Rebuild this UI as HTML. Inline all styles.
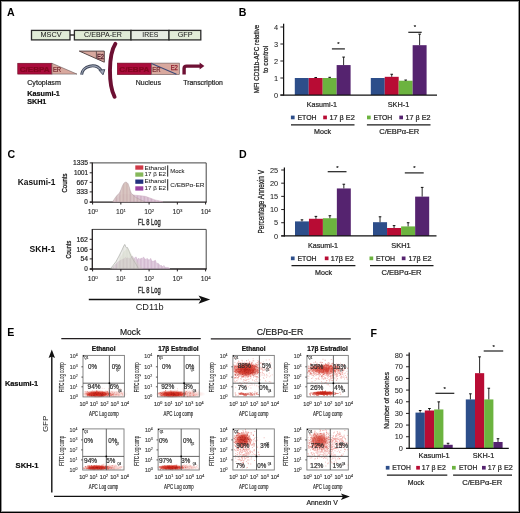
<!DOCTYPE html>
<html><head><meta charset="utf-8"><style>
html,body{margin:0;padding:0;background:#fff;width:520px;height:513px;overflow:hidden}
svg{display:block;font-family:"Liberation Sans",sans-serif;will-change:transform}
</style></head><body>
<svg width="520" height="513" viewBox="0 0 520 513">
<rect width="520" height="513" fill="#fff"/>
<text x="6.90" y="16.30" font-size="10.6" fill="#000" font-weight="bold">A</text>
<line x1="70.00" y1="35.00" x2="74.40" y2="35.00" stroke="#231f20" stroke-width="1.4"/>
<rect x="31.50" y="30.40" width="38.50" height="9.50" fill="#e1ecd7" stroke="#2b2b2b" stroke-width="1.3"/>
<text x="51.05" y="37.20" font-size="7" fill="#222" text-anchor="middle" textLength="21" lengthAdjust="spacingAndGlyphs" stroke="#333" stroke-width="0.05">MSCV</text>
<rect x="74.40" y="30.40" width="56.60" height="9.50" fill="#e1ecd7" stroke="#2b2b2b" stroke-width="1.3"/>
<text x="103.00" y="37.20" font-size="7" fill="#222" text-anchor="middle" textLength="37.8" lengthAdjust="spacingAndGlyphs" stroke="#333" stroke-width="0.05">C/EBPA-ER</text>
<rect x="131.00" y="30.40" width="38.00" height="9.50" fill="#e6ebe2" stroke="#2b2b2b" stroke-width="1.3"/>
<text x="150.30" y="37.20" font-size="7" fill="#222" text-anchor="middle" textLength="16" lengthAdjust="spacingAndGlyphs" stroke="#333" stroke-width="0.05">IRES</text>
<rect x="169.00" y="30.40" width="31.80" height="9.50" fill="#e1ecd7" stroke="#2b2b2b" stroke-width="1.3"/>
<text x="185.20" y="37.20" font-size="7" fill="#222" text-anchor="middle" textLength="15" lengthAdjust="spacingAndGlyphs" stroke="#333" stroke-width="0.05">GFP</text>
<rect x="17.75" y="63.25" width="34.15" height="10.85" fill="#aa0c3c" stroke="#6a0a22" stroke-width="0.6"/>
<text x="19.70" y="71.60" font-size="8" fill="#82061f" stroke="#82061f" stroke-width="0.22" font-weight="bold" textLength="30" lengthAdjust="spacingAndGlyphs">C/EBPA</text>
<polygon points="51.9,63.25 77,74.1 51.9,74.1" fill="#d8a89e" stroke="#6a5a5a" stroke-width="0.6"/>
<text x="52.90" y="72.40" font-size="7.4" fill="#6e2028" stroke="#6e2028" stroke-width="0.2" textLength="8.3" lengthAdjust="spacingAndGlyphs">ER</text>
<polygon points="79.3,51.1 104.3,51.1 104.3,62.2" fill="#d8a89e" stroke="#4a3a3a" stroke-width="0.9"/>
<line x1="96.40" y1="51.30" x2="96.40" y2="58.60" stroke="#4a3a3a" stroke-width="0.8"/>
<text x="96.90" y="58.60" font-size="7.6" fill="#e8b8b8" textLength="7.2" lengthAdjust="spacingAndGlyphs" stroke="#5a2430" stroke-width="0.55">E2</text>
<path d="M81.6,74.6 A10.6,9.4 0 0 1 101.2,70.4" fill="none" stroke="#3c4456" stroke-width="3"/>
<path d="M81.6,74.6 A10.6,9.4 0 0 1 101.2,70.4" fill="none" stroke="#a0a8ba" stroke-width="1.1"/>
<polygon points="99,70.2 104.8,69.6 103,74.8" fill="#a0a8ba" stroke="#3c4456" stroke-width="0.9" stroke-linejoin="round"/>
<path d="M115.4,43.8 C108.3,55 108.3,85 114.6,96.8" fill="none" stroke="#6c0f32" stroke-width="3.9" stroke-linecap="round"/>
<rect x="117.30" y="63.10" width="34.20" height="11.50" fill="#aa0c3c" stroke="#6a0a22" stroke-width="0.6"/>
<text x="119.30" y="71.80" font-size="8" fill="#82061f" stroke="#82061f" stroke-width="0.22" font-weight="bold" textLength="30" lengthAdjust="spacingAndGlyphs">C/EBPA</text>
<rect x="151.50" y="63.10" width="27.90" height="11.50" fill="#d8a89e" stroke="#6a5a5a" stroke-width="0.6"/>
<line x1="151.50" y1="63.50" x2="176.50" y2="74.20" stroke="#3c4a78" stroke-width="1.1"/>
<text x="152.20" y="72.20" font-size="7.4" fill="#6e2028" stroke="#6e2028" stroke-width="0.2" textLength="8.3" lengthAdjust="spacingAndGlyphs">ER</text>
<text x="170.70" y="70.20" font-size="7.5" fill="#8a1426" textLength="7.2" lengthAdjust="spacingAndGlyphs" stroke="#8a1426" stroke-width="0.25">E2</text>
<path d="M184.1,74.6 V68.6 Q184.1,66.1 186.6,66.1 H201" fill="none" stroke="#6e1034" stroke-width="3.4"/>
<polygon points="199.6,62.5 204.4,66.1 199.6,69.6" fill="#6e1034"/>
<text x="27.20" y="84.60" font-size="7" fill="#222" stroke="#222" stroke-width="0.2" textLength="33.7" lengthAdjust="spacingAndGlyphs">Cytoplasm</text>
<text x="27.20" y="95.90" font-size="7.2" fill="#111" stroke="#111" stroke-width="0.22" font-weight="bold" textLength="32.7" lengthAdjust="spacingAndGlyphs">Kasumi-1</text>
<text x="27.20" y="104.00" font-size="7.2" fill="#111" stroke="#111" stroke-width="0.22" font-weight="bold" textLength="19.2" lengthAdjust="spacingAndGlyphs">SKH1</text>
<text x="135.80" y="85.00" font-size="7" fill="#222" stroke="#222" stroke-width="0.2" textLength="25.2" lengthAdjust="spacingAndGlyphs">Nucleus</text>
<text x="183.30" y="84.90" font-size="7" fill="#222" stroke="#222" stroke-width="0.2" textLength="39.5" lengthAdjust="spacingAndGlyphs">Transcription</text>
<text x="238.80" y="16.40" font-size="10.6" fill="#000" font-weight="bold">B</text>
<rect x="294.80" y="78.00" width="13.95" height="17.00" fill="#2d4e8a"/>
<rect x="308.75" y="78.00" width="13.95" height="17.00" fill="#b80c34"/>
<line x1="315.73" y1="78.00" x2="315.73" y2="77.49" stroke="#111" stroke-width="0.9"/>
<line x1="314.43" y1="77.49" x2="317.03" y2="77.49" stroke="#111" stroke-width="1.0"/>
<rect x="322.70" y="78.00" width="13.95" height="17.00" fill="#6cb33f"/>
<line x1="329.68" y1="78.00" x2="329.68" y2="77.32" stroke="#111" stroke-width="0.9"/>
<line x1="328.38" y1="77.32" x2="330.98" y2="77.32" stroke="#111" stroke-width="1.0"/>
<rect x="336.65" y="65.08" width="13.95" height="29.92" fill="#55236f"/>
<line x1="343.62" y1="65.08" x2="343.62" y2="57.09" stroke="#111" stroke-width="0.9"/>
<line x1="342.32" y1="57.09" x2="344.93" y2="57.09" stroke="#111" stroke-width="1.0"/>
<rect x="370.80" y="78.00" width="13.95" height="17.00" fill="#2d4e8a"/>
<rect x="384.75" y="76.81" width="13.95" height="18.19" fill="#b80c34"/>
<line x1="391.73" y1="76.81" x2="391.73" y2="74.26" stroke="#111" stroke-width="0.9"/>
<line x1="390.43" y1="74.26" x2="393.03" y2="74.26" stroke="#111" stroke-width="1.0"/>
<rect x="398.70" y="80.72" width="13.95" height="14.28" fill="#6cb33f"/>
<line x1="405.68" y1="80.72" x2="405.68" y2="80.04" stroke="#111" stroke-width="0.9"/>
<line x1="404.38" y1="80.04" x2="406.98" y2="80.04" stroke="#111" stroke-width="1.0"/>
<rect x="412.65" y="45.19" width="13.95" height="49.81" fill="#55236f"/>
<line x1="419.62" y1="45.19" x2="419.62" y2="34.14" stroke="#111" stroke-width="0.9"/>
<line x1="418.32" y1="34.14" x2="420.93" y2="34.14" stroke="#111" stroke-width="1.0"/>
<line x1="283.60" y1="23.70" x2="283.60" y2="95.60" stroke="#111" stroke-width="1.25"/>
<line x1="280.40" y1="95.00" x2="437.00" y2="95.00" stroke="#111" stroke-width="1.25"/>
<line x1="280.40" y1="95.00" x2="283.60" y2="95.00" stroke="#231f20" stroke-width="1.0"/>
<text x="278.00" y="97.66" font-size="7.4" fill="#222" text-anchor="end" stroke="#333" stroke-width="0.05">0</text>
<line x1="280.40" y1="78.00" x2="283.60" y2="78.00" stroke="#231f20" stroke-width="1.0"/>
<text x="278.00" y="80.66" font-size="7.4" fill="#222" text-anchor="end" stroke="#333" stroke-width="0.05">1</text>
<line x1="280.40" y1="61.00" x2="283.60" y2="61.00" stroke="#231f20" stroke-width="1.0"/>
<text x="278.00" y="63.66" font-size="7.4" fill="#222" text-anchor="end" stroke="#333" stroke-width="0.05">2</text>
<line x1="280.40" y1="44.00" x2="283.60" y2="44.00" stroke="#231f20" stroke-width="1.0"/>
<text x="278.00" y="46.66" font-size="7.4" fill="#222" text-anchor="end" stroke="#333" stroke-width="0.05">3</text>
<line x1="280.40" y1="27.00" x2="283.60" y2="27.00" stroke="#231f20" stroke-width="1.0"/>
<text x="278.00" y="29.66" font-size="7.4" fill="#222" text-anchor="end" stroke="#333" stroke-width="0.05">4</text>
<line x1="331.90" y1="48.90" x2="344.90" y2="48.90" stroke="#1e1e1e" stroke-width="1.2"/>
<text x="338.50" y="46.40" font-size="6" fill="#222" stroke="#222" stroke-width="0.2" text-anchor="middle">*</text>
<line x1="408.30" y1="32.30" x2="421.70" y2="32.30" stroke="#1e1e1e" stroke-width="1.2"/>
<text x="415.00" y="29.40" font-size="6" fill="#222" stroke="#222" stroke-width="0.2" text-anchor="middle">*</text>
<text x="258.60" y="59.00" font-size="7.4" fill="#222" text-anchor="middle" textLength="68.6" lengthAdjust="spacingAndGlyphs" transform="rotate(-90 258.60 59.00)" stroke="#222" stroke-width="0.25">MFI CD11b-APC relative</text>
<text x="268.00" y="59.40" font-size="7.4" fill="#222" text-anchor="middle" textLength="27.3" lengthAdjust="spacingAndGlyphs" transform="rotate(-90 268.00 59.40)" stroke="#222" stroke-width="0.25">to control</text>
<text x="321.90" y="106.80" font-size="7.3" fill="#222" stroke="#222" stroke-width="0.2" text-anchor="middle" textLength="30.2" lengthAdjust="spacingAndGlyphs">Kasumi-1</text>
<text x="398.50" y="106.80" font-size="7.3" fill="#222" stroke="#222" stroke-width="0.2" text-anchor="middle">SKH-1</text>
<rect x="290.90" y="115.60" width="3.70" height="3.70" fill="#2d4e8a"/>
<text x="297.50" y="119.90" font-size="7" fill="#222" stroke="#222" stroke-width="0.2" textLength="19.1" lengthAdjust="spacingAndGlyphs">ETOH</text>
<rect x="323.20" y="115.60" width="3.70" height="3.70" fill="#b80c34"/>
<text x="329.40" y="119.90" font-size="7" fill="#222" stroke="#222" stroke-width="0.2" textLength="25.4" lengthAdjust="spacingAndGlyphs">17 β E2</text>
<rect x="367.00" y="115.60" width="3.70" height="3.70" fill="#6cb33f"/>
<text x="373.50" y="119.90" font-size="7" fill="#222" stroke="#222" stroke-width="0.2" textLength="18.8" lengthAdjust="spacingAndGlyphs">ETOH</text>
<rect x="399.30" y="115.60" width="3.70" height="3.70" fill="#55236f"/>
<text x="405.40" y="119.90" font-size="7" fill="#222" stroke="#222" stroke-width="0.2" textLength="25.1" lengthAdjust="spacingAndGlyphs">17 β E2</text>
<line x1="291.00" y1="124.80" x2="354.50" y2="124.80" stroke="#1a1a1a" stroke-width="1.3"/>
<line x1="366.90" y1="124.80" x2="430.50" y2="124.80" stroke="#1a1a1a" stroke-width="1.3"/>
<text x="322.50" y="133.70" font-size="7" fill="#222" stroke="#222" stroke-width="0.2" text-anchor="middle" textLength="17" lengthAdjust="spacingAndGlyphs">Mock</text>
<text x="399.20" y="133.70" font-size="7" fill="#222" stroke="#222" stroke-width="0.2" text-anchor="middle" textLength="40" lengthAdjust="spacingAndGlyphs">C/EBPα-ER</text>
<text x="7.40" y="157.70" font-size="10.6" fill="#000" font-weight="bold">C</text>
<text x="17.80" y="185.00" font-size="9" fill="#111" font-weight="bold" textLength="37.6" lengthAdjust="spacingAndGlyphs">Kasumi-1</text>
<text x="29.60" y="251.90" font-size="9" fill="#111" font-weight="bold" textLength="25.8" lengthAdjust="spacingAndGlyphs">SKH-1</text>
<line x1="92.30" y1="162.90" x2="206.20" y2="162.90" stroke="#444" stroke-width="1.0"/>
<line x1="206.20" y1="162.90" x2="206.20" y2="202.10" stroke="#444" stroke-width="1.0"/>
<line x1="92.30" y1="162.40" x2="92.30" y2="202.60" stroke="#231f20" stroke-width="1.3"/>
<line x1="89.80" y1="202.10" x2="206.70" y2="202.10" stroke="#231f20" stroke-width="1.3"/>
<line x1="89.70" y1="162.90" x2="92.30" y2="162.90" stroke="#231f20" stroke-width="1.0"/>
<text x="87.90" y="165.10" font-size="6.4" fill="#2a2a2a" stroke="#2a2a2a" stroke-width="0.2" text-anchor="end" textLength="15" lengthAdjust="spacingAndGlyphs">1335</text>
<line x1="89.70" y1="172.80" x2="92.30" y2="172.80" stroke="#231f20" stroke-width="1.0"/>
<text x="87.90" y="175.00" font-size="6.4" fill="#2a2a2a" stroke="#2a2a2a" stroke-width="0.2" text-anchor="end" textLength="14" lengthAdjust="spacingAndGlyphs">1001</text>
<line x1="89.70" y1="182.30" x2="92.30" y2="182.30" stroke="#231f20" stroke-width="1.0"/>
<text x="87.90" y="184.50" font-size="6.4" fill="#2a2a2a" stroke="#2a2a2a" stroke-width="0.2" text-anchor="end" textLength="11.5" lengthAdjust="spacingAndGlyphs">667</text>
<line x1="89.70" y1="191.90" x2="92.30" y2="191.90" stroke="#231f20" stroke-width="1.0"/>
<text x="87.90" y="194.10" font-size="6.4" fill="#2a2a2a" stroke="#2a2a2a" stroke-width="0.2" text-anchor="end" textLength="11.5" lengthAdjust="spacingAndGlyphs">333</text>
<line x1="89.70" y1="202.10" x2="92.30" y2="202.10" stroke="#231f20" stroke-width="1.0"/>
<text x="87.90" y="204.30" font-size="6.4" fill="#2a2a2a" stroke="#2a2a2a" stroke-width="0.2" text-anchor="end">0</text>
<line x1="92.60" y1="202.10" x2="92.60" y2="204.50" stroke="#231f20" stroke-width="1.0"/>
<text x="87.70" y="214.40" font-size="6.8" fill="#2a2a2a" stroke="#2a2a2a" stroke-width="0.1">10<tspan font-size="4.4" dy="-2.8">0</tspan></text>
<line x1="120.85" y1="202.10" x2="120.85" y2="204.50" stroke="#231f20" stroke-width="1.0"/>
<text x="115.95" y="214.40" font-size="6.8" fill="#2a2a2a" stroke="#2a2a2a" stroke-width="0.1">10<tspan font-size="4.4" dy="-2.8">1</tspan></text>
<line x1="149.10" y1="202.10" x2="149.10" y2="204.50" stroke="#231f20" stroke-width="1.0"/>
<text x="144.20" y="214.40" font-size="6.8" fill="#2a2a2a" stroke="#2a2a2a" stroke-width="0.1">10<tspan font-size="4.4" dy="-2.8">2</tspan></text>
<line x1="177.35" y1="202.10" x2="177.35" y2="204.50" stroke="#231f20" stroke-width="1.0"/>
<text x="172.45" y="214.40" font-size="6.8" fill="#2a2a2a" stroke="#2a2a2a" stroke-width="0.1">10<tspan font-size="4.4" dy="-2.8">3</tspan></text>
<line x1="205.60" y1="202.10" x2="205.60" y2="204.50" stroke="#231f20" stroke-width="1.0"/>
<text x="200.70" y="214.40" font-size="6.8" fill="#2a2a2a" stroke="#2a2a2a" stroke-width="0.1">10<tspan font-size="4.4" dy="-2.8">4</tspan></text>
<text x="66.60" y="183.00" font-size="7.4" fill="#222" text-anchor="middle" textLength="19" lengthAdjust="spacingAndGlyphs" transform="rotate(-90 66.60 183.00)" stroke="#222" stroke-width="0.3">Counts</text>
<text x="149.40" y="225.10" font-size="8.6" fill="#1e1e1e" text-anchor="middle" textLength="22.7" lengthAdjust="spacingAndGlyphs" stroke="#1e1e1e" stroke-width="0.3">FL 8 Log</text>
<line x1="92.30" y1="229.40" x2="206.20" y2="229.40" stroke="#444" stroke-width="1.0"/>
<line x1="206.20" y1="229.40" x2="206.20" y2="269.00" stroke="#444" stroke-width="1.0"/>
<line x1="92.30" y1="228.90" x2="92.30" y2="269.50" stroke="#231f20" stroke-width="1.3"/>
<line x1="89.80" y1="269.00" x2="206.70" y2="269.00" stroke="#231f20" stroke-width="1.3"/>
<line x1="89.70" y1="239.30" x2="92.30" y2="239.30" stroke="#231f20" stroke-width="1.0"/>
<text x="87.90" y="241.50" font-size="6.4" fill="#2a2a2a" stroke="#2a2a2a" stroke-width="0.2" text-anchor="end" textLength="11.5" lengthAdjust="spacingAndGlyphs">162</text>
<line x1="89.70" y1="249.30" x2="92.30" y2="249.30" stroke="#231f20" stroke-width="1.0"/>
<text x="87.90" y="251.50" font-size="6.4" fill="#2a2a2a" stroke="#2a2a2a" stroke-width="0.2" text-anchor="end" textLength="11.5" lengthAdjust="spacingAndGlyphs">106</text>
<line x1="89.70" y1="258.90" x2="92.30" y2="258.90" stroke="#231f20" stroke-width="1.0"/>
<text x="87.90" y="261.10" font-size="6.4" fill="#2a2a2a" stroke="#2a2a2a" stroke-width="0.2" text-anchor="end" textLength="7.5" lengthAdjust="spacingAndGlyphs">54</text>
<line x1="89.70" y1="269.00" x2="92.30" y2="269.00" stroke="#231f20" stroke-width="1.0"/>
<text x="87.90" y="271.20" font-size="6.4" fill="#2a2a2a" stroke="#2a2a2a" stroke-width="0.2" text-anchor="end">0</text>
<line x1="92.60" y1="269.00" x2="92.60" y2="271.40" stroke="#231f20" stroke-width="1.0"/>
<text x="87.70" y="281.30" font-size="6.8" fill="#2a2a2a" stroke="#2a2a2a" stroke-width="0.1">10<tspan font-size="4.4" dy="-2.8">0</tspan></text>
<line x1="120.85" y1="269.00" x2="120.85" y2="271.40" stroke="#231f20" stroke-width="1.0"/>
<text x="115.95" y="281.30" font-size="6.8" fill="#2a2a2a" stroke="#2a2a2a" stroke-width="0.1">10<tspan font-size="4.4" dy="-2.8">1</tspan></text>
<line x1="149.10" y1="269.00" x2="149.10" y2="271.40" stroke="#231f20" stroke-width="1.0"/>
<text x="144.20" y="281.30" font-size="6.8" fill="#2a2a2a" stroke="#2a2a2a" stroke-width="0.1">10<tspan font-size="4.4" dy="-2.8">2</tspan></text>
<line x1="177.35" y1="269.00" x2="177.35" y2="271.40" stroke="#231f20" stroke-width="1.0"/>
<text x="172.45" y="281.30" font-size="6.8" fill="#2a2a2a" stroke="#2a2a2a" stroke-width="0.1">10<tspan font-size="4.4" dy="-2.8">3</tspan></text>
<line x1="205.60" y1="269.00" x2="205.60" y2="271.40" stroke="#231f20" stroke-width="1.0"/>
<text x="200.70" y="281.30" font-size="6.8" fill="#2a2a2a" stroke="#2a2a2a" stroke-width="0.1">10<tspan font-size="4.4" dy="-2.8">4</tspan></text>
<text x="70.60" y="249.70" font-size="7.4" fill="#222" text-anchor="middle" textLength="17.8" lengthAdjust="spacingAndGlyphs" transform="rotate(-90 70.60 249.70)" stroke="#222" stroke-width="0.3">Counts</text>
<text x="149.40" y="293.30" font-size="8.6" fill="#1e1e1e" text-anchor="middle" textLength="22.7" lengthAdjust="spacingAndGlyphs" stroke="#1e1e1e" stroke-width="0.3">FL 8 Log</text>
<defs><pattern id="hat" width="1.4" height="2" patternUnits="userSpaceOnUse"><rect width="1.4" height="2" fill="#ddcbcb"/><rect width="0.6" height="2" fill="#c6abb0"/></pattern><pattern id="hat2" width="1.4" height="2" patternUnits="userSpaceOnUse"><rect width="1.4" height="2" fill="#dfc9d8"/><rect width="0.6" height="2" fill="#c8a6c0"/></pattern><pattern id="hat3" width="1.4" height="2" patternUnits="userSpaceOnUse"><rect width="1.4" height="2" fill="#dcdcd6"/><rect width="0.6" height="2" fill="#c4c6bc"/></pattern><pattern id="hat4" width="1.4" height="2" patternUnits="userSpaceOnUse"><rect width="1.4" height="2" fill="#e2cfe0"/><rect width="0.6" height="2" fill="#cdb0ca"/></pattern></defs>
<polygon points="113.5,201.7 117.0,198.5 120.0,195.5 123.0,194.2 127.0,194.2 131.0,194.6 135.0,195.2 139.0,195.6 143.0,196.0 146.0,196.5 150.0,198.0 155.0,199.9 160.0,201.0 163.0,201.7" fill="url(#hat2)" fill-opacity="0.95" stroke="#c8a2b8" stroke-width="0.5" stroke-opacity="0.8"/>
<polygon points="112.6,201.7 114.0,199.6 115.5,197.3 117.5,194.8 119.5,193.0 121.0,189.5 122.3,186.2 123.6,183.6 125.0,182.3 125.8,182.1 126.8,182.4 128.0,183.6 129.2,186.8 130.2,190.2 131.2,193.0 133.0,195.0 136.0,197.5 140.0,199.6 145.0,201.7" fill="url(#hat)" fill-opacity="0.92" stroke="#a89498" stroke-width="0.5" stroke-opacity="0.8"/>
<polygon points="119.0,201.7 121.5,190.0 123.5,184.5 125.5,182.5 127.0,183.0 128.5,185.5 129.5,190.0 130.0,201.7" fill="#d0b8a8" fill-opacity="0.3"/>
<polygon points="112.0,268.6 115.0,265.0 118.0,262.0 121.0,260.0 124.0,258.8 125.5,257.3 126.7,258.4 127.9,257.7 129.1,258.6 130.3,258.7 131.5,256.6 132.7,256.4 133.9,259.4 135.1,257.3 136.3,257.2 137.5,260.0 138.7,258.1 139.9,259.4 141.1,258.1 142.3,258.7 143.5,256.9 144.7,258.7 145.9,259.5 147.1,258.3 148.3,259.7 149.5,259.9 150.7,258.3 151.9,261.3 153.1,261.3 154.3,260.8 155.5,260.3 156.7,263.9 157.9,263.0 159.1,264.4 160.3,265.5 161.5,265.5 162.7,266.8 163.9,265.4 165.1,267.4 168.0,267.5 170.0,268.6" fill="url(#hat4)" fill-opacity="0.95" stroke="#c8a8c6" stroke-width="0.5" stroke-opacity="0.8"/>
<polygon points="110.5,268.6 113.0,265.5 116.0,261.5 119.0,256.0 121.5,251.0 123.3,247.0 124.4,244.8 125.0,244.5 125.8,247.0 126.6,247.8 127.5,247.6 128.4,249.5 130.0,253.5 132.0,258.0 135.0,262.5 138.5,268.6" fill="url(#hat3)" fill-opacity="0.5" stroke="#8e9088" stroke-width="0.6" stroke-opacity="0.8"/>
<polygon points="117.0,268.6 120.0,258.0 123.5,252.0 126.0,249.5 127.8,248.4 129.5,250.5 132.0,255.0 135.0,259.5 139.0,264.0 143.0,268.6" fill="#cdd3bf" fill-opacity="0.35"/>
<line x1="88.80" y1="299.50" x2="200.00" y2="299.50" stroke="#111" stroke-width="1.3"/>
<polygon points="198.5,295.4 210.2,299.5 198.5,303.7 201,299.5" fill="#111"/>
<text x="149.70" y="310.00" font-size="9" fill="#1a1a1a" text-anchor="middle" textLength="28" lengthAdjust="spacingAndGlyphs">CD11b</text>
<rect x="135.30" y="165.40" width="8.00" height="4.30" fill="#cf3a48"/>
<text x="144.60" y="169.50" font-size="5.8" fill="#222" textLength="21.4" lengthAdjust="spacingAndGlyphs" stroke="#222" stroke-width="0.05">Ethanol</text>
<rect x="135.30" y="172.40" width="8.00" height="4.30" fill="#86b85a"/>
<text x="144.60" y="176.30" font-size="5.8" fill="#222" textLength="21.4" lengthAdjust="spacingAndGlyphs" stroke="#222" stroke-width="0.05">17 β E2</text>
<rect x="135.30" y="179.50" width="8.00" height="4.30" fill="#22307e"/>
<text x="144.60" y="183.20" font-size="5.8" fill="#222" textLength="21.4" lengthAdjust="spacingAndGlyphs" stroke="#222" stroke-width="0.05">Ethanol</text>
<rect x="135.30" y="186.30" width="8.00" height="4.30" fill="#9b44a4"/>
<text x="144.60" y="190.00" font-size="5.8" fill="#222" textLength="21.4" lengthAdjust="spacingAndGlyphs" stroke="#222" stroke-width="0.05">17 β E2</text>
<line x1="167.70" y1="165.40" x2="167.70" y2="176.60" stroke="#222" stroke-width="1.0"/>
<line x1="167.70" y1="179.20" x2="167.70" y2="190.50" stroke="#222" stroke-width="1.0"/>
<text x="170.30" y="172.60" font-size="6" fill="#222" textLength="14.3" lengthAdjust="spacingAndGlyphs" stroke="#222" stroke-width="0.05">Mock</text>
<text x="170.30" y="186.50" font-size="6" fill="#222" textLength="34" lengthAdjust="spacingAndGlyphs" stroke="#222" stroke-width="0.05">C/EBPα-ER</text>
<text x="238.90" y="157.60" font-size="10.6" fill="#000" font-weight="bold">D</text>
<rect x="295.00" y="221.40" width="13.95" height="14.50" fill="#2d4e8a"/>
<line x1="301.98" y1="221.40" x2="301.98" y2="219.82" stroke="#111" stroke-width="0.9"/>
<line x1="300.68" y1="219.82" x2="303.28" y2="219.82" stroke="#111" stroke-width="1.0"/>
<rect x="308.95" y="218.77" width="13.95" height="17.13" fill="#b80c34"/>
<line x1="315.93" y1="218.77" x2="315.93" y2="216.39" stroke="#111" stroke-width="0.9"/>
<line x1="314.62" y1="216.39" x2="317.23" y2="216.39" stroke="#111" stroke-width="1.0"/>
<rect x="322.90" y="218.24" width="13.95" height="17.66" fill="#6cb33f"/>
<line x1="329.88" y1="218.24" x2="329.88" y2="215.73" stroke="#111" stroke-width="0.9"/>
<line x1="328.57" y1="215.73" x2="331.18" y2="215.73" stroke="#111" stroke-width="1.0"/>
<rect x="336.85" y="188.45" width="13.95" height="47.45" fill="#55236f"/>
<line x1="343.83" y1="188.45" x2="343.83" y2="184.23" stroke="#111" stroke-width="0.9"/>
<line x1="342.53" y1="184.23" x2="345.13" y2="184.23" stroke="#111" stroke-width="1.0"/>
<rect x="373.00" y="222.19" width="14.05" height="13.71" fill="#2d4e8a"/>
<line x1="380.02" y1="222.19" x2="380.02" y2="216.79" stroke="#111" stroke-width="0.9"/>
<line x1="378.72" y1="216.79" x2="381.32" y2="216.79" stroke="#111" stroke-width="1.0"/>
<rect x="387.05" y="227.99" width="14.05" height="7.91" fill="#b80c34"/>
<line x1="394.07" y1="227.99" x2="394.07" y2="225.62" stroke="#111" stroke-width="0.9"/>
<line x1="392.77" y1="225.62" x2="395.38" y2="225.62" stroke="#111" stroke-width="1.0"/>
<rect x="401.10" y="226.41" width="14.05" height="9.49" fill="#6cb33f"/>
<line x1="408.12" y1="226.41" x2="408.12" y2="222.72" stroke="#111" stroke-width="0.9"/>
<line x1="406.82" y1="222.72" x2="409.43" y2="222.72" stroke="#111" stroke-width="1.0"/>
<rect x="415.15" y="196.62" width="14.05" height="39.28" fill="#55236f"/>
<line x1="422.17" y1="196.62" x2="422.17" y2="187.40" stroke="#111" stroke-width="0.9"/>
<line x1="420.87" y1="187.40" x2="423.47" y2="187.40" stroke="#111" stroke-width="1.0"/>
<line x1="284.40" y1="167.50" x2="284.40" y2="236.50" stroke="#111" stroke-width="1.25"/>
<line x1="281.20" y1="235.90" x2="436.50" y2="235.90" stroke="#111" stroke-width="1.25"/>
<line x1="281.20" y1="235.90" x2="284.40" y2="235.90" stroke="#231f20" stroke-width="1.0"/>
<text x="278.20" y="238.56" font-size="7.4" fill="#222" text-anchor="end" stroke="#333" stroke-width="0.05">0</text>
<line x1="281.20" y1="222.72" x2="284.40" y2="222.72" stroke="#231f20" stroke-width="1.0"/>
<text x="278.20" y="225.38" font-size="7.4" fill="#222" text-anchor="end" stroke="#333" stroke-width="0.05">5</text>
<line x1="281.20" y1="209.54" x2="284.40" y2="209.54" stroke="#231f20" stroke-width="1.0"/>
<text x="278.20" y="212.20" font-size="7.4" fill="#222" text-anchor="end" stroke="#333" stroke-width="0.05">10</text>
<line x1="281.20" y1="196.36" x2="284.40" y2="196.36" stroke="#231f20" stroke-width="1.0"/>
<text x="278.20" y="199.02" font-size="7.4" fill="#222" text-anchor="end" stroke="#333" stroke-width="0.05">15</text>
<line x1="281.20" y1="183.18" x2="284.40" y2="183.18" stroke="#231f20" stroke-width="1.0"/>
<text x="278.20" y="185.84" font-size="7.4" fill="#222" text-anchor="end" stroke="#333" stroke-width="0.05">20</text>
<line x1="281.20" y1="170.00" x2="284.40" y2="170.00" stroke="#231f20" stroke-width="1.0"/>
<text x="278.20" y="172.66" font-size="7.4" fill="#222" text-anchor="end" stroke="#333" stroke-width="0.05">25</text>
<line x1="327.70" y1="171.70" x2="346.50" y2="171.70" stroke="#1e1e1e" stroke-width="1.2"/>
<text x="337.30" y="169.70" font-size="6" fill="#222" stroke="#222" stroke-width="0.2" text-anchor="middle">*</text>
<line x1="404.80" y1="172.90" x2="423.70" y2="172.90" stroke="#1e1e1e" stroke-width="1.2"/>
<text x="414.40" y="170.10" font-size="6" fill="#222" stroke="#222" stroke-width="0.2" text-anchor="middle">*</text>
<text x="263.60" y="201.70" font-size="8.4" fill="#222" text-anchor="middle" textLength="63.4" lengthAdjust="spacingAndGlyphs" transform="rotate(-90 263.60 201.70)" stroke="#222" stroke-width="0.25">Percentage Annexin V</text>
<text x="323.00" y="247.50" font-size="7.3" fill="#222" stroke="#222" stroke-width="0.2" text-anchor="middle" textLength="30.2" lengthAdjust="spacingAndGlyphs">Kasumi-1</text>
<text x="401.00" y="247.50" font-size="7.3" fill="#222" stroke="#222" stroke-width="0.2" text-anchor="middle" textLength="19.3" lengthAdjust="spacingAndGlyphs">SKH1</text>
<rect x="290.90" y="256.50" width="3.70" height="3.70" fill="#2d4e8a"/>
<text x="297.50" y="260.80" font-size="7" fill="#222" stroke="#222" stroke-width="0.2" textLength="19.1" lengthAdjust="spacingAndGlyphs">ETOH</text>
<rect x="324.80" y="256.50" width="3.70" height="3.70" fill="#b80c34"/>
<text x="330.80" y="260.80" font-size="7" fill="#222" stroke="#222" stroke-width="0.2" textLength="23" lengthAdjust="spacingAndGlyphs">17β E2</text>
<rect x="369.50" y="256.50" width="3.70" height="3.70" fill="#6cb33f"/>
<text x="376.00" y="260.80" font-size="7" fill="#222" stroke="#222" stroke-width="0.2" textLength="19.1" lengthAdjust="spacingAndGlyphs">ETOH</text>
<rect x="401.80" y="256.50" width="3.70" height="3.70" fill="#55236f"/>
<text x="408.50" y="260.80" font-size="7" fill="#222" stroke="#222" stroke-width="0.2" textLength="23" lengthAdjust="spacingAndGlyphs">17β E2</text>
<line x1="291.50" y1="265.60" x2="355.40" y2="265.60" stroke="#1a1a1a" stroke-width="1.3"/>
<line x1="370.00" y1="265.60" x2="433.50" y2="265.60" stroke="#1a1a1a" stroke-width="1.3"/>
<text x="323.50" y="274.90" font-size="7" fill="#222" stroke="#222" stroke-width="0.2" text-anchor="middle" textLength="17" lengthAdjust="spacingAndGlyphs">Mock</text>
<text x="401.50" y="274.80" font-size="7" fill="#222" stroke="#222" stroke-width="0.2" text-anchor="middle" textLength="40" lengthAdjust="spacingAndGlyphs">C/EBPα-ER</text>
<text x="7.20" y="336.00" font-size="10.6" fill="#000" font-weight="bold">E</text>
<text x="130.20" y="334.60" font-size="8.5" fill="#1a1a1a" text-anchor="middle" textLength="20.4" lengthAdjust="spacingAndGlyphs" stroke="#1a1a1a" stroke-width="0.18">Mock</text>
<text x="280.00" y="334.80" font-size="8.5" fill="#1a1a1a" text-anchor="middle" textLength="46.5" lengthAdjust="spacingAndGlyphs" stroke="#1a1a1a" stroke-width="0.18">C/EBPα-ER</text>
<line x1="61.30" y1="338.70" x2="200.80" y2="338.70" stroke="#231f20" stroke-width="1.3"/>
<line x1="210.80" y1="338.90" x2="350.80" y2="338.90" stroke="#231f20" stroke-width="1.3"/>
<text x="4.90" y="386.10" font-size="7.5" fill="#111" stroke="#111" stroke-width="0.22" font-weight="bold" textLength="33.3" lengthAdjust="spacingAndGlyphs">Kasumi-1</text>
<text x="15.60" y="467.60" font-size="8" fill="#111" stroke="#111" stroke-width="0.22" font-weight="bold" textLength="22.8" lengthAdjust="spacingAndGlyphs">SKH-1</text>
<line x1="51.80" y1="492.50" x2="51.80" y2="356.00" stroke="#111" stroke-width="1.4"/>
<polygon points="48.6,358 51.8,349.5 55,358 51.8,356.5" fill="#111"/>
<text x="47.60" y="423.90" font-size="8" fill="#222" text-anchor="middle" textLength="16.4" lengthAdjust="spacingAndGlyphs" transform="rotate(-90 47.60 423.90)">GFP</text>
<line x1="54.00" y1="496.40" x2="343.00" y2="496.40" stroke="#111" stroke-width="1.4"/>
<polygon points="340.9,493.4 349.9,496.4 340.9,499.9 343,496.4" fill="#111"/>
<text x="322.10" y="505.30" font-size="7" fill="#222" stroke="#222" stroke-width="0.2" text-anchor="middle" textLength="31.4" lengthAdjust="spacingAndGlyphs">Annexin V</text>
<defs><radialGradient id="rg"><stop offset="0" stop-color="#c41c0e" stop-opacity="0.95"/><stop offset="0.55" stop-color="#d22a18" stop-opacity="0.75"/><stop offset="1" stop-color="#e26050" stop-opacity="0"/></radialGradient></defs>
<path d="M97.0 394.4h0.9v0.9h-0.9zM120.9 392.3h0.9v0.9h-0.9zM95.8 393.3h0.9v0.9h-0.9zM115.4 396.1h0.9v0.9h-0.9zM97.1 390.5h0.9v0.9h-0.9zM117.8 394.6h0.9v0.9h-0.9zM109.1 392.9h0.9v0.9h-0.9zM101.7 390.8h0.9v0.9h-0.9zM111.2 393.8h0.9v0.9h-0.9zM106.5 393.4h0.9v0.9h-0.9zM113.1 395.1h0.9v0.9h-0.9zM122.0 394.0h0.9v0.9h-0.9zM90.9 395.1h0.9v0.9h-0.9zM94.9 393.1h0.9v0.9h-0.9zM94.3 393.5h0.9v0.9h-0.9zM101.8 394.0h0.9v0.9h-0.9zM119.3 390.4h0.9v0.9h-0.9zM107.1 395.1h0.9v0.9h-0.9zM109.2 394.4h0.9v0.9h-0.9zM111.3 391.1h0.9v0.9h-0.9zM116.3 391.6h0.9v0.9h-0.9zM117.6 393.5h0.9v0.9h-0.9zM120.5 392.1h0.9v0.9h-0.9zM121.0 393.2h0.9v0.9h-0.9zM111.7 391.7h0.9v0.9h-0.9zM118.5 394.6h0.9v0.9h-0.9zM116.2 394.7h0.9v0.9h-0.9zM113.3 394.0h0.9v0.9h-0.9zM112.2 392.1h0.9v0.9h-0.9zM99.2 392.6h0.9v0.9h-0.9zM120.8 396.0h0.9v0.9h-0.9zM118.6 395.1h0.9v0.9h-0.9zM112.2 395.3h0.9v0.9h-0.9zM112.8 395.8h0.9v0.9h-0.9zM119.6 390.8h0.9v0.9h-0.9zM112.1 395.3h0.9v0.9h-0.9zM111.6 391.4h0.9v0.9h-0.9zM109.0 394.4h0.9v0.9h-0.9zM122.3 395.2h0.9v0.9h-0.9zM102.0 395.4h0.9v0.9h-0.9zM122.2 392.8h0.9v0.9h-0.9zM90.9 391.4h0.9v0.9h-0.9zM112.8 394.7h0.9v0.9h-0.9zM110.2 395.0h0.9v0.9h-0.9zM108.5 388.0h0.9v0.9h-0.9zM121.0 391.4h0.9v0.9h-0.9zM105.7 394.0h0.9v0.9h-0.9zM102.8 392.4h0.9v0.9h-0.9zM117.3 394.2h0.9v0.9h-0.9zM90.5 391.8h0.9v0.9h-0.9zM103.6 392.3h0.9v0.9h-0.9zM116.5 392.7h0.9v0.9h-0.9zM118.7 393.7h0.9v0.9h-0.9zM106.6 393.8h0.9v0.9h-0.9zM114.8 395.5h0.9v0.9h-0.9zM105.0 393.0h0.9v0.9h-0.9zM105.0 390.6h0.9v0.9h-0.9zM112.0 394.0h0.9v0.9h-0.9zM101.8 387.8h0.9v0.9h-0.9zM92.8 393.9h0.9v0.9h-0.9zM122.3 394.8h0.9v0.9h-0.9zM108.3 388.5h0.9v0.9h-0.9zM108.8 389.9h0.9v0.9h-0.9zM116.6 388.5h0.9v0.9h-0.9zM93.6 395.6h0.9v0.9h-0.9zM119.4 391.2h0.9v0.9h-0.9zM102.7 391.9h0.9v0.9h-0.9zM97.4 391.9h0.9v0.9h-0.9zM123.7 395.1h0.9v0.9h-0.9zM108.7 391.2h0.9v0.9h-0.9zM108.9 390.4h0.9v0.9h-0.9zM91.0 395.1h0.9v0.9h-0.9zM102.4 393.7h0.9v0.9h-0.9zM106.2 390.9h0.9v0.9h-0.9zM91.9 390.0h0.9v0.9h-0.9zM110.1 393.9h0.9v0.9h-0.9zM112.1 394.9h0.9v0.9h-0.9zM123.4 391.6h0.9v0.9h-0.9zM88.9 395.3h0.9v0.9h-0.9zM113.8 395.9h0.9v0.9h-0.9zM118.4 388.6h0.9v0.9h-0.9zM118.0 391.9h0.9v0.9h-0.9zM102.0 392.5h0.9v0.9h-0.9zM118.5 395.6h0.9v0.9h-0.9zM121.1 389.6h0.9v0.9h-0.9zM103.8 387.9h0.9v0.9h-0.9zM109.1 394.9h0.9v0.9h-0.9zM101.9 394.1h0.9v0.9h-0.9zM112.7 395.9h0.9v0.9h-0.9zM101.3 391.6h0.9v0.9h-0.9zM122.0 393.2h0.9v0.9h-0.9zM112.6 393.8h0.9v0.9h-0.9zM112.4 393.0h0.9v0.9h-0.9zM106.6 390.6h0.9v0.9h-0.9zM116.0 393.7h0.9v0.9h-0.9zM107.9 393.6h0.9v0.9h-0.9zM114.0 392.0h0.9v0.9h-0.9zM112.3 394.1h0.9v0.9h-0.9zM102.1 391.7h0.9v0.9h-0.9zM99.4 391.0h0.9v0.9h-0.9zM119.8 388.0h0.9v0.9h-0.9zM107.3 392.1h0.9v0.9h-0.9zM103.5 393.7h0.9v0.9h-0.9zM122.4 393.7h0.9v0.9h-0.9zM108.7 392.1h0.9v0.9h-0.9z" fill="#e6706a" fill-opacity="0.3"/>
<ellipse cx="111.4" cy="394.0" rx="16.799999999999997" ry="3.9000000000000004" fill="url(#rg)" fill-opacity="0.25"/>
<ellipse cx="97" cy="394.0" rx="15.0" ry="3.9000000000000004" fill="url(#rg)" fill-opacity="1"/>
<path d="M96.2 395.1h0.9v0.9h-0.9zM94.6 392.7h0.9v0.9h-0.9zM89.4 392.7h0.9v0.9h-0.9zM88.7 395.3h0.9v0.9h-0.9zM99.1 393.7h0.9v0.9h-0.9zM105.8 393.2h0.9v0.9h-0.9zM101.5 394.9h0.9v0.9h-0.9zM87.7 392.2h0.9v0.9h-0.9zM91.4 395.1h0.9v0.9h-0.9zM104.8 392.6h0.9v0.9h-0.9zM103.3 393.6h0.9v0.9h-0.9zM94.6 393.4h0.9v0.9h-0.9zM95.1 391.9h0.9v0.9h-0.9zM91.0 392.6h0.9v0.9h-0.9zM113.4 393.6h0.9v0.9h-0.9zM86.7 393.5h0.9v0.9h-0.9zM100.4 393.1h0.9v0.9h-0.9zM102.6 394.6h0.9v0.9h-0.9zM87.2 393.4h0.9v0.9h-0.9zM95.6 394.0h0.9v0.9h-0.9zM97.8 393.6h0.9v0.9h-0.9zM98.1 393.3h0.9v0.9h-0.9zM91.6 395.8h0.9v0.9h-0.9zM99.2 394.5h0.9v0.9h-0.9zM87.4 393.8h0.9v0.9h-0.9zM101.9 392.5h0.9v0.9h-0.9zM103.6 393.5h0.9v0.9h-0.9zM99.4 393.8h0.9v0.9h-0.9zM98.3 395.4h0.9v0.9h-0.9zM94.6 395.8h0.9v0.9h-0.9zM92.3 392.9h0.9v0.9h-0.9zM101.3 392.8h0.9v0.9h-0.9zM94.8 395.1h0.9v0.9h-0.9zM104.3 391.9h0.9v0.9h-0.9zM100.0 396.2h0.9v0.9h-0.9zM104.2 393.7h0.9v0.9h-0.9zM93.4 393.7h0.9v0.9h-0.9zM90.1 393.7h0.9v0.9h-0.9zM95.9 393.8h0.9v0.9h-0.9zM104.1 393.7h0.9v0.9h-0.9zM88.3 395.2h0.9v0.9h-0.9zM90.6 393.5h0.9v0.9h-0.9zM96.2 393.6h0.9v0.9h-0.9zM91.0 393.7h0.9v0.9h-0.9zM110.1 393.3h0.9v0.9h-0.9zM96.2 395.3h0.9v0.9h-0.9zM101.5 394.9h0.9v0.9h-0.9zM102.2 391.7h0.9v0.9h-0.9zM91.8 394.2h0.9v0.9h-0.9zM100.0 395.5h0.9v0.9h-0.9zM99.8 393.7h0.9v0.9h-0.9zM97.2 393.8h0.9v0.9h-0.9zM98.5 394.8h0.9v0.9h-0.9zM95.0 393.0h0.9v0.9h-0.9zM91.9 395.3h0.9v0.9h-0.9zM104.7 395.2h0.9v0.9h-0.9zM102.1 395.0h0.9v0.9h-0.9zM97.0 394.8h0.9v0.9h-0.9zM90.7 393.8h0.9v0.9h-0.9zM92.6 394.9h0.9v0.9h-0.9zM93.5 393.9h0.9v0.9h-0.9zM99.4 395.6h0.9v0.9h-0.9zM92.2 392.9h0.9v0.9h-0.9zM101.9 392.7h0.9v0.9h-0.9zM99.7 393.3h0.9v0.9h-0.9zM96.4 391.9h0.9v0.9h-0.9zM101.3 393.4h0.9v0.9h-0.9zM99.4 393.6h0.9v0.9h-0.9zM97.6 395.9h0.9v0.9h-0.9zM96.8 394.5h0.9v0.9h-0.9zM100.1 392.9h0.9v0.9h-0.9zM97.8 393.4h0.9v0.9h-0.9zM89.5 395.0h0.9v0.9h-0.9zM101.0 394.1h0.9v0.9h-0.9zM91.6 391.7h0.9v0.9h-0.9zM99.9 393.9h0.9v0.9h-0.9zM86.9 393.9h0.9v0.9h-0.9zM87.9 394.0h0.9v0.9h-0.9zM97.9 394.4h0.9v0.9h-0.9zM98.3 394.2h0.9v0.9h-0.9zM90.2 393.6h0.9v0.9h-0.9zM93.9 393.7h0.9v0.9h-0.9zM98.6 394.7h0.9v0.9h-0.9zM106.8 391.0h0.9v0.9h-0.9zM99.4 393.8h0.9v0.9h-0.9zM110.7 395.1h0.9v0.9h-0.9zM87.1 394.5h0.9v0.9h-0.9zM93.9 395.2h0.9v0.9h-0.9zM90.7 393.9h0.9v0.9h-0.9zM96.2 393.9h0.9v0.9h-0.9zM93.5 391.8h0.9v0.9h-0.9zM99.8 395.2h0.9v0.9h-0.9zM96.6 392.8h0.9v0.9h-0.9zM98.2 394.7h0.9v0.9h-0.9zM95.9 394.0h0.9v0.9h-0.9zM105.5 392.7h0.9v0.9h-0.9zM93.7 391.8h0.9v0.9h-0.9zM92.8 393.1h0.9v0.9h-0.9zM91.2 393.2h0.9v0.9h-0.9zM107.8 393.8h0.9v0.9h-0.9zM96.6 392.0h0.9v0.9h-0.9zM99.4 392.9h0.9v0.9h-0.9zM106.8 392.5h0.9v0.9h-0.9zM93.5 392.1h0.9v0.9h-0.9zM97.6 392.8h0.9v0.9h-0.9zM96.6 393.6h0.9v0.9h-0.9zM93.3 395.1h0.9v0.9h-0.9zM102.6 394.1h0.9v0.9h-0.9zM91.6 392.7h0.9v0.9h-0.9zM94.3 393.1h0.9v0.9h-0.9zM92.8 392.7h0.9v0.9h-0.9zM91.2 393.8h0.9v0.9h-0.9zM105.6 394.0h0.9v0.9h-0.9zM93.9 392.1h0.9v0.9h-0.9zM98.3 394.0h0.9v0.9h-0.9zM89.6 392.7h0.9v0.9h-0.9zM96.7 395.2h0.9v0.9h-0.9zM100.8 394.2h0.9v0.9h-0.9zM95.1 394.4h0.9v0.9h-0.9zM90.2 393.6h0.9v0.9h-0.9zM104.6 393.7h0.9v0.9h-0.9zM105.5 393.9h0.9v0.9h-0.9zM97.9 393.6h0.9v0.9h-0.9zM88.7 392.9h0.9v0.9h-0.9zM110.3 394.8h0.9v0.9h-0.9zM100.6 395.1h0.9v0.9h-0.9zM100.4 395.2h0.9v0.9h-0.9zM95.4 393.7h0.9v0.9h-0.9zM102.9 393.6h0.9v0.9h-0.9zM89.0 393.7h0.9v0.9h-0.9zM93.7 394.7h0.9v0.9h-0.9zM92.7 392.8h0.9v0.9h-0.9zM95.0 395.8h0.9v0.9h-0.9zM96.7 394.2h0.9v0.9h-0.9zM97.1 394.3h0.9v0.9h-0.9zM102.6 395.6h0.9v0.9h-0.9zM87.1 395.6h0.9v0.9h-0.9zM97.0 393.6h0.9v0.9h-0.9zM111.4 393.8h0.9v0.9h-0.9zM108.7 395.1h0.9v0.9h-0.9zM90.8 394.6h0.9v0.9h-0.9zM101.4 393.9h0.9v0.9h-0.9zM95.9 392.7h0.9v0.9h-0.9zM108.0 393.7h0.9v0.9h-0.9zM94.6 393.6h0.9v0.9h-0.9zM92.3 393.1h0.9v0.9h-0.9zM97.6 394.4h0.9v0.9h-0.9zM94.0 393.9h0.9v0.9h-0.9zM88.7 394.6h0.9v0.9h-0.9zM92.5 394.3h0.9v0.9h-0.9zM91.6 393.4h0.9v0.9h-0.9zM98.3 392.6h0.9v0.9h-0.9zM111.8 394.0h0.9v0.9h-0.9zM96.6 393.1h0.9v0.9h-0.9zM106.6 395.6h0.9v0.9h-0.9zM98.8 392.4h0.9v0.9h-0.9zM94.0 394.7h0.9v0.9h-0.9zM93.9 392.6h0.9v0.9h-0.9zM89.9 393.1h0.9v0.9h-0.9zM97.1 393.2h0.9v0.9h-0.9zM107.6 392.8h0.9v0.9h-0.9zM99.1 394.1h0.9v0.9h-0.9zM96.2 395.2h0.9v0.9h-0.9zM95.0 393.6h0.9v0.9h-0.9zM94.8 393.9h0.9v0.9h-0.9zM104.7 394.9h0.9v0.9h-0.9zM89.0 393.5h0.9v0.9h-0.9zM92.2 395.0h0.9v0.9h-0.9zM98.3 395.0h0.9v0.9h-0.9zM96.6 391.8h0.9v0.9h-0.9zM99.7 394.3h0.9v0.9h-0.9zM100.0 392.5h0.9v0.9h-0.9zM97.5 393.2h0.9v0.9h-0.9zM92.9 394.4h0.9v0.9h-0.9zM99.1 393.0h0.9v0.9h-0.9zM86.7 391.1h0.9v0.9h-0.9zM93.5 395.3h0.9v0.9h-0.9zM96.7 391.4h0.9v0.9h-0.9zM91.8 394.5h0.9v0.9h-0.9zM107.0 395.4h0.9v0.9h-0.9zM99.2 394.2h0.9v0.9h-0.9zM90.6 393.5h0.9v0.9h-0.9zM95.0 393.1h0.9v0.9h-0.9zM97.4 393.5h0.9v0.9h-0.9zM99.0 395.7h0.9v0.9h-0.9zM101.4 394.5h0.9v0.9h-0.9zM95.6 392.2h0.9v0.9h-0.9zM96.3 394.6h0.9v0.9h-0.9zM90.9 395.5h0.9v0.9h-0.9zM95.0 394.4h0.9v0.9h-0.9zM95.0 392.5h0.9v0.9h-0.9zM109.4 392.6h0.9v0.9h-0.9zM102.5 393.3h0.9v0.9h-0.9zM98.7 393.1h0.9v0.9h-0.9zM94.5 395.1h0.9v0.9h-0.9zM108.7 393.0h0.9v0.9h-0.9zM97.1 395.1h0.9v0.9h-0.9zM93.2 394.8h0.9v0.9h-0.9zM92.3 394.7h0.9v0.9h-0.9zM99.6 395.4h0.9v0.9h-0.9zM99.2 392.6h0.9v0.9h-0.9zM101.0 392.7h0.9v0.9h-0.9zM101.5 395.8h0.9v0.9h-0.9zM100.6 393.4h0.9v0.9h-0.9zM104.2 394.2h0.9v0.9h-0.9zM89.5 393.6h0.9v0.9h-0.9zM105.5 393.6h0.9v0.9h-0.9zM97.7 393.6h0.9v0.9h-0.9zM86.9 393.4h0.9v0.9h-0.9zM99.1 394.2h0.9v0.9h-0.9zM96.0 391.5h0.9v0.9h-0.9zM104.3 394.8h0.9v0.9h-0.9zM103.1 395.5h0.9v0.9h-0.9zM94.3 393.3h0.9v0.9h-0.9zM98.9 396.0h0.9v0.9h-0.9zM86.9 393.7h0.9v0.9h-0.9zM92.7 394.7h0.9v0.9h-0.9zM105.8 393.7h0.9v0.9h-0.9zM89.6 394.1h0.9v0.9h-0.9zM95.3 392.2h0.9v0.9h-0.9zM102.3 393.4h0.9v0.9h-0.9zM101.1 392.5h0.9v0.9h-0.9zM103.6 392.3h0.9v0.9h-0.9zM103.3 391.9h0.9v0.9h-0.9zM105.3 393.6h0.9v0.9h-0.9zM87.7 393.7h0.9v0.9h-0.9zM99.0 392.8h0.9v0.9h-0.9zM94.0 394.3h0.9v0.9h-0.9zM96.0 390.4h0.9v0.9h-0.9zM94.4 394.5h0.9v0.9h-0.9zM98.8 395.2h0.9v0.9h-0.9zM101.8 394.4h0.9v0.9h-0.9zM103.5 395.1h0.9v0.9h-0.9zM97.6 393.3h0.9v0.9h-0.9zM103.1 394.5h0.9v0.9h-0.9zM85.6 392.7h0.9v0.9h-0.9zM99.8 394.1h0.9v0.9h-0.9zM98.7 394.8h0.9v0.9h-0.9zM97.9 395.9h0.9v0.9h-0.9zM93.5 393.5h0.9v0.9h-0.9zM98.9 394.9h0.9v0.9h-0.9zM101.7 395.7h0.9v0.9h-0.9zM94.1 395.4h0.9v0.9h-0.9zM99.8 392.8h0.9v0.9h-0.9zM101.7 393.5h0.9v0.9h-0.9zM92.8 394.1h0.9v0.9h-0.9zM110.9 394.9h0.9v0.9h-0.9zM98.9 392.9h0.9v0.9h-0.9zM89.9 393.8h0.9v0.9h-0.9zM94.6 393.3h0.9v0.9h-0.9zM103.8 394.1h0.9v0.9h-0.9zM89.6 395.5h0.9v0.9h-0.9zM95.1 392.4h0.9v0.9h-0.9zM98.9 394.6h0.9v0.9h-0.9zM95.0 394.8h0.9v0.9h-0.9zM101.9 393.0h0.9v0.9h-0.9zM84.7 391.2h0.9v0.9h-0.9zM96.2 395.4h0.9v0.9h-0.9zM103.0 395.6h0.9v0.9h-0.9zM108.1 394.0h0.9v0.9h-0.9zM103.3 392.2h0.9v0.9h-0.9zM101.1 394.5h0.9v0.9h-0.9zM96.4 393.5h0.9v0.9h-0.9zM90.3 394.2h0.9v0.9h-0.9zM104.7 393.6h0.9v0.9h-0.9zM100.2 393.2h0.9v0.9h-0.9zM98.5 392.8h0.9v0.9h-0.9zM99.3 393.7h0.9v0.9h-0.9zM98.9 393.3h0.9v0.9h-0.9zM89.9 393.6h0.9v0.9h-0.9zM103.2 395.8h0.9v0.9h-0.9zM95.1 394.9h0.9v0.9h-0.9zM101.6 394.5h0.9v0.9h-0.9zM87.7 394.4h0.9v0.9h-0.9zM91.2 395.4h0.9v0.9h-0.9zM101.7 394.7h0.9v0.9h-0.9zM101.2 392.5h0.9v0.9h-0.9zM102.8 394.1h0.9v0.9h-0.9zM95.9 393.2h0.9v0.9h-0.9zM90.9 393.5h0.9v0.9h-0.9zM115.5 394.2h0.9v0.9h-0.9zM98.2 393.2h0.9v0.9h-0.9zM93.3 393.4h0.9v0.9h-0.9zM91.7 395.0h0.9v0.9h-0.9zM95.4 395.0h0.9v0.9h-0.9zM90.1 395.1h0.9v0.9h-0.9zM96.8 394.8h0.9v0.9h-0.9zM96.4 393.0h0.9v0.9h-0.9zM104.3 393.5h0.9v0.9h-0.9zM96.1 393.0h0.9v0.9h-0.9zM98.2 393.5h0.9v0.9h-0.9zM98.7 394.4h0.9v0.9h-0.9zM92.9 392.3h0.9v0.9h-0.9zM99.6 395.1h0.9v0.9h-0.9zM101.2 392.7h0.9v0.9h-0.9zM100.6 394.4h0.9v0.9h-0.9zM98.7 394.5h0.9v0.9h-0.9zM95.1 394.3h0.9v0.9h-0.9zM102.6 393.4h0.9v0.9h-0.9zM88.4 393.9h0.9v0.9h-0.9z" fill="#cc1c10" fill-opacity="0.55"/>
<path d="M97.9 392.3h0.9v0.9h-0.9zM93.8 394.5h0.9v0.9h-0.9zM96.3 394.1h0.9v0.9h-0.9zM91.0 394.8h0.9v0.9h-0.9zM105.4 393.8h0.9v0.9h-0.9zM93.5 392.9h0.9v0.9h-0.9zM101.3 394.1h0.9v0.9h-0.9zM93.2 395.1h0.9v0.9h-0.9zM100.7 394.5h0.9v0.9h-0.9zM88.6 393.9h0.9v0.9h-0.9zM100.0 392.9h0.9v0.9h-0.9zM101.5 395.3h0.9v0.9h-0.9zM102.0 393.3h0.9v0.9h-0.9zM93.6 394.9h0.9v0.9h-0.9zM101.8 395.1h0.9v0.9h-0.9zM102.8 393.9h0.9v0.9h-0.9zM95.0 392.3h0.9v0.9h-0.9zM100.8 396.1h0.9v0.9h-0.9z" fill="#8c1010" fill-opacity="0.5"/>
<rect x="83.00" y="355.40" width="41.40" height="41.50" fill="none" stroke="#7a7a7a" stroke-width="0.9"/>
<line x1="109.40" y1="355.40" x2="109.40" y2="396.90" stroke="#4a4a4a" stroke-width="0.85"/>
<line x1="83.00" y1="383.20" x2="124.40" y2="383.20" stroke="#4a4a4a" stroke-width="0.85"/>
<circle cx="109.4" cy="383.2" r="0.9" fill="#000"/>
<circle cx="83.6" cy="356.0" r="0.7" fill="#000"/>
<text x="84.60" y="359.00" font-size="2.8" fill="#444" stroke="#444" stroke-width="0.2">Q1</text>
<text x="115.90" y="370.70" font-size="2.6" fill="#555" stroke="#555" stroke-width="0.2">Q2</text>
<text x="117.90" y="391.90" font-size="2.6" fill="#555" stroke="#555" stroke-width="0.2">Q4</text>
<text x="69.80" y="358.30" font-size="5.3" fill="#444" stroke="#444" stroke-width="0.14">10<tspan font-size="3.50" dy="-2.12">4</tspan></text>
<text x="69.80" y="369.00" font-size="5.3" fill="#444" stroke="#444" stroke-width="0.14">10<tspan font-size="3.50" dy="-2.12">3</tspan></text>
<line x1="81.40" y1="366.80" x2="83.00" y2="366.80" stroke="#444" stroke-width="0.9"/>
<text x="69.80" y="379.30" font-size="5.3" fill="#444" stroke="#444" stroke-width="0.14">10<tspan font-size="3.50" dy="-2.12">2</tspan></text>
<line x1="81.40" y1="377.10" x2="83.00" y2="377.10" stroke="#444" stroke-width="0.9"/>
<text x="69.80" y="389.00" font-size="5.3" fill="#444" stroke="#444" stroke-width="0.14">10<tspan font-size="3.50" dy="-2.12">1</tspan></text>
<line x1="81.40" y1="386.80" x2="83.00" y2="386.80" stroke="#444" stroke-width="0.9"/>
<text x="69.80" y="398.80" font-size="5.3" fill="#444" stroke="#444" stroke-width="0.14">10<tspan font-size="3.50" dy="-2.12">0</tspan></text>
<text x="83.60" y="405.80" font-size="5.6" fill="#333" stroke="#333" stroke-width="0.14" text-anchor="middle">10<tspan font-size="3.70" dy="-2.24">0</tspan></text>
<text x="93.95" y="405.80" font-size="5.6" fill="#333" stroke="#333" stroke-width="0.14" text-anchor="middle">10<tspan font-size="3.70" dy="-2.24">1</tspan></text>
<text x="104.30" y="405.80" font-size="5.6" fill="#333" stroke="#333" stroke-width="0.14" text-anchor="middle">10<tspan font-size="3.70" dy="-2.24">2</tspan></text>
<text x="114.65" y="405.80" font-size="5.6" fill="#333" stroke="#333" stroke-width="0.14" text-anchor="middle">10<tspan font-size="3.70" dy="-2.24">3</tspan></text>
<text x="125.00" y="405.80" font-size="5.6" fill="#333" stroke="#333" stroke-width="0.14" text-anchor="middle">10<tspan font-size="3.70" dy="-2.24">4</tspan></text>
<text x="103.80" y="415.80" font-size="7" fill="#2a2a2a" text-anchor="middle" textLength="29.6" lengthAdjust="spacingAndGlyphs" stroke="#2a2a2a" stroke-width="0.18">APC Log comp</text>
<text x="64.10" y="377.30" font-size="7" fill="#2a2a2a" text-anchor="middle" textLength="29.8" lengthAdjust="spacingAndGlyphs" transform="rotate(-90 64.10 377.30)" stroke="#2a2a2a" stroke-width="0.15">FITC Log comp</text>
<text x="103.70" y="351.20" font-size="6.5" fill="#111" stroke="#111" stroke-width="0.22" font-weight="bold" text-anchor="middle" textLength="23.7" lengthAdjust="spacingAndGlyphs">Ethanol</text>
<text x="88.00" y="368.50" font-size="7" fill="#2a2a2a" stroke="#2a2a2a" stroke-width="0.2" textLength="9.0" lengthAdjust="spacingAndGlyphs">0%</text>
<text x="111.80" y="368.50" font-size="7" fill="#2a2a2a" stroke="#2a2a2a" stroke-width="0.2" textLength="9.0" lengthAdjust="spacingAndGlyphs">0%</text>
<text x="87.60" y="388.80" font-size="7" fill="#2a2a2a" stroke="#2a2a2a" stroke-width="0.2" textLength="13.1" lengthAdjust="spacingAndGlyphs">94%</text>
<text x="109.80" y="388.80" font-size="7" fill="#2a2a2a" stroke="#2a2a2a" stroke-width="0.2" textLength="9.0" lengthAdjust="spacingAndGlyphs">6%</text>
<path d="M180.9 392.4h0.9v0.9h-0.9zM193.9 394.4h0.9v0.9h-0.9zM170.3 391.8h0.9v0.9h-0.9zM177.9 395.5h0.9v0.9h-0.9zM171.8 392.7h0.9v0.9h-0.9zM177.8 392.8h0.9v0.9h-0.9zM192.8 390.6h0.9v0.9h-0.9zM189.9 392.2h0.9v0.9h-0.9zM181.8 393.2h0.9v0.9h-0.9zM193.5 393.8h0.9v0.9h-0.9zM180.8 391.8h0.9v0.9h-0.9zM177.2 390.1h0.9v0.9h-0.9zM174.8 395.6h0.9v0.9h-0.9zM187.0 393.1h0.9v0.9h-0.9zM190.4 396.0h0.9v0.9h-0.9zM193.5 395.3h0.9v0.9h-0.9zM179.8 392.9h0.9v0.9h-0.9zM177.2 393.3h0.9v0.9h-0.9zM176.7 392.6h0.9v0.9h-0.9zM184.3 393.0h0.9v0.9h-0.9zM183.2 392.3h0.9v0.9h-0.9zM174.5 394.0h0.9v0.9h-0.9zM173.6 391.0h0.9v0.9h-0.9zM187.3 389.6h0.9v0.9h-0.9zM198.4 389.6h0.9v0.9h-0.9zM175.8 394.9h0.9v0.9h-0.9zM163.1 391.5h0.9v0.9h-0.9zM172.2 393.0h0.9v0.9h-0.9zM163.2 395.6h0.9v0.9h-0.9zM184.6 394.2h0.9v0.9h-0.9zM182.5 388.5h0.9v0.9h-0.9zM184.5 390.4h0.9v0.9h-0.9zM186.4 391.5h0.9v0.9h-0.9zM182.6 393.0h0.9v0.9h-0.9zM195.3 395.3h0.9v0.9h-0.9zM174.5 393.5h0.9v0.9h-0.9zM177.8 393.2h0.9v0.9h-0.9zM182.2 395.7h0.9v0.9h-0.9zM186.7 394.4h0.9v0.9h-0.9zM174.4 389.4h0.9v0.9h-0.9zM167.7 395.5h0.9v0.9h-0.9zM163.2 391.4h0.9v0.9h-0.9zM196.7 395.5h0.9v0.9h-0.9zM186.7 393.5h0.9v0.9h-0.9zM186.7 395.5h0.9v0.9h-0.9zM184.4 394.3h0.9v0.9h-0.9zM177.5 394.8h0.9v0.9h-0.9zM183.2 393.1h0.9v0.9h-0.9zM181.4 396.1h0.9v0.9h-0.9zM178.5 393.8h0.9v0.9h-0.9zM192.5 392.6h0.9v0.9h-0.9zM192.0 391.6h0.9v0.9h-0.9zM179.2 393.7h0.9v0.9h-0.9zM191.6 393.8h0.9v0.9h-0.9zM184.8 391.5h0.9v0.9h-0.9zM184.9 392.3h0.9v0.9h-0.9zM177.1 388.3h0.9v0.9h-0.9zM181.8 393.8h0.9v0.9h-0.9zM188.0 395.5h0.9v0.9h-0.9zM184.4 392.0h0.9v0.9h-0.9zM189.9 395.1h0.9v0.9h-0.9zM175.7 389.9h0.9v0.9h-0.9zM174.3 396.0h0.9v0.9h-0.9zM198.0 391.4h0.9v0.9h-0.9zM187.6 395.5h0.9v0.9h-0.9zM173.0 394.6h0.9v0.9h-0.9zM182.8 393.4h0.9v0.9h-0.9zM178.5 392.4h0.9v0.9h-0.9zM194.5 394.5h0.9v0.9h-0.9zM186.6 391.7h0.9v0.9h-0.9zM189.4 393.5h0.9v0.9h-0.9zM167.4 394.4h0.9v0.9h-0.9zM178.9 393.5h0.9v0.9h-0.9zM170.5 392.3h0.9v0.9h-0.9zM175.4 396.1h0.9v0.9h-0.9zM189.2 390.7h0.9v0.9h-0.9zM163.7 393.3h0.9v0.9h-0.9zM180.6 390.9h0.9v0.9h-0.9zM193.2 393.1h0.9v0.9h-0.9zM187.6 392.1h0.9v0.9h-0.9zM179.6 392.4h0.9v0.9h-0.9zM167.5 395.0h0.9v0.9h-0.9zM191.0 389.5h0.9v0.9h-0.9zM187.5 396.2h0.9v0.9h-0.9zM183.2 393.5h0.9v0.9h-0.9zM171.1 391.4h0.9v0.9h-0.9zM165.0 391.4h0.9v0.9h-0.9zM189.2 394.7h0.9v0.9h-0.9zM174.7 394.5h0.9v0.9h-0.9zM173.0 392.3h0.9v0.9h-0.9zM188.5 391.8h0.9v0.9h-0.9zM192.4 395.1h0.9v0.9h-0.9zM196.1 394.0h0.9v0.9h-0.9zM176.0 391.5h0.9v0.9h-0.9zM190.5 395.1h0.9v0.9h-0.9zM196.3 389.9h0.9v0.9h-0.9zM197.5 394.4h0.9v0.9h-0.9zM180.9 394.7h0.9v0.9h-0.9zM189.7 393.4h0.9v0.9h-0.9zM166.5 393.8h0.9v0.9h-0.9zM192.8 393.4h0.9v0.9h-0.9zM167.7 394.6h0.9v0.9h-0.9zM194.7 393.9h0.9v0.9h-0.9zM191.3 392.7h0.9v0.9h-0.9zM178.6 394.7h0.9v0.9h-0.9z" fill="#e6706a" fill-opacity="0.3"/>
<ellipse cx="187.6" cy="394.0" rx="18.2" ry="3.9000000000000004" fill="url(#rg)" fill-opacity="0.25"/>
<ellipse cx="172" cy="394.0" rx="16.25" ry="3.9000000000000004" fill="url(#rg)" fill-opacity="1"/>
<path d="M169.7 394.2h0.9v0.9h-0.9zM193.2 394.8h0.9v0.9h-0.9zM172.9 392.1h0.9v0.9h-0.9zM172.6 394.9h0.9v0.9h-0.9zM167.4 393.7h0.9v0.9h-0.9zM168.1 394.8h0.9v0.9h-0.9zM180.9 393.8h0.9v0.9h-0.9zM178.4 394.3h0.9v0.9h-0.9zM170.7 393.7h0.9v0.9h-0.9zM166.5 395.5h0.9v0.9h-0.9zM177.7 392.8h0.9v0.9h-0.9zM177.5 393.1h0.9v0.9h-0.9zM162.2 395.4h0.9v0.9h-0.9zM163.7 395.4h0.9v0.9h-0.9zM173.3 395.1h0.9v0.9h-0.9zM175.3 395.4h0.9v0.9h-0.9zM174.3 394.7h0.9v0.9h-0.9zM173.6 395.3h0.9v0.9h-0.9zM169.5 395.2h0.9v0.9h-0.9zM181.8 393.9h0.9v0.9h-0.9zM174.9 393.4h0.9v0.9h-0.9zM170.1 394.3h0.9v0.9h-0.9zM169.8 393.0h0.9v0.9h-0.9zM171.8 394.2h0.9v0.9h-0.9zM174.1 394.8h0.9v0.9h-0.9zM160.5 395.7h0.9v0.9h-0.9zM170.9 393.1h0.9v0.9h-0.9zM169.6 394.5h0.9v0.9h-0.9zM177.7 393.6h0.9v0.9h-0.9zM173.0 392.1h0.9v0.9h-0.9zM173.1 393.9h0.9v0.9h-0.9zM169.2 395.0h0.9v0.9h-0.9zM183.7 395.2h0.9v0.9h-0.9zM166.9 395.8h0.9v0.9h-0.9zM169.8 394.0h0.9v0.9h-0.9zM168.2 394.5h0.9v0.9h-0.9zM175.6 394.2h0.9v0.9h-0.9zM170.6 393.8h0.9v0.9h-0.9zM169.4 395.1h0.9v0.9h-0.9zM168.6 393.8h0.9v0.9h-0.9zM170.6 393.1h0.9v0.9h-0.9zM170.5 392.3h0.9v0.9h-0.9zM174.6 394.6h0.9v0.9h-0.9zM170.1 395.8h0.9v0.9h-0.9zM166.7 394.6h0.9v0.9h-0.9zM175.1 393.4h0.9v0.9h-0.9zM170.4 395.0h0.9v0.9h-0.9zM172.4 394.3h0.9v0.9h-0.9zM181.1 394.3h0.9v0.9h-0.9zM161.2 393.1h0.9v0.9h-0.9zM177.4 393.8h0.9v0.9h-0.9zM165.0 391.7h0.9v0.9h-0.9zM174.1 395.7h0.9v0.9h-0.9zM163.9 391.5h0.9v0.9h-0.9zM175.2 393.4h0.9v0.9h-0.9zM170.1 393.6h0.9v0.9h-0.9zM166.2 394.5h0.9v0.9h-0.9zM177.9 394.4h0.9v0.9h-0.9zM168.4 395.2h0.9v0.9h-0.9zM171.3 394.7h0.9v0.9h-0.9zM166.0 394.8h0.9v0.9h-0.9zM176.8 395.5h0.9v0.9h-0.9zM172.2 394.5h0.9v0.9h-0.9zM168.3 395.0h0.9v0.9h-0.9zM177.0 395.3h0.9v0.9h-0.9zM169.5 392.6h0.9v0.9h-0.9zM171.6 393.8h0.9v0.9h-0.9zM167.2 394.7h0.9v0.9h-0.9zM178.1 394.5h0.9v0.9h-0.9zM179.2 394.5h0.9v0.9h-0.9zM165.7 393.3h0.9v0.9h-0.9zM169.7 394.8h0.9v0.9h-0.9zM177.9 394.2h0.9v0.9h-0.9zM178.5 393.0h0.9v0.9h-0.9zM171.3 395.7h0.9v0.9h-0.9zM174.9 395.2h0.9v0.9h-0.9zM159.9 392.1h0.9v0.9h-0.9zM166.5 395.2h0.9v0.9h-0.9zM182.4 393.3h0.9v0.9h-0.9zM165.7 392.8h0.9v0.9h-0.9zM166.3 394.6h0.9v0.9h-0.9zM170.0 396.2h0.9v0.9h-0.9zM176.6 393.2h0.9v0.9h-0.9zM173.5 393.8h0.9v0.9h-0.9zM177.1 395.0h0.9v0.9h-0.9zM169.8 395.0h0.9v0.9h-0.9zM175.7 393.9h0.9v0.9h-0.9zM173.7 394.8h0.9v0.9h-0.9zM170.0 393.2h0.9v0.9h-0.9zM180.1 394.0h0.9v0.9h-0.9zM168.2 394.5h0.9v0.9h-0.9zM162.6 394.1h0.9v0.9h-0.9zM163.3 393.5h0.9v0.9h-0.9zM160.6 393.2h0.9v0.9h-0.9zM177.7 393.8h0.9v0.9h-0.9zM164.3 396.0h0.9v0.9h-0.9zM168.0 395.7h0.9v0.9h-0.9zM168.7 392.3h0.9v0.9h-0.9zM183.8 393.5h0.9v0.9h-0.9zM176.9 395.4h0.9v0.9h-0.9zM163.6 394.1h0.9v0.9h-0.9zM168.4 394.7h0.9v0.9h-0.9zM171.9 392.6h0.9v0.9h-0.9zM172.4 394.9h0.9v0.9h-0.9zM170.2 394.7h0.9v0.9h-0.9zM168.6 393.9h0.9v0.9h-0.9zM174.3 394.2h0.9v0.9h-0.9zM180.1 395.1h0.9v0.9h-0.9zM177.4 394.8h0.9v0.9h-0.9zM173.0 392.7h0.9v0.9h-0.9zM178.8 396.0h0.9v0.9h-0.9zM173.5 393.7h0.9v0.9h-0.9zM171.8 395.4h0.9v0.9h-0.9zM173.9 392.9h0.9v0.9h-0.9zM170.9 393.1h0.9v0.9h-0.9zM170.8 393.0h0.9v0.9h-0.9zM166.5 395.7h0.9v0.9h-0.9zM178.7 392.2h0.9v0.9h-0.9zM165.8 393.5h0.9v0.9h-0.9zM169.6 392.4h0.9v0.9h-0.9zM177.7 392.2h0.9v0.9h-0.9zM176.5 394.8h0.9v0.9h-0.9zM169.7 393.3h0.9v0.9h-0.9zM172.4 394.2h0.9v0.9h-0.9zM158.7 392.6h0.9v0.9h-0.9zM175.4 393.9h0.9v0.9h-0.9zM169.4 392.9h0.9v0.9h-0.9zM167.6 393.1h0.9v0.9h-0.9zM189.8 392.6h0.9v0.9h-0.9zM181.8 394.6h0.9v0.9h-0.9zM173.4 394.2h0.9v0.9h-0.9zM169.6 395.8h0.9v0.9h-0.9zM175.3 394.0h0.9v0.9h-0.9zM171.3 394.2h0.9v0.9h-0.9zM164.8 393.6h0.9v0.9h-0.9zM168.1 394.7h0.9v0.9h-0.9zM175.9 391.9h0.9v0.9h-0.9zM170.6 395.1h0.9v0.9h-0.9zM163.8 392.7h0.9v0.9h-0.9zM178.4 393.9h0.9v0.9h-0.9zM169.2 392.6h0.9v0.9h-0.9zM173.1 393.4h0.9v0.9h-0.9zM173.4 394.5h0.9v0.9h-0.9zM176.5 393.6h0.9v0.9h-0.9zM168.7 394.0h0.9v0.9h-0.9zM171.4 394.2h0.9v0.9h-0.9zM168.7 393.7h0.9v0.9h-0.9zM168.3 393.3h0.9v0.9h-0.9zM173.0 395.3h0.9v0.9h-0.9zM168.6 394.7h0.9v0.9h-0.9zM174.2 394.1h0.9v0.9h-0.9zM176.4 393.4h0.9v0.9h-0.9zM175.6 394.4h0.9v0.9h-0.9zM175.9 396.2h0.9v0.9h-0.9zM165.3 394.1h0.9v0.9h-0.9zM174.3 392.9h0.9v0.9h-0.9zM179.7 394.5h0.9v0.9h-0.9zM167.0 392.6h0.9v0.9h-0.9zM185.8 391.2h0.9v0.9h-0.9zM160.5 394.8h0.9v0.9h-0.9zM171.4 393.3h0.9v0.9h-0.9zM175.9 394.1h0.9v0.9h-0.9zM173.9 394.3h0.9v0.9h-0.9zM165.1 395.5h0.9v0.9h-0.9zM169.1 395.3h0.9v0.9h-0.9zM176.5 394.1h0.9v0.9h-0.9zM172.9 394.0h0.9v0.9h-0.9zM160.3 393.6h0.9v0.9h-0.9zM174.8 392.2h0.9v0.9h-0.9zM162.6 395.2h0.9v0.9h-0.9zM177.2 392.2h0.9v0.9h-0.9zM175.0 394.0h0.9v0.9h-0.9zM178.3 393.6h0.9v0.9h-0.9zM170.6 393.1h0.9v0.9h-0.9zM173.2 393.9h0.9v0.9h-0.9zM167.9 393.6h0.9v0.9h-0.9zM167.2 394.7h0.9v0.9h-0.9zM165.5 392.2h0.9v0.9h-0.9zM165.9 395.3h0.9v0.9h-0.9zM168.8 394.8h0.9v0.9h-0.9zM176.7 393.4h0.9v0.9h-0.9zM176.9 394.6h0.9v0.9h-0.9zM171.8 393.2h0.9v0.9h-0.9zM171.7 392.5h0.9v0.9h-0.9zM170.3 393.3h0.9v0.9h-0.9zM174.8 394.4h0.9v0.9h-0.9zM167.9 395.0h0.9v0.9h-0.9zM179.7 394.1h0.9v0.9h-0.9zM167.3 394.6h0.9v0.9h-0.9zM167.3 395.8h0.9v0.9h-0.9zM187.0 396.2h0.9v0.9h-0.9zM173.3 395.2h0.9v0.9h-0.9zM170.9 393.3h0.9v0.9h-0.9zM170.6 395.7h0.9v0.9h-0.9zM177.4 393.7h0.9v0.9h-0.9zM174.5 395.0h0.9v0.9h-0.9zM175.7 394.0h0.9v0.9h-0.9zM167.8 393.1h0.9v0.9h-0.9zM169.2 393.4h0.9v0.9h-0.9zM161.9 392.4h0.9v0.9h-0.9zM177.7 392.7h0.9v0.9h-0.9zM163.6 394.0h0.9v0.9h-0.9zM181.3 395.5h0.9v0.9h-0.9zM169.4 392.8h0.9v0.9h-0.9zM168.6 392.9h0.9v0.9h-0.9zM168.5 394.6h0.9v0.9h-0.9zM165.2 393.1h0.9v0.9h-0.9zM170.3 394.0h0.9v0.9h-0.9zM167.1 393.1h0.9v0.9h-0.9zM164.7 393.1h0.9v0.9h-0.9zM175.4 393.7h0.9v0.9h-0.9zM171.6 393.0h0.9v0.9h-0.9zM170.4 390.5h0.9v0.9h-0.9zM161.3 395.4h0.9v0.9h-0.9zM167.3 394.0h0.9v0.9h-0.9zM177.1 392.6h0.9v0.9h-0.9zM183.3 393.2h0.9v0.9h-0.9zM174.3 392.7h0.9v0.9h-0.9zM174.4 394.0h0.9v0.9h-0.9zM179.0 392.7h0.9v0.9h-0.9zM171.9 396.1h0.9v0.9h-0.9zM164.3 394.4h0.9v0.9h-0.9zM174.9 393.4h0.9v0.9h-0.9zM170.3 395.7h0.9v0.9h-0.9zM179.4 394.7h0.9v0.9h-0.9zM173.7 392.7h0.9v0.9h-0.9zM172.6 396.1h0.9v0.9h-0.9zM178.8 392.4h0.9v0.9h-0.9zM158.5 393.2h0.9v0.9h-0.9zM173.1 393.4h0.9v0.9h-0.9zM170.0 394.4h0.9v0.9h-0.9zM177.8 394.2h0.9v0.9h-0.9zM180.1 392.3h0.9v0.9h-0.9zM175.0 394.5h0.9v0.9h-0.9zM162.3 395.5h0.9v0.9h-0.9zM161.6 392.3h0.9v0.9h-0.9zM189.4 395.5h0.9v0.9h-0.9zM174.5 395.6h0.9v0.9h-0.9zM179.5 392.7h0.9v0.9h-0.9zM175.2 395.6h0.9v0.9h-0.9zM171.0 394.1h0.9v0.9h-0.9zM169.0 394.9h0.9v0.9h-0.9zM168.4 393.3h0.9v0.9h-0.9zM164.0 392.9h0.9v0.9h-0.9zM173.4 394.6h0.9v0.9h-0.9zM169.5 392.8h0.9v0.9h-0.9zM174.2 394.4h0.9v0.9h-0.9zM180.3 393.4h0.9v0.9h-0.9zM169.3 394.6h0.9v0.9h-0.9zM182.0 393.9h0.9v0.9h-0.9zM171.5 392.9h0.9v0.9h-0.9zM169.5 395.1h0.9v0.9h-0.9zM177.6 395.3h0.9v0.9h-0.9zM161.3 395.0h0.9v0.9h-0.9zM166.0 394.7h0.9v0.9h-0.9zM166.2 395.5h0.9v0.9h-0.9zM172.8 395.5h0.9v0.9h-0.9zM169.1 396.2h0.9v0.9h-0.9zM168.8 392.8h0.9v0.9h-0.9zM177.9 393.5h0.9v0.9h-0.9zM171.6 392.4h0.9v0.9h-0.9zM169.8 394.1h0.9v0.9h-0.9zM167.4 394.5h0.9v0.9h-0.9zM169.3 395.7h0.9v0.9h-0.9zM169.7 393.2h0.9v0.9h-0.9zM169.1 394.3h0.9v0.9h-0.9zM175.9 393.5h0.9v0.9h-0.9zM166.8 394.5h0.9v0.9h-0.9zM177.4 391.9h0.9v0.9h-0.9zM165.1 393.2h0.9v0.9h-0.9zM183.2 395.5h0.9v0.9h-0.9zM177.3 394.6h0.9v0.9h-0.9zM164.7 395.3h0.9v0.9h-0.9zM169.1 393.1h0.9v0.9h-0.9zM184.7 392.3h0.9v0.9h-0.9zM181.1 394.2h0.9v0.9h-0.9zM166.0 394.2h0.9v0.9h-0.9zM166.5 394.2h0.9v0.9h-0.9zM167.8 392.6h0.9v0.9h-0.9zM189.5 393.4h0.9v0.9h-0.9zM178.5 393.9h0.9v0.9h-0.9zM176.5 392.5h0.9v0.9h-0.9zM165.2 390.1h0.9v0.9h-0.9zM178.6 394.5h0.9v0.9h-0.9zM164.3 395.0h0.9v0.9h-0.9zM173.6 395.1h0.9v0.9h-0.9zM176.1 394.9h0.9v0.9h-0.9zM171.9 393.5h0.9v0.9h-0.9zM176.7 395.5h0.9v0.9h-0.9zM164.3 392.7h0.9v0.9h-0.9zM171.7 396.1h0.9v0.9h-0.9zM170.7 392.0h0.9v0.9h-0.9zM177.3 394.9h0.9v0.9h-0.9zM184.8 394.2h0.9v0.9h-0.9zM185.0 393.2h0.9v0.9h-0.9zM178.0 394.2h0.9v0.9h-0.9zM164.2 393.7h0.9v0.9h-0.9zM180.8 395.3h0.9v0.9h-0.9zM169.5 395.3h0.9v0.9h-0.9zM178.0 395.1h0.9v0.9h-0.9z" fill="#cc1c10" fill-opacity="0.55"/>
<path d="M173.5 394.3h0.9v0.9h-0.9zM167.7 393.9h0.9v0.9h-0.9zM172.7 393.3h0.9v0.9h-0.9zM170.5 394.2h0.9v0.9h-0.9zM173.2 395.0h0.9v0.9h-0.9zM166.6 393.6h0.9v0.9h-0.9zM173.4 393.7h0.9v0.9h-0.9zM173.8 393.6h0.9v0.9h-0.9zM178.2 393.8h0.9v0.9h-0.9zM166.0 394.7h0.9v0.9h-0.9zM180.8 392.2h0.9v0.9h-0.9zM171.3 394.1h0.9v0.9h-0.9zM177.5 395.4h0.9v0.9h-0.9zM171.2 392.6h0.9v0.9h-0.9zM175.5 394.9h0.9v0.9h-0.9zM174.5 394.1h0.9v0.9h-0.9zM167.8 396.2h0.9v0.9h-0.9zM165.7 392.6h0.9v0.9h-0.9z" fill="#8c1010" fill-opacity="0.5"/>
<rect x="157.50" y="355.40" width="41.80" height="41.50" fill="none" stroke="#7a7a7a" stroke-width="0.9"/>
<line x1="184.10" y1="355.40" x2="184.10" y2="396.90" stroke="#4a4a4a" stroke-width="0.85"/>
<line x1="157.50" y1="383.20" x2="199.30" y2="383.20" stroke="#4a4a4a" stroke-width="0.85"/>
<circle cx="184.1" cy="383.2" r="0.9" fill="#000"/>
<circle cx="158.1" cy="356.0" r="0.7" fill="#000"/>
<text x="159.10" y="359.00" font-size="2.8" fill="#444" stroke="#444" stroke-width="0.2">Q1</text>
<text x="190.80" y="370.70" font-size="2.6" fill="#555" stroke="#555" stroke-width="0.2">Q2</text>
<text x="192.80" y="391.90" font-size="2.6" fill="#555" stroke="#555" stroke-width="0.2">Q4</text>
<text x="144.30" y="358.30" font-size="5.3" fill="#444" stroke="#444" stroke-width="0.14">10<tspan font-size="3.50" dy="-2.12">4</tspan></text>
<text x="144.30" y="369.00" font-size="5.3" fill="#444" stroke="#444" stroke-width="0.14">10<tspan font-size="3.50" dy="-2.12">3</tspan></text>
<line x1="155.90" y1="366.80" x2="157.50" y2="366.80" stroke="#444" stroke-width="0.9"/>
<text x="144.30" y="379.30" font-size="5.3" fill="#444" stroke="#444" stroke-width="0.14">10<tspan font-size="3.50" dy="-2.12">2</tspan></text>
<line x1="155.90" y1="377.10" x2="157.50" y2="377.10" stroke="#444" stroke-width="0.9"/>
<text x="144.30" y="389.00" font-size="5.3" fill="#444" stroke="#444" stroke-width="0.14">10<tspan font-size="3.50" dy="-2.12">1</tspan></text>
<line x1="155.90" y1="386.80" x2="157.50" y2="386.80" stroke="#444" stroke-width="0.9"/>
<text x="144.30" y="398.80" font-size="5.3" fill="#444" stroke="#444" stroke-width="0.14">10<tspan font-size="3.50" dy="-2.12">0</tspan></text>
<text x="158.10" y="405.80" font-size="5.6" fill="#333" stroke="#333" stroke-width="0.14" text-anchor="middle">10<tspan font-size="3.70" dy="-2.24">0</tspan></text>
<text x="168.45" y="405.80" font-size="5.6" fill="#333" stroke="#333" stroke-width="0.14" text-anchor="middle">10<tspan font-size="3.70" dy="-2.24">1</tspan></text>
<text x="178.80" y="405.80" font-size="5.6" fill="#333" stroke="#333" stroke-width="0.14" text-anchor="middle">10<tspan font-size="3.70" dy="-2.24">2</tspan></text>
<text x="189.15" y="405.80" font-size="5.6" fill="#333" stroke="#333" stroke-width="0.14" text-anchor="middle">10<tspan font-size="3.70" dy="-2.24">3</tspan></text>
<text x="199.50" y="405.80" font-size="5.6" fill="#333" stroke="#333" stroke-width="0.14" text-anchor="middle">10<tspan font-size="3.70" dy="-2.24">4</tspan></text>
<text x="178.30" y="415.80" font-size="7" fill="#2a2a2a" text-anchor="middle" textLength="29.6" lengthAdjust="spacingAndGlyphs" stroke="#2a2a2a" stroke-width="0.18">APC Log comp</text>
<text x="138.60" y="377.30" font-size="7" fill="#2a2a2a" text-anchor="middle" textLength="29.8" lengthAdjust="spacingAndGlyphs" transform="rotate(-90 138.60 377.30)" stroke="#2a2a2a" stroke-width="0.15">FITC Log comp</text>
<text x="178.40" y="351.20" font-size="6.5" fill="#111" stroke="#111" stroke-width="0.22" font-weight="bold" text-anchor="middle" textLength="40.5" lengthAdjust="spacingAndGlyphs">17β Estradiol</text>
<text x="162.00" y="368.80" font-size="7" fill="#2a2a2a" stroke="#2a2a2a" stroke-width="0.2" textLength="9.0" lengthAdjust="spacingAndGlyphs">0%</text>
<text x="185.40" y="368.80" font-size="7" fill="#2a2a2a" stroke="#2a2a2a" stroke-width="0.2" textLength="9.0" lengthAdjust="spacingAndGlyphs">0%</text>
<text x="161.20" y="388.80" font-size="7" fill="#2a2a2a" stroke="#2a2a2a" stroke-width="0.2" textLength="13.1" lengthAdjust="spacingAndGlyphs">92%</text>
<text x="183.80" y="388.80" font-size="7" fill="#2a2a2a" stroke="#2a2a2a" stroke-width="0.2" textLength="9.0" lengthAdjust="spacingAndGlyphs">8%</text>
<path d="M259.7 373.5h0.9v0.9h-0.9zM255.7 373.9h0.9v0.9h-0.9zM268.8 381.1h0.9v0.9h-0.9zM240.0 378.3h0.9v0.9h-0.9zM262.6 368.7h0.9v0.9h-0.9zM238.5 374.9h0.9v0.9h-0.9zM246.3 366.4h0.9v0.9h-0.9zM237.9 376.7h0.9v0.9h-0.9zM235.1 372.4h0.9v0.9h-0.9zM234.4 374.6h0.9v0.9h-0.9zM270.1 375.4h0.9v0.9h-0.9zM261.5 374.6h0.9v0.9h-0.9zM234.7 369.5h0.9v0.9h-0.9zM248.0 374.5h0.9v0.9h-0.9zM239.3 375.7h0.9v0.9h-0.9zM237.8 372.0h0.9v0.9h-0.9zM246.9 363.8h0.9v0.9h-0.9zM260.0 371.9h0.9v0.9h-0.9zM248.5 371.3h0.9v0.9h-0.9zM235.6 378.2h0.9v0.9h-0.9zM239.7 375.6h0.9v0.9h-0.9zM233.8 365.9h0.9v0.9h-0.9zM241.0 378.6h0.9v0.9h-0.9zM252.3 372.5h0.9v0.9h-0.9zM246.9 376.8h0.9v0.9h-0.9zM250.8 364.8h0.9v0.9h-0.9zM255.2 366.3h0.9v0.9h-0.9zM242.7 381.3h0.9v0.9h-0.9zM252.6 366.3h0.9v0.9h-0.9zM237.3 382.7h0.9v0.9h-0.9zM251.4 362.3h0.9v0.9h-0.9zM267.3 375.4h0.9v0.9h-0.9zM264.0 374.3h0.9v0.9h-0.9zM245.3 370.4h0.9v0.9h-0.9zM266.5 367.1h0.9v0.9h-0.9zM245.8 371.2h0.9v0.9h-0.9zM245.9 364.6h0.9v0.9h-0.9zM251.4 370.2h0.9v0.9h-0.9zM249.7 364.5h0.9v0.9h-0.9zM247.1 365.0h0.9v0.9h-0.9zM234.1 373.8h0.9v0.9h-0.9zM255.3 375.4h0.9v0.9h-0.9zM246.5 369.0h0.9v0.9h-0.9zM265.0 379.9h0.9v0.9h-0.9zM238.9 364.3h0.9v0.9h-0.9zM251.8 373.7h0.9v0.9h-0.9zM235.3 386.8h0.9v0.9h-0.9zM250.2 378.2h0.9v0.9h-0.9zM265.5 380.9h0.9v0.9h-0.9zM243.8 371.8h0.9v0.9h-0.9zM235.7 374.2h0.9v0.9h-0.9zM233.6 358.0h0.9v0.9h-0.9zM263.6 378.2h0.9v0.9h-0.9zM255.5 379.1h0.9v0.9h-0.9zM250.5 377.3h0.9v0.9h-0.9zM253.1 376.8h0.9v0.9h-0.9zM234.0 367.1h0.9v0.9h-0.9zM234.3 377.1h0.9v0.9h-0.9zM253.6 366.3h0.9v0.9h-0.9zM234.4 367.7h0.9v0.9h-0.9zM258.3 370.8h0.9v0.9h-0.9zM244.0 366.9h0.9v0.9h-0.9zM245.5 382.2h0.9v0.9h-0.9zM238.2 369.2h0.9v0.9h-0.9zM268.9 376.4h0.9v0.9h-0.9zM258.9 367.6h0.9v0.9h-0.9zM237.8 371.9h0.9v0.9h-0.9zM247.1 368.4h0.9v0.9h-0.9zM238.4 383.6h0.9v0.9h-0.9zM266.3 373.7h0.9v0.9h-0.9zM243.4 374.8h0.9v0.9h-0.9zM267.7 368.1h0.9v0.9h-0.9zM249.0 368.7h0.9v0.9h-0.9zM248.9 367.0h0.9v0.9h-0.9zM251.9 379.3h0.9v0.9h-0.9zM242.0 369.4h0.9v0.9h-0.9zM248.6 362.8h0.9v0.9h-0.9zM270.3 362.6h0.9v0.9h-0.9zM242.5 365.6h0.9v0.9h-0.9zM266.3 368.3h0.9v0.9h-0.9zM240.6 384.2h0.9v0.9h-0.9zM245.6 366.4h0.9v0.9h-0.9zM247.0 372.8h0.9v0.9h-0.9zM237.5 370.3h0.9v0.9h-0.9zM244.4 376.4h0.9v0.9h-0.9zM256.9 377.1h0.9v0.9h-0.9zM245.5 376.9h0.9v0.9h-0.9zM244.4 379.3h0.9v0.9h-0.9zM252.3 368.7h0.9v0.9h-0.9zM262.9 361.4h0.9v0.9h-0.9zM234.7 366.2h0.9v0.9h-0.9zM245.4 363.3h0.9v0.9h-0.9zM248.6 366.4h0.9v0.9h-0.9zM248.5 378.7h0.9v0.9h-0.9zM261.2 368.8h0.9v0.9h-0.9zM236.2 369.0h0.9v0.9h-0.9zM250.5 387.6h0.9v0.9h-0.9zM270.3 381.6h0.9v0.9h-0.9zM244.3 369.4h0.9v0.9h-0.9zM251.8 369.7h0.9v0.9h-0.9zM241.1 370.2h0.9v0.9h-0.9zM257.9 371.1h0.9v0.9h-0.9zM250.2 369.8h0.9v0.9h-0.9zM244.6 369.3h0.9v0.9h-0.9zM263.3 373.1h0.9v0.9h-0.9zM266.3 370.4h0.9v0.9h-0.9zM260.7 362.3h0.9v0.9h-0.9zM241.9 371.1h0.9v0.9h-0.9zM239.0 370.8h0.9v0.9h-0.9zM235.2 370.5h0.9v0.9h-0.9zM238.5 371.5h0.9v0.9h-0.9zM243.3 364.9h0.9v0.9h-0.9zM241.9 371.7h0.9v0.9h-0.9zM263.1 370.0h0.9v0.9h-0.9zM254.1 375.7h0.9v0.9h-0.9zM236.8 380.4h0.9v0.9h-0.9zM265.8 359.5h0.9v0.9h-0.9zM261.7 372.5h0.9v0.9h-0.9zM233.7 365.6h0.9v0.9h-0.9zM252.0 370.4h0.9v0.9h-0.9zM253.1 372.1h0.9v0.9h-0.9zM268.8 359.3h0.9v0.9h-0.9zM250.2 371.8h0.9v0.9h-0.9zM256.4 362.6h0.9v0.9h-0.9zM248.1 359.5h0.9v0.9h-0.9zM251.8 371.5h0.9v0.9h-0.9zM253.5 365.6h0.9v0.9h-0.9zM241.0 376.8h0.9v0.9h-0.9zM268.8 372.6h0.9v0.9h-0.9zM245.7 380.3h0.9v0.9h-0.9zM235.6 370.5h0.9v0.9h-0.9zM240.6 365.0h0.9v0.9h-0.9zM249.6 385.1h0.9v0.9h-0.9zM250.3 374.9h0.9v0.9h-0.9zM246.7 379.1h0.9v0.9h-0.9zM249.4 365.7h0.9v0.9h-0.9zM248.4 381.1h0.9v0.9h-0.9zM246.0 379.5h0.9v0.9h-0.9zM246.2 385.1h0.9v0.9h-0.9zM250.7 375.9h0.9v0.9h-0.9zM243.4 377.1h0.9v0.9h-0.9zM244.2 361.7h0.9v0.9h-0.9zM251.0 363.5h0.9v0.9h-0.9zM266.1 376.8h0.9v0.9h-0.9zM247.3 376.1h0.9v0.9h-0.9zM238.8 376.0h0.9v0.9h-0.9zM241.8 373.8h0.9v0.9h-0.9zM252.5 360.3h0.9v0.9h-0.9zM235.1 381.5h0.9v0.9h-0.9zM239.4 375.2h0.9v0.9h-0.9zM261.9 372.2h0.9v0.9h-0.9zM243.6 373.2h0.9v0.9h-0.9zM253.1 369.6h0.9v0.9h-0.9zM254.2 384.6h0.9v0.9h-0.9zM259.7 379.7h0.9v0.9h-0.9zM254.9 370.0h0.9v0.9h-0.9zM259.6 379.0h0.9v0.9h-0.9zM262.2 364.3h0.9v0.9h-0.9zM260.3 369.2h0.9v0.9h-0.9zM242.5 373.9h0.9v0.9h-0.9zM242.7 387.0h0.9v0.9h-0.9zM254.3 373.3h0.9v0.9h-0.9zM244.7 373.2h0.9v0.9h-0.9zM244.2 375.4h0.9v0.9h-0.9zM258.2 377.2h0.9v0.9h-0.9zM248.2 363.4h0.9v0.9h-0.9zM252.0 370.6h0.9v0.9h-0.9zM247.9 374.1h0.9v0.9h-0.9zM239.1 381.9h0.9v0.9h-0.9zM260.4 367.9h0.9v0.9h-0.9zM253.1 376.5h0.9v0.9h-0.9zM237.3 369.2h0.9v0.9h-0.9zM255.1 365.4h0.9v0.9h-0.9zM258.1 386.3h0.9v0.9h-0.9zM249.8 371.3h0.9v0.9h-0.9zM248.0 364.8h0.9v0.9h-0.9zM254.2 372.8h0.9v0.9h-0.9zM256.7 381.1h0.9v0.9h-0.9zM247.6 372.8h0.9v0.9h-0.9zM251.3 383.2h0.9v0.9h-0.9zM239.1 372.4h0.9v0.9h-0.9zM257.8 372.0h0.9v0.9h-0.9zM256.6 372.8h0.9v0.9h-0.9zM238.0 367.2h0.9v0.9h-0.9zM242.1 377.2h0.9v0.9h-0.9zM259.5 365.7h0.9v0.9h-0.9zM233.2 375.6h0.9v0.9h-0.9zM235.9 373.0h0.9v0.9h-0.9zM255.0 369.0h0.9v0.9h-0.9zM270.0 366.4h0.9v0.9h-0.9zM252.6 368.8h0.9v0.9h-0.9zM245.1 375.4h0.9v0.9h-0.9zM245.4 366.7h0.9v0.9h-0.9zM240.5 369.6h0.9v0.9h-0.9zM256.9 369.7h0.9v0.9h-0.9zM262.9 377.3h0.9v0.9h-0.9zM237.6 378.5h0.9v0.9h-0.9zM234.6 370.9h0.9v0.9h-0.9zM261.9 371.6h0.9v0.9h-0.9zM245.0 380.1h0.9v0.9h-0.9zM237.4 366.1h0.9v0.9h-0.9zM259.6 375.7h0.9v0.9h-0.9zM257.2 370.5h0.9v0.9h-0.9zM242.0 372.5h0.9v0.9h-0.9zM249.9 366.9h0.9v0.9h-0.9zM257.9 361.1h0.9v0.9h-0.9zM246.2 385.8h0.9v0.9h-0.9zM233.6 371.3h0.9v0.9h-0.9zM240.8 383.8h0.9v0.9h-0.9zM235.3 371.4h0.9v0.9h-0.9zM249.9 375.9h0.9v0.9h-0.9zM258.6 361.2h0.9v0.9h-0.9zM238.0 360.6h0.9v0.9h-0.9zM241.5 359.8h0.9v0.9h-0.9zM249.5 367.6h0.9v0.9h-0.9zM251.3 366.3h0.9v0.9h-0.9zM248.1 386.4h0.9v0.9h-0.9zM262.1 372.6h0.9v0.9h-0.9zM234.5 381.3h0.9v0.9h-0.9zM263.7 367.6h0.9v0.9h-0.9zM264.4 375.4h0.9v0.9h-0.9zM254.6 367.4h0.9v0.9h-0.9zM254.7 380.9h0.9v0.9h-0.9zM242.3 369.1h0.9v0.9h-0.9zM246.4 369.2h0.9v0.9h-0.9zM261.7 363.1h0.9v0.9h-0.9zM252.7 358.3h0.9v0.9h-0.9zM237.5 365.6h0.9v0.9h-0.9zM238.1 375.6h0.9v0.9h-0.9zM254.5 372.1h0.9v0.9h-0.9zM249.6 366.9h0.9v0.9h-0.9zM234.5 362.1h0.9v0.9h-0.9zM241.7 364.0h0.9v0.9h-0.9zM242.9 376.3h0.9v0.9h-0.9zM254.1 380.3h0.9v0.9h-0.9zM235.1 356.9h0.9v0.9h-0.9zM256.0 368.6h0.9v0.9h-0.9zM263.9 368.8h0.9v0.9h-0.9zM268.4 368.8h0.9v0.9h-0.9zM241.8 376.1h0.9v0.9h-0.9zM271.8 374.4h0.9v0.9h-0.9zM246.7 366.5h0.9v0.9h-0.9zM252.3 379.8h0.9v0.9h-0.9zM247.6 377.4h0.9v0.9h-0.9zM250.8 372.4h0.9v0.9h-0.9zM237.4 377.9h0.9v0.9h-0.9zM264.3 368.5h0.9v0.9h-0.9zM235.8 375.0h0.9v0.9h-0.9zM248.3 379.0h0.9v0.9h-0.9zM253.3 370.6h0.9v0.9h-0.9zM248.3 363.1h0.9v0.9h-0.9zM254.9 368.6h0.9v0.9h-0.9zM238.9 370.8h0.9v0.9h-0.9zM247.4 369.2h0.9v0.9h-0.9zM256.5 378.3h0.9v0.9h-0.9zM244.1 382.0h0.9v0.9h-0.9zM245.4 365.7h0.9v0.9h-0.9zM249.0 362.0h0.9v0.9h-0.9zM243.2 364.5h0.9v0.9h-0.9zM241.5 372.8h0.9v0.9h-0.9zM250.3 370.0h0.9v0.9h-0.9zM256.1 373.8h0.9v0.9h-0.9zM242.3 364.8h0.9v0.9h-0.9zM256.3 376.5h0.9v0.9h-0.9zM239.6 363.2h0.9v0.9h-0.9zM266.2 374.5h0.9v0.9h-0.9zM250.0 373.1h0.9v0.9h-0.9zM244.7 371.7h0.9v0.9h-0.9zM258.4 374.4h0.9v0.9h-0.9zM241.1 372.1h0.9v0.9h-0.9zM270.9 367.8h0.9v0.9h-0.9zM254.9 375.4h0.9v0.9h-0.9zM251.6 384.6h0.9v0.9h-0.9zM233.9 371.1h0.9v0.9h-0.9zM245.9 383.2h0.9v0.9h-0.9zM243.4 364.5h0.9v0.9h-0.9zM237.9 376.8h0.9v0.9h-0.9zM236.4 373.2h0.9v0.9h-0.9zM237.7 366.7h0.9v0.9h-0.9zM239.7 382.3h0.9v0.9h-0.9zM257.2 366.5h0.9v0.9h-0.9zM269.1 369.8h0.9v0.9h-0.9zM246.4 366.0h0.9v0.9h-0.9zM236.4 363.3h0.9v0.9h-0.9zM250.3 382.7h0.9v0.9h-0.9zM236.0 380.3h0.9v0.9h-0.9zM260.2 372.2h0.9v0.9h-0.9zM248.0 366.4h0.9v0.9h-0.9zM240.2 368.4h0.9v0.9h-0.9zM256.3 385.3h0.9v0.9h-0.9zM262.7 374.7h0.9v0.9h-0.9zM257.5 360.1h0.9v0.9h-0.9zM233.8 377.1h0.9v0.9h-0.9zM241.9 360.6h0.9v0.9h-0.9zM246.6 362.8h0.9v0.9h-0.9zM246.8 381.9h0.9v0.9h-0.9zM253.9 371.2h0.9v0.9h-0.9zM249.2 365.7h0.9v0.9h-0.9zM244.5 380.0h0.9v0.9h-0.9zM255.9 379.6h0.9v0.9h-0.9zM261.8 365.4h0.9v0.9h-0.9zM241.4 383.1h0.9v0.9h-0.9zM240.7 373.3h0.9v0.9h-0.9zM235.9 367.0h0.9v0.9h-0.9zM234.1 380.4h0.9v0.9h-0.9zM256.6 374.1h0.9v0.9h-0.9zM240.0 362.0h0.9v0.9h-0.9zM252.9 365.8h0.9v0.9h-0.9zM245.2 377.7h0.9v0.9h-0.9zM244.3 371.2h0.9v0.9h-0.9zM233.8 378.4h0.9v0.9h-0.9zM253.5 376.1h0.9v0.9h-0.9z" fill="#e6706a" fill-opacity="0.45"/>
<ellipse cx="246" cy="369.5" rx="15.0" ry="7.8" fill="url(#rg)" fill-opacity="0.9"/>
<path d="M256.1 364.1h0.9v0.9h-0.9zM246.0 371.5h0.9v0.9h-0.9zM248.0 370.4h0.9v0.9h-0.9zM248.8 364.4h0.9v0.9h-0.9zM245.3 373.3h0.9v0.9h-0.9zM245.5 368.8h0.9v0.9h-0.9zM251.2 363.7h0.9v0.9h-0.9zM248.3 374.4h0.9v0.9h-0.9zM244.2 366.7h0.9v0.9h-0.9zM249.2 367.9h0.9v0.9h-0.9zM240.6 370.0h0.9v0.9h-0.9zM235.3 371.6h0.9v0.9h-0.9zM238.2 367.6h0.9v0.9h-0.9zM250.4 369.3h0.9v0.9h-0.9zM247.5 374.0h0.9v0.9h-0.9zM255.5 376.3h0.9v0.9h-0.9zM242.3 372.4h0.9v0.9h-0.9zM235.4 372.1h0.9v0.9h-0.9zM254.1 367.0h0.9v0.9h-0.9zM248.8 372.2h0.9v0.9h-0.9zM244.8 367.3h0.9v0.9h-0.9zM255.4 365.1h0.9v0.9h-0.9zM246.9 372.6h0.9v0.9h-0.9zM247.3 374.6h0.9v0.9h-0.9zM255.2 371.0h0.9v0.9h-0.9zM257.1 371.9h0.9v0.9h-0.9zM238.0 368.3h0.9v0.9h-0.9zM247.6 370.1h0.9v0.9h-0.9zM235.1 377.0h0.9v0.9h-0.9zM235.9 365.7h0.9v0.9h-0.9zM248.7 370.1h0.9v0.9h-0.9zM255.6 370.2h0.9v0.9h-0.9zM248.2 371.8h0.9v0.9h-0.9zM241.2 365.2h0.9v0.9h-0.9zM242.9 372.8h0.9v0.9h-0.9zM244.1 373.5h0.9v0.9h-0.9zM242.4 371.9h0.9v0.9h-0.9zM246.0 372.2h0.9v0.9h-0.9zM245.9 370.1h0.9v0.9h-0.9zM242.9 373.5h0.9v0.9h-0.9zM245.6 371.1h0.9v0.9h-0.9zM250.0 366.5h0.9v0.9h-0.9zM240.6 369.3h0.9v0.9h-0.9zM253.9 366.0h0.9v0.9h-0.9zM239.4 366.2h0.9v0.9h-0.9zM243.4 365.9h0.9v0.9h-0.9zM240.7 371.2h0.9v0.9h-0.9zM239.0 369.4h0.9v0.9h-0.9zM238.4 368.8h0.9v0.9h-0.9zM249.2 362.8h0.9v0.9h-0.9zM246.2 370.2h0.9v0.9h-0.9zM245.5 370.3h0.9v0.9h-0.9zM248.5 365.2h0.9v0.9h-0.9zM245.1 371.6h0.9v0.9h-0.9zM254.1 365.0h0.9v0.9h-0.9zM242.1 364.9h0.9v0.9h-0.9zM245.8 365.9h0.9v0.9h-0.9zM239.7 372.0h0.9v0.9h-0.9zM260.1 362.7h0.9v0.9h-0.9zM256.3 366.4h0.9v0.9h-0.9zM250.2 370.6h0.9v0.9h-0.9zM253.7 368.8h0.9v0.9h-0.9zM240.6 369.2h0.9v0.9h-0.9zM250.9 366.5h0.9v0.9h-0.9zM248.5 369.4h0.9v0.9h-0.9zM247.0 369.5h0.9v0.9h-0.9zM249.7 372.1h0.9v0.9h-0.9zM244.1 368.3h0.9v0.9h-0.9zM236.3 371.7h0.9v0.9h-0.9zM239.1 367.2h0.9v0.9h-0.9zM249.2 372.7h0.9v0.9h-0.9zM253.6 366.6h0.9v0.9h-0.9zM247.4 373.0h0.9v0.9h-0.9zM240.5 368.7h0.9v0.9h-0.9zM238.2 367.3h0.9v0.9h-0.9zM250.4 369.8h0.9v0.9h-0.9zM243.6 367.6h0.9v0.9h-0.9zM255.5 371.9h0.9v0.9h-0.9zM238.1 376.6h0.9v0.9h-0.9zM243.3 369.0h0.9v0.9h-0.9zM242.8 367.6h0.9v0.9h-0.9zM250.0 364.7h0.9v0.9h-0.9zM246.1 368.4h0.9v0.9h-0.9zM256.9 370.7h0.9v0.9h-0.9zM248.7 371.2h0.9v0.9h-0.9zM249.7 369.9h0.9v0.9h-0.9zM243.9 371.8h0.9v0.9h-0.9zM247.9 367.7h0.9v0.9h-0.9zM240.3 366.1h0.9v0.9h-0.9zM247.7 369.1h0.9v0.9h-0.9zM240.3 368.3h0.9v0.9h-0.9zM248.1 367.3h0.9v0.9h-0.9zM245.1 367.5h0.9v0.9h-0.9zM246.3 372.1h0.9v0.9h-0.9zM254.1 367.1h0.9v0.9h-0.9zM249.7 370.3h0.9v0.9h-0.9zM246.4 372.2h0.9v0.9h-0.9zM251.4 365.3h0.9v0.9h-0.9zM255.2 368.9h0.9v0.9h-0.9zM241.7 367.2h0.9v0.9h-0.9zM244.5 365.8h0.9v0.9h-0.9zM252.8 370.9h0.9v0.9h-0.9zM240.3 372.2h0.9v0.9h-0.9zM247.4 369.7h0.9v0.9h-0.9zM252.0 369.2h0.9v0.9h-0.9zM244.3 371.1h0.9v0.9h-0.9zM234.4 365.5h0.9v0.9h-0.9zM249.1 373.0h0.9v0.9h-0.9zM235.4 369.5h0.9v0.9h-0.9zM241.8 368.5h0.9v0.9h-0.9zM249.7 374.3h0.9v0.9h-0.9zM257.0 372.6h0.9v0.9h-0.9zM250.0 369.9h0.9v0.9h-0.9zM234.2 370.8h0.9v0.9h-0.9zM238.4 365.8h0.9v0.9h-0.9zM246.7 364.3h0.9v0.9h-0.9zM257.1 371.4h0.9v0.9h-0.9zM248.2 371.0h0.9v0.9h-0.9zM247.5 369.7h0.9v0.9h-0.9zM250.4 367.3h0.9v0.9h-0.9zM247.7 370.0h0.9v0.9h-0.9zM250.8 365.9h0.9v0.9h-0.9zM247.5 369.0h0.9v0.9h-0.9zM249.9 371.2h0.9v0.9h-0.9zM247.1 371.0h0.9v0.9h-0.9zM248.7 373.9h0.9v0.9h-0.9zM247.9 371.2h0.9v0.9h-0.9zM240.1 368.8h0.9v0.9h-0.9zM250.8 372.9h0.9v0.9h-0.9zM239.8 369.3h0.9v0.9h-0.9zM244.2 369.6h0.9v0.9h-0.9zM242.9 368.1h0.9v0.9h-0.9zM245.6 369.9h0.9v0.9h-0.9zM252.3 366.7h0.9v0.9h-0.9zM239.9 372.0h0.9v0.9h-0.9zM249.1 368.9h0.9v0.9h-0.9zM238.7 372.9h0.9v0.9h-0.9zM239.2 373.2h0.9v0.9h-0.9zM247.5 369.0h0.9v0.9h-0.9zM244.9 372.1h0.9v0.9h-0.9zM246.0 363.8h0.9v0.9h-0.9zM241.6 362.5h0.9v0.9h-0.9zM248.5 372.5h0.9v0.9h-0.9zM252.4 365.1h0.9v0.9h-0.9zM259.3 375.4h0.9v0.9h-0.9zM245.3 363.0h0.9v0.9h-0.9zM240.5 372.9h0.9v0.9h-0.9zM258.9 367.7h0.9v0.9h-0.9zM234.4 366.3h0.9v0.9h-0.9zM257.9 369.5h0.9v0.9h-0.9zM237.1 362.6h0.9v0.9h-0.9zM249.9 372.1h0.9v0.9h-0.9zM242.9 368.8h0.9v0.9h-0.9zM246.4 368.4h0.9v0.9h-0.9zM242.5 367.6h0.9v0.9h-0.9zM242.2 373.5h0.9v0.9h-0.9zM248.4 372.8h0.9v0.9h-0.9zM257.5 362.0h0.9v0.9h-0.9zM245.5 372.6h0.9v0.9h-0.9zM244.6 367.5h0.9v0.9h-0.9zM248.4 367.7h0.9v0.9h-0.9zM240.7 368.5h0.9v0.9h-0.9zM246.3 369.5h0.9v0.9h-0.9zM251.6 369.5h0.9v0.9h-0.9zM243.0 379.4h0.9v0.9h-0.9zM244.5 368.6h0.9v0.9h-0.9zM245.0 367.2h0.9v0.9h-0.9zM236.1 370.1h0.9v0.9h-0.9zM255.1 363.5h0.9v0.9h-0.9zM241.2 370.9h0.9v0.9h-0.9zM241.7 371.2h0.9v0.9h-0.9zM245.6 365.9h0.9v0.9h-0.9zM244.6 367.8h0.9v0.9h-0.9zM249.3 361.2h0.9v0.9h-0.9zM248.5 373.8h0.9v0.9h-0.9zM246.9 370.2h0.9v0.9h-0.9zM242.6 370.6h0.9v0.9h-0.9zM245.0 365.3h0.9v0.9h-0.9zM238.5 361.9h0.9v0.9h-0.9zM248.7 370.0h0.9v0.9h-0.9zM252.8 370.3h0.9v0.9h-0.9zM250.3 365.1h0.9v0.9h-0.9zM234.2 367.6h0.9v0.9h-0.9zM243.9 370.6h0.9v0.9h-0.9zM245.1 368.9h0.9v0.9h-0.9zM246.2 370.3h0.9v0.9h-0.9zM247.2 370.5h0.9v0.9h-0.9zM242.8 369.2h0.9v0.9h-0.9zM236.7 365.8h0.9v0.9h-0.9zM244.2 370.9h0.9v0.9h-0.9zM241.2 364.9h0.9v0.9h-0.9zM251.9 366.7h0.9v0.9h-0.9zM235.2 366.3h0.9v0.9h-0.9zM238.5 361.6h0.9v0.9h-0.9zM243.5 375.0h0.9v0.9h-0.9zM241.3 366.8h0.9v0.9h-0.9zM253.1 369.7h0.9v0.9h-0.9zM245.3 373.9h0.9v0.9h-0.9zM238.5 369.3h0.9v0.9h-0.9zM249.1 370.1h0.9v0.9h-0.9zM238.6 366.4h0.9v0.9h-0.9zM257.1 369.2h0.9v0.9h-0.9zM244.3 373.0h0.9v0.9h-0.9zM234.7 369.3h0.9v0.9h-0.9zM234.9 374.0h0.9v0.9h-0.9zM239.7 369.8h0.9v0.9h-0.9zM240.2 369.9h0.9v0.9h-0.9zM247.9 369.5h0.9v0.9h-0.9zM243.9 370.3h0.9v0.9h-0.9zM244.4 367.8h0.9v0.9h-0.9zM249.9 372.2h0.9v0.9h-0.9zM237.5 366.2h0.9v0.9h-0.9zM241.1 370.4h0.9v0.9h-0.9zM237.2 374.5h0.9v0.9h-0.9zM246.2 370.0h0.9v0.9h-0.9zM251.4 367.0h0.9v0.9h-0.9zM248.3 370.8h0.9v0.9h-0.9zM254.0 366.1h0.9v0.9h-0.9zM254.6 371.4h0.9v0.9h-0.9zM247.5 372.9h0.9v0.9h-0.9zM244.4 368.9h0.9v0.9h-0.9zM251.2 368.3h0.9v0.9h-0.9zM252.7 373.9h0.9v0.9h-0.9zM247.3 370.1h0.9v0.9h-0.9zM241.9 366.5h0.9v0.9h-0.9zM255.0 366.1h0.9v0.9h-0.9zM246.5 370.5h0.9v0.9h-0.9zM240.4 367.3h0.9v0.9h-0.9zM241.6 376.4h0.9v0.9h-0.9zM248.3 374.0h0.9v0.9h-0.9zM258.7 372.8h0.9v0.9h-0.9zM254.2 368.1h0.9v0.9h-0.9zM241.7 374.2h0.9v0.9h-0.9zM255.1 366.2h0.9v0.9h-0.9zM253.2 370.5h0.9v0.9h-0.9zM251.0 372.6h0.9v0.9h-0.9zM257.9 367.5h0.9v0.9h-0.9zM246.1 373.6h0.9v0.9h-0.9zM244.4 371.3h0.9v0.9h-0.9zM245.6 364.0h0.9v0.9h-0.9zM242.6 372.4h0.9v0.9h-0.9zM242.7 364.6h0.9v0.9h-0.9zM242.9 369.9h0.9v0.9h-0.9zM249.1 370.6h0.9v0.9h-0.9zM249.4 366.1h0.9v0.9h-0.9zM242.3 367.1h0.9v0.9h-0.9zM243.4 371.0h0.9v0.9h-0.9zM254.4 368.8h0.9v0.9h-0.9zM252.7 373.2h0.9v0.9h-0.9zM239.0 366.9h0.9v0.9h-0.9zM247.1 365.1h0.9v0.9h-0.9zM257.8 363.5h0.9v0.9h-0.9zM238.5 372.1h0.9v0.9h-0.9zM241.5 371.9h0.9v0.9h-0.9zM240.0 373.0h0.9v0.9h-0.9zM242.5 371.9h0.9v0.9h-0.9zM252.4 364.7h0.9v0.9h-0.9zM240.6 363.9h0.9v0.9h-0.9zM239.2 372.6h0.9v0.9h-0.9zM246.0 372.3h0.9v0.9h-0.9zM255.0 372.9h0.9v0.9h-0.9zM250.7 368.2h0.9v0.9h-0.9zM243.7 370.6h0.9v0.9h-0.9zM251.6 373.1h0.9v0.9h-0.9zM248.0 368.6h0.9v0.9h-0.9zM245.7 375.0h0.9v0.9h-0.9zM247.9 376.1h0.9v0.9h-0.9zM241.7 372.4h0.9v0.9h-0.9zM247.5 372.1h0.9v0.9h-0.9zM241.5 370.7h0.9v0.9h-0.9zM245.8 368.7h0.9v0.9h-0.9zM238.8 365.0h0.9v0.9h-0.9zM244.1 371.4h0.9v0.9h-0.9zM247.8 370.4h0.9v0.9h-0.9zM248.2 365.2h0.9v0.9h-0.9zM252.8 369.8h0.9v0.9h-0.9zM241.5 367.8h0.9v0.9h-0.9zM252.4 370.2h0.9v0.9h-0.9zM235.9 376.4h0.9v0.9h-0.9zM237.0 375.2h0.9v0.9h-0.9zM251.5 366.4h0.9v0.9h-0.9zM254.0 373.7h0.9v0.9h-0.9zM252.7 371.7h0.9v0.9h-0.9zM248.3 370.3h0.9v0.9h-0.9zM242.9 370.5h0.9v0.9h-0.9zM254.2 369.3h0.9v0.9h-0.9zM258.5 364.6h0.9v0.9h-0.9zM246.4 364.8h0.9v0.9h-0.9zM235.3 370.5h0.9v0.9h-0.9zM244.2 367.8h0.9v0.9h-0.9zM239.7 368.9h0.9v0.9h-0.9zM236.2 369.0h0.9v0.9h-0.9zM243.0 365.6h0.9v0.9h-0.9zM248.8 363.6h0.9v0.9h-0.9zM248.9 370.5h0.9v0.9h-0.9zM249.5 370.1h0.9v0.9h-0.9zM251.2 368.8h0.9v0.9h-0.9zM239.5 370.9h0.9v0.9h-0.9zM241.3 368.5h0.9v0.9h-0.9zM247.0 366.6h0.9v0.9h-0.9zM252.4 364.7h0.9v0.9h-0.9zM253.9 369.5h0.9v0.9h-0.9zM256.8 373.2h0.9v0.9h-0.9zM250.5 370.6h0.9v0.9h-0.9zM247.0 365.2h0.9v0.9h-0.9zM242.8 366.6h0.9v0.9h-0.9zM241.8 369.2h0.9v0.9h-0.9zM241.3 370.1h0.9v0.9h-0.9zM244.7 368.1h0.9v0.9h-0.9zM248.7 371.1h0.9v0.9h-0.9zM237.9 368.6h0.9v0.9h-0.9zM264.4 369.7h0.9v0.9h-0.9zM249.1 366.8h0.9v0.9h-0.9zM252.3 374.6h0.9v0.9h-0.9zM249.9 369.2h0.9v0.9h-0.9zM246.4 363.5h0.9v0.9h-0.9zM249.9 368.6h0.9v0.9h-0.9zM248.7 370.8h0.9v0.9h-0.9zM247.6 376.4h0.9v0.9h-0.9zM252.0 367.5h0.9v0.9h-0.9zM250.1 371.7h0.9v0.9h-0.9zM246.5 374.2h0.9v0.9h-0.9zM244.0 364.0h0.9v0.9h-0.9zM239.6 370.9h0.9v0.9h-0.9zM240.1 370.1h0.9v0.9h-0.9zM236.9 370.9h0.9v0.9h-0.9zM244.7 366.7h0.9v0.9h-0.9zM242.8 368.8h0.9v0.9h-0.9zM251.9 370.4h0.9v0.9h-0.9zM245.0 370.1h0.9v0.9h-0.9zM251.8 371.1h0.9v0.9h-0.9zM257.1 367.3h0.9v0.9h-0.9zM251.4 370.0h0.9v0.9h-0.9zM242.3 371.6h0.9v0.9h-0.9zM251.4 372.8h0.9v0.9h-0.9zM249.3 366.8h0.9v0.9h-0.9zM247.3 370.9h0.9v0.9h-0.9zM256.6 370.0h0.9v0.9h-0.9zM247.2 374.7h0.9v0.9h-0.9zM246.7 368.2h0.9v0.9h-0.9zM248.0 372.1h0.9v0.9h-0.9zM247.2 364.2h0.9v0.9h-0.9zM243.8 372.9h0.9v0.9h-0.9zM241.7 372.4h0.9v0.9h-0.9zM247.3 367.1h0.9v0.9h-0.9zM251.2 362.7h0.9v0.9h-0.9zM233.3 364.6h0.9v0.9h-0.9zM249.5 368.7h0.9v0.9h-0.9zM250.2 369.4h0.9v0.9h-0.9zM247.1 367.9h0.9v0.9h-0.9zM243.8 372.8h0.9v0.9h-0.9zM251.0 365.3h0.9v0.9h-0.9zM249.8 376.2h0.9v0.9h-0.9zM251.0 366.6h0.9v0.9h-0.9zM250.9 370.3h0.9v0.9h-0.9zM244.3 372.8h0.9v0.9h-0.9zM253.9 368.0h0.9v0.9h-0.9zM247.0 368.4h0.9v0.9h-0.9zM246.3 374.8h0.9v0.9h-0.9zM243.6 371.5h0.9v0.9h-0.9zM247.9 369.9h0.9v0.9h-0.9zM239.3 371.6h0.9v0.9h-0.9zM239.5 372.0h0.9v0.9h-0.9zM245.7 370.1h0.9v0.9h-0.9zM243.4 366.9h0.9v0.9h-0.9zM239.9 369.7h0.9v0.9h-0.9zM245.7 370.6h0.9v0.9h-0.9zM244.5 372.1h0.9v0.9h-0.9zM247.1 370.0h0.9v0.9h-0.9zM244.8 369.6h0.9v0.9h-0.9zM250.3 367.4h0.9v0.9h-0.9zM238.8 370.9h0.9v0.9h-0.9zM248.9 369.7h0.9v0.9h-0.9zM247.8 365.5h0.9v0.9h-0.9zM240.3 369.6h0.9v0.9h-0.9zM246.1 365.7h0.9v0.9h-0.9zM249.1 363.5h0.9v0.9h-0.9zM253.9 366.3h0.9v0.9h-0.9zM242.8 366.3h0.9v0.9h-0.9zM238.0 368.6h0.9v0.9h-0.9zM234.6 368.6h0.9v0.9h-0.9zM247.3 368.7h0.9v0.9h-0.9zM246.1 365.0h0.9v0.9h-0.9zM234.9 365.4h0.9v0.9h-0.9zM252.8 370.6h0.9v0.9h-0.9zM235.2 375.1h0.9v0.9h-0.9zM250.1 373.1h0.9v0.9h-0.9zM252.4 373.8h0.9v0.9h-0.9zM235.8 369.9h0.9v0.9h-0.9zM241.5 375.8h0.9v0.9h-0.9zM250.5 369.6h0.9v0.9h-0.9zM244.7 362.9h0.9v0.9h-0.9zM246.9 366.9h0.9v0.9h-0.9zM254.6 372.0h0.9v0.9h-0.9zM245.7 368.4h0.9v0.9h-0.9zM253.0 367.9h0.9v0.9h-0.9zM253.0 370.3h0.9v0.9h-0.9zM244.5 370.8h0.9v0.9h-0.9zM257.0 364.5h0.9v0.9h-0.9zM250.8 372.0h0.9v0.9h-0.9zM244.6 374.3h0.9v0.9h-0.9zM250.3 371.4h0.9v0.9h-0.9zM240.0 371.5h0.9v0.9h-0.9zM238.3 371.2h0.9v0.9h-0.9zM259.5 366.7h0.9v0.9h-0.9zM255.8 366.1h0.9v0.9h-0.9zM246.6 371.9h0.9v0.9h-0.9zM237.3 370.7h0.9v0.9h-0.9zM241.4 367.6h0.9v0.9h-0.9zM251.4 369.4h0.9v0.9h-0.9zM248.7 369.7h0.9v0.9h-0.9zM248.6 374.6h0.9v0.9h-0.9zM247.0 368.7h0.9v0.9h-0.9zM246.4 371.9h0.9v0.9h-0.9zM249.0 362.7h0.9v0.9h-0.9zM245.8 371.0h0.9v0.9h-0.9zM262.3 367.7h0.9v0.9h-0.9zM244.5 365.9h0.9v0.9h-0.9zM245.8 364.0h0.9v0.9h-0.9zM241.0 369.3h0.9v0.9h-0.9zM236.9 368.7h0.9v0.9h-0.9zM242.0 373.6h0.9v0.9h-0.9zM256.0 376.4h0.9v0.9h-0.9zM247.1 371.8h0.9v0.9h-0.9zM260.8 367.5h0.9v0.9h-0.9zM256.7 366.7h0.9v0.9h-0.9zM252.7 364.6h0.9v0.9h-0.9zM243.8 369.0h0.9v0.9h-0.9zM244.6 363.4h0.9v0.9h-0.9zM247.0 368.7h0.9v0.9h-0.9zM255.4 371.5h0.9v0.9h-0.9zM252.8 369.3h0.9v0.9h-0.9zM241.8 365.2h0.9v0.9h-0.9zM243.9 366.6h0.9v0.9h-0.9zM244.5 368.6h0.9v0.9h-0.9zM254.1 366.4h0.9v0.9h-0.9zM248.3 366.1h0.9v0.9h-0.9zM247.9 372.9h0.9v0.9h-0.9zM242.7 365.8h0.9v0.9h-0.9zM246.4 369.7h0.9v0.9h-0.9zM242.2 371.0h0.9v0.9h-0.9zM246.6 371.8h0.9v0.9h-0.9zM237.7 372.0h0.9v0.9h-0.9zM254.0 367.0h0.9v0.9h-0.9zM258.5 370.3h0.9v0.9h-0.9zM238.1 366.2h0.9v0.9h-0.9zM241.6 367.5h0.9v0.9h-0.9zM244.7 370.6h0.9v0.9h-0.9zM244.9 368.6h0.9v0.9h-0.9zM240.2 363.0h0.9v0.9h-0.9zM241.8 365.6h0.9v0.9h-0.9zM251.7 361.8h0.9v0.9h-0.9zM253.3 360.4h0.9v0.9h-0.9zM245.0 369.6h0.9v0.9h-0.9zM239.3 366.4h0.9v0.9h-0.9zM251.6 366.1h0.9v0.9h-0.9zM245.6 369.7h0.9v0.9h-0.9zM250.2 365.5h0.9v0.9h-0.9zM254.3 369.1h0.9v0.9h-0.9zM252.5 365.0h0.9v0.9h-0.9zM253.0 369.3h0.9v0.9h-0.9zM251.0 367.5h0.9v0.9h-0.9zM251.5 369.7h0.9v0.9h-0.9zM234.4 377.7h0.9v0.9h-0.9zM242.0 371.1h0.9v0.9h-0.9zM245.0 368.1h0.9v0.9h-0.9zM243.9 372.6h0.9v0.9h-0.9zM252.0 372.6h0.9v0.9h-0.9zM236.0 372.2h0.9v0.9h-0.9zM236.8 377.1h0.9v0.9h-0.9zM248.6 373.3h0.9v0.9h-0.9zM246.2 370.0h0.9v0.9h-0.9zM241.8 376.0h0.9v0.9h-0.9zM244.1 373.1h0.9v0.9h-0.9zM241.1 369.1h0.9v0.9h-0.9zM243.8 369.2h0.9v0.9h-0.9zM243.0 371.7h0.9v0.9h-0.9zM250.3 364.4h0.9v0.9h-0.9zM243.4 365.3h0.9v0.9h-0.9zM252.9 365.5h0.9v0.9h-0.9zM249.1 370.1h0.9v0.9h-0.9zM245.8 363.3h0.9v0.9h-0.9zM256.8 369.1h0.9v0.9h-0.9zM250.4 373.0h0.9v0.9h-0.9zM240.0 366.4h0.9v0.9h-0.9zM256.9 375.9h0.9v0.9h-0.9zM241.1 369.3h0.9v0.9h-0.9zM252.1 369.1h0.9v0.9h-0.9zM254.4 371.6h0.9v0.9h-0.9zM245.7 371.8h0.9v0.9h-0.9zM243.2 373.7h0.9v0.9h-0.9zM242.1 373.8h0.9v0.9h-0.9zM261.9 363.9h0.9v0.9h-0.9zM256.8 364.8h0.9v0.9h-0.9zM245.8 375.6h0.9v0.9h-0.9zM253.0 371.8h0.9v0.9h-0.9zM248.5 370.2h0.9v0.9h-0.9zM249.1 369.0h0.9v0.9h-0.9zM244.4 365.6h0.9v0.9h-0.9zM257.1 369.5h0.9v0.9h-0.9zM258.1 372.0h0.9v0.9h-0.9zM249.1 366.0h0.9v0.9h-0.9zM244.6 369.8h0.9v0.9h-0.9zM245.5 368.6h0.9v0.9h-0.9zM244.6 368.0h0.9v0.9h-0.9zM244.2 364.5h0.9v0.9h-0.9zM240.9 374.4h0.9v0.9h-0.9zM240.3 367.9h0.9v0.9h-0.9zM241.0 369.1h0.9v0.9h-0.9zM243.0 376.1h0.9v0.9h-0.9zM239.7 374.0h0.9v0.9h-0.9zM243.3 371.1h0.9v0.9h-0.9zM262.1 369.6h0.9v0.9h-0.9zM246.2 360.3h0.9v0.9h-0.9zM244.1 368.9h0.9v0.9h-0.9zM247.0 370.4h0.9v0.9h-0.9zM239.4 366.6h0.9v0.9h-0.9zM251.0 368.7h0.9v0.9h-0.9zM246.5 371.8h0.9v0.9h-0.9zM246.9 370.1h0.9v0.9h-0.9z" fill="#cc2014" fill-opacity="0.5"/>
<path d="M240.8 369.6h0.9v0.9h-0.9zM237.7 374.2h0.9v0.9h-0.9zM242.3 374.0h0.9v0.9h-0.9zM243.7 369.3h0.9v0.9h-0.9zM252.7 370.2h0.9v0.9h-0.9zM247.1 368.9h0.9v0.9h-0.9zM244.9 367.7h0.9v0.9h-0.9zM242.4 365.0h0.9v0.9h-0.9zM245.5 367.6h0.9v0.9h-0.9zM253.3 375.1h0.9v0.9h-0.9zM255.8 366.5h0.9v0.9h-0.9zM244.4 369.3h0.9v0.9h-0.9zM238.5 373.7h0.9v0.9h-0.9zM249.8 370.4h0.9v0.9h-0.9zM255.9 370.9h0.9v0.9h-0.9zM244.7 370.4h0.9v0.9h-0.9zM243.9 370.9h0.9v0.9h-0.9zM239.7 371.0h0.9v0.9h-0.9zM244.8 368.5h0.9v0.9h-0.9zM244.3 369.3h0.9v0.9h-0.9zM237.5 371.2h0.9v0.9h-0.9zM245.3 374.3h0.9v0.9h-0.9zM246.2 372.1h0.9v0.9h-0.9zM246.1 369.3h0.9v0.9h-0.9zM240.2 368.4h0.9v0.9h-0.9zM243.3 363.3h0.9v0.9h-0.9zM244.8 367.8h0.9v0.9h-0.9zM247.8 372.3h0.9v0.9h-0.9zM244.8 372.7h0.9v0.9h-0.9zM252.5 371.6h0.9v0.9h-0.9zM244.6 369.9h0.9v0.9h-0.9zM254.5 373.7h0.9v0.9h-0.9zM252.0 365.1h0.9v0.9h-0.9zM234.9 374.3h0.9v0.9h-0.9zM249.9 373.2h0.9v0.9h-0.9zM249.2 368.9h0.9v0.9h-0.9zM248.6 369.5h0.9v0.9h-0.9zM253.8 371.9h0.9v0.9h-0.9zM241.5 367.7h0.9v0.9h-0.9zM251.4 372.0h0.9v0.9h-0.9zM247.7 370.6h0.9v0.9h-0.9z" fill="#8c1010" fill-opacity="0.5"/>
<ellipse cx="243" cy="394" rx="6" ry="1.5" fill="url(#rg)" fill-opacity="0.6"/>
<path d="M238.8 393.1h0.9v0.9h-0.9zM249.5 392.2h0.9v0.9h-0.9zM249.3 394.4h0.9v0.9h-0.9zM250.3 394.6h0.9v0.9h-0.9zM257.9 394.1h0.9v0.9h-0.9zM241.5 392.3h0.9v0.9h-0.9zM251.7 392.3h0.9v0.9h-0.9zM247.4 393.2h0.9v0.9h-0.9zM244.8 394.1h0.9v0.9h-0.9zM246.6 392.8h0.9v0.9h-0.9zM250.9 393.7h0.9v0.9h-0.9zM235.1 394.6h0.9v0.9h-0.9zM255.9 393.5h0.9v0.9h-0.9zM256.1 392.4h0.9v0.9h-0.9zM244.9 395.0h0.9v0.9h-0.9zM254.3 394.3h0.9v0.9h-0.9zM252.8 393.5h0.9v0.9h-0.9zM250.7 394.7h0.9v0.9h-0.9zM252.1 394.2h0.9v0.9h-0.9zM251.5 394.3h0.9v0.9h-0.9zM250.1 392.5h0.9v0.9h-0.9zM250.0 393.0h0.9v0.9h-0.9zM244.1 393.9h0.9v0.9h-0.9zM247.9 392.7h0.9v0.9h-0.9zM243.2 394.1h0.9v0.9h-0.9zM243.9 393.9h0.9v0.9h-0.9zM247.8 394.1h0.9v0.9h-0.9zM243.1 394.0h0.9v0.9h-0.9zM249.8 392.7h0.9v0.9h-0.9zM251.1 393.0h0.9v0.9h-0.9zM248.6 394.4h0.9v0.9h-0.9zM250.2 392.8h0.9v0.9h-0.9zM240.8 392.8h0.9v0.9h-0.9zM249.8 394.0h0.9v0.9h-0.9zM235.5 394.5h0.9v0.9h-0.9zM253.5 393.4h0.9v0.9h-0.9zM245.9 394.1h0.9v0.9h-0.9zM240.3 393.5h0.9v0.9h-0.9zM249.7 393.5h0.9v0.9h-0.9zM246.3 394.0h0.9v0.9h-0.9zM256.7 394.1h0.9v0.9h-0.9zM248.4 393.4h0.9v0.9h-0.9zM253.8 393.9h0.9v0.9h-0.9zM246.2 395.0h0.9v0.9h-0.9zM254.5 393.0h0.9v0.9h-0.9zM244.5 395.0h0.9v0.9h-0.9zM243.5 395.3h0.9v0.9h-0.9zM245.4 395.6h0.9v0.9h-0.9zM240.5 392.1h0.9v0.9h-0.9zM237.6 395.6h0.9v0.9h-0.9zM242.0 393.5h0.9v0.9h-0.9zM242.9 393.2h0.9v0.9h-0.9zM247.3 394.0h0.9v0.9h-0.9zM242.6 393.4h0.9v0.9h-0.9zM254.4 394.7h0.9v0.9h-0.9zM252.3 395.0h0.9v0.9h-0.9zM245.2 394.6h0.9v0.9h-0.9zM256.3 393.1h0.9v0.9h-0.9zM254.5 391.6h0.9v0.9h-0.9zM234.8 392.5h0.9v0.9h-0.9zM240.3 393.0h0.9v0.9h-0.9zM243.4 394.6h0.9v0.9h-0.9zM241.9 393.5h0.9v0.9h-0.9zM238.5 392.4h0.9v0.9h-0.9zM245.2 393.2h0.9v0.9h-0.9zM251.7 393.9h0.9v0.9h-0.9zM235.4 394.5h0.9v0.9h-0.9zM239.1 393.5h0.9v0.9h-0.9zM240.0 393.1h0.9v0.9h-0.9zM242.7 392.8h0.9v0.9h-0.9zM241.8 393.6h0.9v0.9h-0.9zM250.6 394.5h0.9v0.9h-0.9zM257.0 392.4h0.9v0.9h-0.9zM243.9 394.9h0.9v0.9h-0.9zM239.4 393.7h0.9v0.9h-0.9zM250.6 395.2h0.9v0.9h-0.9zM249.7 394.1h0.9v0.9h-0.9zM245.3 394.4h0.9v0.9h-0.9zM246.9 394.1h0.9v0.9h-0.9zM242.4 393.7h0.9v0.9h-0.9z" fill="#c01408" fill-opacity="0.5"/>
<rect x="232.90" y="355.40" width="41.40" height="41.50" fill="none" stroke="#7a7a7a" stroke-width="0.9"/>
<line x1="259.40" y1="355.40" x2="259.40" y2="396.90" stroke="#4a4a4a" stroke-width="0.85"/>
<line x1="232.90" y1="383.20" x2="274.30" y2="383.20" stroke="#4a4a4a" stroke-width="0.85"/>
<circle cx="259.4" cy="383.2" r="0.9" fill="#000"/>
<circle cx="233.5" cy="356.0" r="0.7" fill="#000"/>
<text x="234.50" y="359.00" font-size="2.8" fill="#444" stroke="#444" stroke-width="0.2">Q1</text>
<text x="265.80" y="370.70" font-size="2.6" fill="#555" stroke="#555" stroke-width="0.2">Q2</text>
<text x="267.80" y="391.90" font-size="2.6" fill="#555" stroke="#555" stroke-width="0.2">Q4</text>
<text x="219.70" y="358.30" font-size="5.3" fill="#444" stroke="#444" stroke-width="0.14">10<tspan font-size="3.50" dy="-2.12">4</tspan></text>
<text x="219.70" y="369.00" font-size="5.3" fill="#444" stroke="#444" stroke-width="0.14">10<tspan font-size="3.50" dy="-2.12">3</tspan></text>
<line x1="231.30" y1="366.80" x2="232.90" y2="366.80" stroke="#444" stroke-width="0.9"/>
<text x="219.70" y="379.30" font-size="5.3" fill="#444" stroke="#444" stroke-width="0.14">10<tspan font-size="3.50" dy="-2.12">2</tspan></text>
<line x1="231.30" y1="377.10" x2="232.90" y2="377.10" stroke="#444" stroke-width="0.9"/>
<text x="219.70" y="389.00" font-size="5.3" fill="#444" stroke="#444" stroke-width="0.14">10<tspan font-size="3.50" dy="-2.12">1</tspan></text>
<line x1="231.30" y1="386.80" x2="232.90" y2="386.80" stroke="#444" stroke-width="0.9"/>
<text x="219.70" y="398.80" font-size="5.3" fill="#444" stroke="#444" stroke-width="0.14">10<tspan font-size="3.50" dy="-2.12">0</tspan></text>
<text x="233.50" y="405.80" font-size="5.6" fill="#333" stroke="#333" stroke-width="0.14" text-anchor="middle">10<tspan font-size="3.70" dy="-2.24">0</tspan></text>
<text x="243.85" y="405.80" font-size="5.6" fill="#333" stroke="#333" stroke-width="0.14" text-anchor="middle">10<tspan font-size="3.70" dy="-2.24">1</tspan></text>
<text x="254.20" y="405.80" font-size="5.6" fill="#333" stroke="#333" stroke-width="0.14" text-anchor="middle">10<tspan font-size="3.70" dy="-2.24">2</tspan></text>
<text x="264.55" y="405.80" font-size="5.6" fill="#333" stroke="#333" stroke-width="0.14" text-anchor="middle">10<tspan font-size="3.70" dy="-2.24">3</tspan></text>
<text x="274.90" y="405.80" font-size="5.6" fill="#333" stroke="#333" stroke-width="0.14" text-anchor="middle">10<tspan font-size="3.70" dy="-2.24">4</tspan></text>
<text x="253.70" y="415.80" font-size="7" fill="#2a2a2a" text-anchor="middle" textLength="29.6" lengthAdjust="spacingAndGlyphs" stroke="#2a2a2a" stroke-width="0.18">APC Log comp</text>
<text x="214.00" y="377.30" font-size="7" fill="#2a2a2a" text-anchor="middle" textLength="29.8" lengthAdjust="spacingAndGlyphs" transform="rotate(-90 214.00 377.30)" stroke="#2a2a2a" stroke-width="0.15">FITC Log comp</text>
<text x="253.60" y="351.20" font-size="6.5" fill="#111" stroke="#111" stroke-width="0.22" font-weight="bold" text-anchor="middle" textLength="23.7" lengthAdjust="spacingAndGlyphs">Ethanol</text>
<text x="237.70" y="368.30" font-size="7" fill="#2a2a2a" stroke="#2a2a2a" stroke-width="0.2" textLength="13.1" lengthAdjust="spacingAndGlyphs">88%</text>
<text x="262.10" y="368.30" font-size="7" fill="#2a2a2a" stroke="#2a2a2a" stroke-width="0.2" textLength="9.0" lengthAdjust="spacingAndGlyphs">5%</text>
<text x="237.70" y="389.80" font-size="7" fill="#2a2a2a" stroke="#2a2a2a" stroke-width="0.2" textLength="9.0" lengthAdjust="spacingAndGlyphs">7%</text>
<text x="259.20" y="389.80" font-size="7" fill="#2a2a2a" stroke="#2a2a2a" stroke-width="0.2" textLength="9.0" lengthAdjust="spacingAndGlyphs">0%</text>
<path d="M317.7 366.7h0.9v0.9h-0.9zM318.1 368.0h0.9v0.9h-0.9zM320.0 369.3h0.9v0.9h-0.9zM310.6 373.7h0.9v0.9h-0.9zM330.9 379.9h0.9v0.9h-0.9zM316.7 367.8h0.9v0.9h-0.9zM328.0 367.9h0.9v0.9h-0.9zM318.9 375.8h0.9v0.9h-0.9zM325.3 364.1h0.9v0.9h-0.9zM337.8 383.4h0.9v0.9h-0.9zM339.8 371.3h0.9v0.9h-0.9zM342.3 371.8h0.9v0.9h-0.9zM323.5 373.4h0.9v0.9h-0.9zM341.6 372.7h0.9v0.9h-0.9zM324.0 365.2h0.9v0.9h-0.9zM329.4 366.8h0.9v0.9h-0.9zM326.3 365.2h0.9v0.9h-0.9zM317.8 367.3h0.9v0.9h-0.9zM320.0 366.4h0.9v0.9h-0.9zM340.9 376.0h0.9v0.9h-0.9zM323.7 366.9h0.9v0.9h-0.9zM339.4 370.9h0.9v0.9h-0.9zM333.6 377.2h0.9v0.9h-0.9zM322.8 374.3h0.9v0.9h-0.9zM332.3 370.0h0.9v0.9h-0.9zM325.4 369.0h0.9v0.9h-0.9zM345.5 377.2h0.9v0.9h-0.9zM337.1 369.0h0.9v0.9h-0.9zM319.1 367.8h0.9v0.9h-0.9zM332.3 376.0h0.9v0.9h-0.9zM337.3 376.1h0.9v0.9h-0.9zM313.3 373.1h0.9v0.9h-0.9zM330.9 365.5h0.9v0.9h-0.9zM314.8 383.1h0.9v0.9h-0.9zM319.9 369.7h0.9v0.9h-0.9zM342.2 374.1h0.9v0.9h-0.9zM318.0 372.3h0.9v0.9h-0.9zM331.3 375.1h0.9v0.9h-0.9zM316.4 374.0h0.9v0.9h-0.9zM320.0 369.6h0.9v0.9h-0.9zM317.9 368.1h0.9v0.9h-0.9zM332.6 363.3h0.9v0.9h-0.9zM329.4 385.7h0.9v0.9h-0.9zM317.5 370.7h0.9v0.9h-0.9zM326.5 379.9h0.9v0.9h-0.9zM311.6 374.9h0.9v0.9h-0.9zM326.2 381.9h0.9v0.9h-0.9zM325.0 382.1h0.9v0.9h-0.9zM316.7 373.9h0.9v0.9h-0.9zM315.2 369.2h0.9v0.9h-0.9zM313.5 370.1h0.9v0.9h-0.9zM344.2 369.5h0.9v0.9h-0.9zM330.6 372.2h0.9v0.9h-0.9zM330.7 368.4h0.9v0.9h-0.9zM333.7 372.6h0.9v0.9h-0.9zM333.6 372.4h0.9v0.9h-0.9zM330.6 372.1h0.9v0.9h-0.9zM321.9 377.3h0.9v0.9h-0.9zM342.6 370.6h0.9v0.9h-0.9zM336.0 366.7h0.9v0.9h-0.9zM340.9 368.0h0.9v0.9h-0.9zM327.7 376.8h0.9v0.9h-0.9zM321.7 372.3h0.9v0.9h-0.9zM338.2 369.4h0.9v0.9h-0.9zM330.9 377.5h0.9v0.9h-0.9zM330.0 368.2h0.9v0.9h-0.9zM322.9 370.9h0.9v0.9h-0.9zM327.4 375.2h0.9v0.9h-0.9zM310.2 371.7h0.9v0.9h-0.9zM329.4 379.6h0.9v0.9h-0.9zM311.3 367.7h0.9v0.9h-0.9zM336.9 371.9h0.9v0.9h-0.9zM339.1 371.9h0.9v0.9h-0.9zM320.1 371.8h0.9v0.9h-0.9zM340.6 375.7h0.9v0.9h-0.9zM329.3 372.8h0.9v0.9h-0.9zM338.9 375.2h0.9v0.9h-0.9zM329.9 375.7h0.9v0.9h-0.9zM328.3 366.6h0.9v0.9h-0.9zM337.0 378.0h0.9v0.9h-0.9zM342.3 371.8h0.9v0.9h-0.9zM314.1 374.1h0.9v0.9h-0.9zM320.9 362.9h0.9v0.9h-0.9zM328.8 368.3h0.9v0.9h-0.9zM328.0 369.7h0.9v0.9h-0.9zM336.1 376.3h0.9v0.9h-0.9zM332.6 377.9h0.9v0.9h-0.9zM321.4 383.7h0.9v0.9h-0.9zM308.5 375.7h0.9v0.9h-0.9zM338.4 370.1h0.9v0.9h-0.9zM328.5 366.2h0.9v0.9h-0.9zM322.4 373.5h0.9v0.9h-0.9zM313.5 362.5h0.9v0.9h-0.9zM323.3 368.0h0.9v0.9h-0.9zM316.8 371.3h0.9v0.9h-0.9zM312.3 377.4h0.9v0.9h-0.9zM339.6 372.2h0.9v0.9h-0.9zM320.8 371.8h0.9v0.9h-0.9zM326.1 368.2h0.9v0.9h-0.9zM320.2 374.2h0.9v0.9h-0.9zM317.4 369.0h0.9v0.9h-0.9zM322.3 367.2h0.9v0.9h-0.9zM329.9 365.8h0.9v0.9h-0.9zM337.1 375.6h0.9v0.9h-0.9zM326.8 376.2h0.9v0.9h-0.9zM338.9 370.2h0.9v0.9h-0.9zM326.6 369.1h0.9v0.9h-0.9zM323.2 370.2h0.9v0.9h-0.9zM328.0 374.6h0.9v0.9h-0.9zM337.3 370.9h0.9v0.9h-0.9zM344.8 372.6h0.9v0.9h-0.9zM325.3 370.7h0.9v0.9h-0.9zM327.4 370.1h0.9v0.9h-0.9zM329.0 380.6h0.9v0.9h-0.9zM327.9 368.4h0.9v0.9h-0.9zM307.3 371.5h0.9v0.9h-0.9zM316.3 368.3h0.9v0.9h-0.9zM328.6 373.7h0.9v0.9h-0.9zM332.1 377.6h0.9v0.9h-0.9zM316.9 368.8h0.9v0.9h-0.9zM317.7 367.1h0.9v0.9h-0.9zM320.1 367.9h0.9v0.9h-0.9zM334.4 366.8h0.9v0.9h-0.9zM335.9 364.4h0.9v0.9h-0.9zM321.9 366.1h0.9v0.9h-0.9zM327.1 374.3h0.9v0.9h-0.9zM322.6 368.8h0.9v0.9h-0.9zM316.4 367.9h0.9v0.9h-0.9zM317.9 368.7h0.9v0.9h-0.9zM327.6 376.2h0.9v0.9h-0.9zM319.5 362.2h0.9v0.9h-0.9zM323.0 375.9h0.9v0.9h-0.9zM316.0 373.7h0.9v0.9h-0.9zM314.6 365.8h0.9v0.9h-0.9zM329.2 363.0h0.9v0.9h-0.9zM322.5 358.8h0.9v0.9h-0.9zM315.6 373.7h0.9v0.9h-0.9zM321.5 368.5h0.9v0.9h-0.9zM332.5 367.4h0.9v0.9h-0.9zM314.5 369.9h0.9v0.9h-0.9zM325.9 372.5h0.9v0.9h-0.9zM324.8 377.6h0.9v0.9h-0.9zM332.7 371.2h0.9v0.9h-0.9zM329.3 368.1h0.9v0.9h-0.9zM335.4 373.8h0.9v0.9h-0.9zM342.3 369.2h0.9v0.9h-0.9zM336.3 363.5h0.9v0.9h-0.9zM332.7 377.3h0.9v0.9h-0.9zM335.9 374.7h0.9v0.9h-0.9zM323.0 379.2h0.9v0.9h-0.9zM332.4 375.0h0.9v0.9h-0.9zM340.5 374.4h0.9v0.9h-0.9zM312.1 367.9h0.9v0.9h-0.9zM324.5 365.6h0.9v0.9h-0.9zM331.8 369.8h0.9v0.9h-0.9zM323.4 378.1h0.9v0.9h-0.9zM325.5 370.6h0.9v0.9h-0.9zM338.6 370.1h0.9v0.9h-0.9zM332.1 380.1h0.9v0.9h-0.9zM312.0 364.9h0.9v0.9h-0.9zM319.0 370.8h0.9v0.9h-0.9zM314.9 373.0h0.9v0.9h-0.9zM318.3 377.3h0.9v0.9h-0.9zM332.0 375.1h0.9v0.9h-0.9zM328.9 372.8h0.9v0.9h-0.9zM309.2 370.7h0.9v0.9h-0.9zM307.6 378.2h0.9v0.9h-0.9zM314.5 367.4h0.9v0.9h-0.9zM321.7 382.4h0.9v0.9h-0.9zM314.7 379.9h0.9v0.9h-0.9zM328.0 384.3h0.9v0.9h-0.9zM324.2 369.1h0.9v0.9h-0.9zM326.3 369.1h0.9v0.9h-0.9zM318.9 375.2h0.9v0.9h-0.9zM321.7 376.1h0.9v0.9h-0.9zM332.9 376.3h0.9v0.9h-0.9zM343.3 376.9h0.9v0.9h-0.9zM316.5 378.3h0.9v0.9h-0.9zM339.5 366.6h0.9v0.9h-0.9zM340.2 362.7h0.9v0.9h-0.9zM337.3 369.8h0.9v0.9h-0.9zM323.5 371.0h0.9v0.9h-0.9zM320.5 375.4h0.9v0.9h-0.9zM326.0 371.6h0.9v0.9h-0.9zM327.1 370.0h0.9v0.9h-0.9zM315.8 374.7h0.9v0.9h-0.9zM335.5 366.1h0.9v0.9h-0.9zM336.8 377.9h0.9v0.9h-0.9zM328.4 378.9h0.9v0.9h-0.9zM318.7 373.3h0.9v0.9h-0.9zM316.8 383.7h0.9v0.9h-0.9zM322.2 375.0h0.9v0.9h-0.9zM311.0 370.4h0.9v0.9h-0.9zM331.2 371.3h0.9v0.9h-0.9zM318.6 379.0h0.9v0.9h-0.9zM310.1 372.2h0.9v0.9h-0.9zM324.8 370.0h0.9v0.9h-0.9zM333.5 373.0h0.9v0.9h-0.9zM324.7 375.0h0.9v0.9h-0.9zM325.8 374.4h0.9v0.9h-0.9zM340.2 373.0h0.9v0.9h-0.9zM327.3 369.1h0.9v0.9h-0.9zM341.7 376.5h0.9v0.9h-0.9zM332.3 373.3h0.9v0.9h-0.9zM317.8 372.2h0.9v0.9h-0.9zM329.8 366.2h0.9v0.9h-0.9zM316.5 371.3h0.9v0.9h-0.9zM347.1 373.6h0.9v0.9h-0.9zM311.2 378.0h0.9v0.9h-0.9zM336.2 375.3h0.9v0.9h-0.9zM320.8 371.3h0.9v0.9h-0.9zM309.8 369.8h0.9v0.9h-0.9zM316.9 368.6h0.9v0.9h-0.9zM334.4 378.3h0.9v0.9h-0.9zM311.5 374.6h0.9v0.9h-0.9zM335.9 373.1h0.9v0.9h-0.9zM341.2 377.5h0.9v0.9h-0.9zM318.0 372.5h0.9v0.9h-0.9zM329.6 366.1h0.9v0.9h-0.9zM324.2 376.8h0.9v0.9h-0.9zM330.9 372.0h0.9v0.9h-0.9zM337.0 367.7h0.9v0.9h-0.9zM339.8 369.7h0.9v0.9h-0.9zM324.8 369.9h0.9v0.9h-0.9zM313.1 374.7h0.9v0.9h-0.9zM313.5 375.9h0.9v0.9h-0.9zM318.1 378.1h0.9v0.9h-0.9zM330.3 377.6h0.9v0.9h-0.9zM314.9 374.7h0.9v0.9h-0.9zM334.7 373.3h0.9v0.9h-0.9zM325.6 369.1h0.9v0.9h-0.9zM313.2 366.8h0.9v0.9h-0.9zM330.8 359.0h0.9v0.9h-0.9zM318.6 375.3h0.9v0.9h-0.9zM327.1 370.9h0.9v0.9h-0.9zM318.4 372.8h0.9v0.9h-0.9zM310.3 369.2h0.9v0.9h-0.9zM335.4 367.4h0.9v0.9h-0.9zM325.4 370.1h0.9v0.9h-0.9zM313.4 362.3h0.9v0.9h-0.9zM317.4 368.2h0.9v0.9h-0.9zM315.7 371.6h0.9v0.9h-0.9zM330.1 375.0h0.9v0.9h-0.9zM330.7 366.2h0.9v0.9h-0.9zM341.8 373.7h0.9v0.9h-0.9zM334.7 365.7h0.9v0.9h-0.9zM338.5 383.2h0.9v0.9h-0.9zM332.4 377.4h0.9v0.9h-0.9zM320.6 372.7h0.9v0.9h-0.9zM326.3 375.2h0.9v0.9h-0.9zM328.6 373.3h0.9v0.9h-0.9zM317.1 366.1h0.9v0.9h-0.9zM326.7 384.3h0.9v0.9h-0.9zM316.2 374.6h0.9v0.9h-0.9zM341.3 368.8h0.9v0.9h-0.9zM309.2 373.8h0.9v0.9h-0.9zM326.4 367.7h0.9v0.9h-0.9zM343.2 375.4h0.9v0.9h-0.9zM326.8 365.2h0.9v0.9h-0.9zM340.5 377.5h0.9v0.9h-0.9zM335.9 380.0h0.9v0.9h-0.9zM315.7 367.1h0.9v0.9h-0.9zM336.3 374.2h0.9v0.9h-0.9zM326.4 369.6h0.9v0.9h-0.9zM338.0 373.2h0.9v0.9h-0.9zM336.3 366.4h0.9v0.9h-0.9zM327.6 374.0h0.9v0.9h-0.9zM338.0 363.8h0.9v0.9h-0.9zM324.7 368.8h0.9v0.9h-0.9zM327.0 371.3h0.9v0.9h-0.9zM331.5 375.9h0.9v0.9h-0.9zM329.9 371.6h0.9v0.9h-0.9zM336.5 378.9h0.9v0.9h-0.9zM327.7 368.1h0.9v0.9h-0.9zM346.1 376.5h0.9v0.9h-0.9zM322.8 371.2h0.9v0.9h-0.9zM326.0 364.8h0.9v0.9h-0.9zM336.1 364.6h0.9v0.9h-0.9zM315.4 373.3h0.9v0.9h-0.9zM314.4 365.3h0.9v0.9h-0.9zM323.8 382.5h0.9v0.9h-0.9zM334.3 368.8h0.9v0.9h-0.9zM341.7 373.2h0.9v0.9h-0.9zM310.5 369.1h0.9v0.9h-0.9zM327.4 369.0h0.9v0.9h-0.9zM321.1 367.3h0.9v0.9h-0.9zM328.9 375.9h0.9v0.9h-0.9zM315.3 378.2h0.9v0.9h-0.9zM317.8 370.6h0.9v0.9h-0.9zM345.2 375.0h0.9v0.9h-0.9zM327.5 362.5h0.9v0.9h-0.9zM327.9 370.2h0.9v0.9h-0.9zM324.6 377.5h0.9v0.9h-0.9zM321.0 380.9h0.9v0.9h-0.9zM327.5 372.8h0.9v0.9h-0.9zM323.6 372.5h0.9v0.9h-0.9zM341.8 373.2h0.9v0.9h-0.9zM316.1 368.2h0.9v0.9h-0.9zM339.8 374.7h0.9v0.9h-0.9zM317.7 371.4h0.9v0.9h-0.9zM328.1 374.9h0.9v0.9h-0.9zM316.5 372.5h0.9v0.9h-0.9zM312.8 368.2h0.9v0.9h-0.9zM324.5 378.7h0.9v0.9h-0.9zM326.0 380.3h0.9v0.9h-0.9zM331.2 378.4h0.9v0.9h-0.9zM325.3 363.1h0.9v0.9h-0.9zM346.4 371.2h0.9v0.9h-0.9zM321.5 375.1h0.9v0.9h-0.9zM323.0 370.1h0.9v0.9h-0.9zM329.2 374.0h0.9v0.9h-0.9zM320.6 368.0h0.9v0.9h-0.9zM344.6 367.7h0.9v0.9h-0.9zM317.2 371.1h0.9v0.9h-0.9zM325.5 373.5h0.9v0.9h-0.9zM344.1 378.5h0.9v0.9h-0.9zM326.6 372.6h0.9v0.9h-0.9zM337.7 371.4h0.9v0.9h-0.9zM328.9 366.6h0.9v0.9h-0.9zM331.4 371.6h0.9v0.9h-0.9zM311.3 373.2h0.9v0.9h-0.9zM318.3 378.4h0.9v0.9h-0.9zM330.9 373.0h0.9v0.9h-0.9zM343.6 376.6h0.9v0.9h-0.9zM322.3 371.6h0.9v0.9h-0.9zM329.2 366.1h0.9v0.9h-0.9zM330.2 365.1h0.9v0.9h-0.9zM320.8 370.8h0.9v0.9h-0.9zM329.8 373.6h0.9v0.9h-0.9zM318.7 373.7h0.9v0.9h-0.9zM330.3 371.6h0.9v0.9h-0.9zM327.3 369.5h0.9v0.9h-0.9zM346.8 378.8h0.9v0.9h-0.9zM329.8 378.6h0.9v0.9h-0.9zM317.4 369.4h0.9v0.9h-0.9zM323.4 374.2h0.9v0.9h-0.9zM323.4 367.5h0.9v0.9h-0.9zM310.6 366.5h0.9v0.9h-0.9zM337.3 374.4h0.9v0.9h-0.9zM311.6 381.3h0.9v0.9h-0.9zM321.7 369.7h0.9v0.9h-0.9zM325.2 372.2h0.9v0.9h-0.9zM322.8 371.8h0.9v0.9h-0.9zM335.5 376.5h0.9v0.9h-0.9zM319.6 371.2h0.9v0.9h-0.9zM318.8 369.8h0.9v0.9h-0.9zM325.9 370.4h0.9v0.9h-0.9zM333.5 367.4h0.9v0.9h-0.9zM331.2 375.7h0.9v0.9h-0.9zM323.6 370.4h0.9v0.9h-0.9zM333.6 370.1h0.9v0.9h-0.9zM323.4 373.0h0.9v0.9h-0.9zM329.7 374.9h0.9v0.9h-0.9zM312.0 369.9h0.9v0.9h-0.9zM331.8 374.8h0.9v0.9h-0.9zM320.5 369.7h0.9v0.9h-0.9zM343.7 373.3h0.9v0.9h-0.9zM340.5 365.3h0.9v0.9h-0.9zM331.7 369.3h0.9v0.9h-0.9zM321.5 378.3h0.9v0.9h-0.9zM315.5 367.3h0.9v0.9h-0.9zM319.4 370.8h0.9v0.9h-0.9zM327.3 374.1h0.9v0.9h-0.9zM340.6 374.3h0.9v0.9h-0.9zM346.3 377.3h0.9v0.9h-0.9zM333.0 371.3h0.9v0.9h-0.9zM342.0 370.5h0.9v0.9h-0.9zM337.8 372.2h0.9v0.9h-0.9zM320.9 375.3h0.9v0.9h-0.9zM334.5 373.5h0.9v0.9h-0.9zM338.9 372.6h0.9v0.9h-0.9zM319.1 372.4h0.9v0.9h-0.9zM347.4 367.2h0.9v0.9h-0.9zM307.2 372.0h0.9v0.9h-0.9zM315.9 378.7h0.9v0.9h-0.9zM328.8 367.4h0.9v0.9h-0.9zM326.4 367.4h0.9v0.9h-0.9zM332.3 376.6h0.9v0.9h-0.9zM340.2 377.2h0.9v0.9h-0.9zM326.9 377.9h0.9v0.9h-0.9z" fill="#e6706a" fill-opacity="0.5"/>
<ellipse cx="324" cy="368.8" rx="18" ry="5.5" fill="url(#rg)" fill-opacity="0.7"/>
<path d="M328.4 365.2h0.9v0.9h-0.9zM336.2 366.4h0.9v0.9h-0.9zM318.8 364.4h0.9v0.9h-0.9zM316.6 362.7h0.9v0.9h-0.9zM313.0 366.5h0.9v0.9h-0.9zM313.4 367.9h0.9v0.9h-0.9zM331.1 368.1h0.9v0.9h-0.9zM327.9 372.3h0.9v0.9h-0.9zM318.6 373.4h0.9v0.9h-0.9zM323.6 368.9h0.9v0.9h-0.9zM327.2 373.0h0.9v0.9h-0.9zM313.2 371.7h0.9v0.9h-0.9zM319.7 369.3h0.9v0.9h-0.9zM315.0 361.5h0.9v0.9h-0.9zM334.4 371.3h0.9v0.9h-0.9zM314.6 366.3h0.9v0.9h-0.9zM313.3 368.9h0.9v0.9h-0.9zM342.2 368.6h0.9v0.9h-0.9zM308.9 371.2h0.9v0.9h-0.9zM315.9 364.3h0.9v0.9h-0.9zM327.5 369.0h0.9v0.9h-0.9zM325.5 371.1h0.9v0.9h-0.9zM332.5 362.8h0.9v0.9h-0.9zM325.5 372.4h0.9v0.9h-0.9zM335.1 365.9h0.9v0.9h-0.9zM307.7 365.7h0.9v0.9h-0.9zM327.5 368.4h0.9v0.9h-0.9zM331.3 368.5h0.9v0.9h-0.9zM312.7 365.7h0.9v0.9h-0.9zM321.9 371.5h0.9v0.9h-0.9zM337.2 366.0h0.9v0.9h-0.9zM328.0 368.8h0.9v0.9h-0.9zM313.7 365.5h0.9v0.9h-0.9zM337.9 367.7h0.9v0.9h-0.9zM323.2 370.4h0.9v0.9h-0.9zM327.2 371.1h0.9v0.9h-0.9zM316.8 367.9h0.9v0.9h-0.9zM326.3 370.0h0.9v0.9h-0.9zM317.5 363.9h0.9v0.9h-0.9zM331.7 371.5h0.9v0.9h-0.9zM332.5 368.6h0.9v0.9h-0.9zM308.0 367.8h0.9v0.9h-0.9zM342.1 369.9h0.9v0.9h-0.9zM326.2 364.2h0.9v0.9h-0.9zM318.2 371.9h0.9v0.9h-0.9zM327.0 368.6h0.9v0.9h-0.9zM335.2 371.1h0.9v0.9h-0.9zM328.9 368.5h0.9v0.9h-0.9zM327.8 372.1h0.9v0.9h-0.9zM326.8 365.3h0.9v0.9h-0.9zM322.4 368.2h0.9v0.9h-0.9zM327.7 372.8h0.9v0.9h-0.9zM323.4 367.7h0.9v0.9h-0.9zM330.6 370.4h0.9v0.9h-0.9zM317.0 370.4h0.9v0.9h-0.9zM325.7 370.0h0.9v0.9h-0.9zM310.4 363.1h0.9v0.9h-0.9zM310.6 364.0h0.9v0.9h-0.9zM332.7 372.0h0.9v0.9h-0.9zM312.5 373.4h0.9v0.9h-0.9zM313.9 366.6h0.9v0.9h-0.9zM343.3 365.2h0.9v0.9h-0.9zM330.3 371.4h0.9v0.9h-0.9zM333.9 371.0h0.9v0.9h-0.9zM326.3 373.6h0.9v0.9h-0.9zM323.3 369.3h0.9v0.9h-0.9zM327.6 368.0h0.9v0.9h-0.9zM322.7 372.6h0.9v0.9h-0.9zM338.5 370.8h0.9v0.9h-0.9zM323.1 367.5h0.9v0.9h-0.9zM320.6 367.9h0.9v0.9h-0.9zM320.1 368.7h0.9v0.9h-0.9zM322.0 372.2h0.9v0.9h-0.9zM311.4 367.8h0.9v0.9h-0.9zM331.3 367.8h0.9v0.9h-0.9zM320.4 370.7h0.9v0.9h-0.9zM323.3 366.1h0.9v0.9h-0.9zM325.4 370.9h0.9v0.9h-0.9zM309.0 371.7h0.9v0.9h-0.9zM308.7 371.1h0.9v0.9h-0.9zM312.3 369.7h0.9v0.9h-0.9zM323.7 372.1h0.9v0.9h-0.9zM323.4 367.8h0.9v0.9h-0.9zM317.4 369.7h0.9v0.9h-0.9zM321.9 371.6h0.9v0.9h-0.9zM327.8 372.7h0.9v0.9h-0.9zM330.4 369.6h0.9v0.9h-0.9zM323.5 370.9h0.9v0.9h-0.9zM330.9 365.1h0.9v0.9h-0.9zM327.7 368.0h0.9v0.9h-0.9zM327.0 371.4h0.9v0.9h-0.9zM333.0 363.9h0.9v0.9h-0.9zM326.1 369.1h0.9v0.9h-0.9zM319.1 371.7h0.9v0.9h-0.9zM332.4 369.1h0.9v0.9h-0.9zM336.7 373.4h0.9v0.9h-0.9zM325.9 371.5h0.9v0.9h-0.9zM331.9 374.2h0.9v0.9h-0.9zM331.4 371.1h0.9v0.9h-0.9zM325.2 371.2h0.9v0.9h-0.9zM338.2 368.8h0.9v0.9h-0.9zM323.3 366.2h0.9v0.9h-0.9zM347.1 367.9h0.9v0.9h-0.9zM319.7 367.4h0.9v0.9h-0.9zM334.8 370.1h0.9v0.9h-0.9zM340.6 368.9h0.9v0.9h-0.9zM325.3 377.7h0.9v0.9h-0.9zM322.1 368.5h0.9v0.9h-0.9zM329.9 376.3h0.9v0.9h-0.9zM328.2 364.3h0.9v0.9h-0.9zM323.0 368.4h0.9v0.9h-0.9zM331.0 368.0h0.9v0.9h-0.9zM325.5 365.3h0.9v0.9h-0.9zM313.0 369.3h0.9v0.9h-0.9zM338.9 366.2h0.9v0.9h-0.9zM310.1 372.6h0.9v0.9h-0.9zM327.8 371.5h0.9v0.9h-0.9zM322.8 369.8h0.9v0.9h-0.9zM323.5 369.1h0.9v0.9h-0.9zM340.3 367.9h0.9v0.9h-0.9zM320.8 369.1h0.9v0.9h-0.9zM322.7 374.1h0.9v0.9h-0.9zM322.9 370.3h0.9v0.9h-0.9zM313.4 370.7h0.9v0.9h-0.9zM330.1 371.1h0.9v0.9h-0.9zM310.1 367.3h0.9v0.9h-0.9zM323.5 374.0h0.9v0.9h-0.9zM341.6 372.2h0.9v0.9h-0.9zM318.7 368.5h0.9v0.9h-0.9zM331.4 363.3h0.9v0.9h-0.9zM336.8 373.5h0.9v0.9h-0.9zM332.2 368.3h0.9v0.9h-0.9zM327.6 364.4h0.9v0.9h-0.9zM315.9 367.8h0.9v0.9h-0.9zM317.6 374.1h0.9v0.9h-0.9zM328.4 361.9h0.9v0.9h-0.9zM334.6 370.6h0.9v0.9h-0.9zM322.3 367.0h0.9v0.9h-0.9zM342.9 369.8h0.9v0.9h-0.9zM326.7 364.3h0.9v0.9h-0.9zM319.2 371.8h0.9v0.9h-0.9zM325.5 367.8h0.9v0.9h-0.9zM321.6 364.4h0.9v0.9h-0.9zM311.4 364.4h0.9v0.9h-0.9zM327.2 371.9h0.9v0.9h-0.9zM321.2 372.4h0.9v0.9h-0.9zM324.7 359.8h0.9v0.9h-0.9zM338.9 365.9h0.9v0.9h-0.9zM338.5 368.3h0.9v0.9h-0.9zM323.7 367.7h0.9v0.9h-0.9zM315.3 370.9h0.9v0.9h-0.9zM339.3 373.0h0.9v0.9h-0.9zM319.3 370.6h0.9v0.9h-0.9zM333.7 370.8h0.9v0.9h-0.9zM312.7 375.2h0.9v0.9h-0.9zM317.7 366.6h0.9v0.9h-0.9zM325.6 369.8h0.9v0.9h-0.9zM319.3 365.2h0.9v0.9h-0.9zM313.3 369.1h0.9v0.9h-0.9zM307.4 372.5h0.9v0.9h-0.9zM330.1 369.7h0.9v0.9h-0.9zM326.1 366.5h0.9v0.9h-0.9zM319.3 371.8h0.9v0.9h-0.9zM319.7 373.9h0.9v0.9h-0.9zM333.5 371.2h0.9v0.9h-0.9zM322.2 366.3h0.9v0.9h-0.9zM322.9 366.2h0.9v0.9h-0.9zM321.0 368.0h0.9v0.9h-0.9zM319.2 372.5h0.9v0.9h-0.9zM316.3 366.8h0.9v0.9h-0.9zM334.9 369.9h0.9v0.9h-0.9zM328.7 367.2h0.9v0.9h-0.9zM327.2 373.0h0.9v0.9h-0.9zM324.5 370.4h0.9v0.9h-0.9zM335.3 370.9h0.9v0.9h-0.9zM335.4 365.5h0.9v0.9h-0.9zM308.5 365.7h0.9v0.9h-0.9zM328.1 367.1h0.9v0.9h-0.9zM336.0 367.5h0.9v0.9h-0.9zM318.4 367.0h0.9v0.9h-0.9zM330.8 370.4h0.9v0.9h-0.9zM325.5 373.2h0.9v0.9h-0.9zM316.9 365.5h0.9v0.9h-0.9zM324.3 368.9h0.9v0.9h-0.9zM325.1 370.3h0.9v0.9h-0.9zM310.4 373.8h0.9v0.9h-0.9zM308.2 370.1h0.9v0.9h-0.9zM327.4 371.6h0.9v0.9h-0.9zM326.3 366.6h0.9v0.9h-0.9zM322.5 365.0h0.9v0.9h-0.9zM322.8 368.4h0.9v0.9h-0.9zM307.4 375.7h0.9v0.9h-0.9zM318.8 370.7h0.9v0.9h-0.9zM336.0 369.0h0.9v0.9h-0.9zM320.6 365.7h0.9v0.9h-0.9zM317.6 366.9h0.9v0.9h-0.9zM322.8 371.5h0.9v0.9h-0.9zM326.0 373.6h0.9v0.9h-0.9zM327.8 369.8h0.9v0.9h-0.9zM326.6 364.6h0.9v0.9h-0.9zM323.7 367.0h0.9v0.9h-0.9zM322.3 369.0h0.9v0.9h-0.9zM321.7 368.9h0.9v0.9h-0.9zM327.4 370.0h0.9v0.9h-0.9zM318.2 371.8h0.9v0.9h-0.9zM324.7 370.2h0.9v0.9h-0.9zM339.9 374.1h0.9v0.9h-0.9zM343.8 368.4h0.9v0.9h-0.9zM328.0 370.5h0.9v0.9h-0.9zM325.2 368.6h0.9v0.9h-0.9zM331.7 372.5h0.9v0.9h-0.9zM344.0 367.5h0.9v0.9h-0.9zM328.4 366.8h0.9v0.9h-0.9zM321.8 362.0h0.9v0.9h-0.9zM343.3 364.3h0.9v0.9h-0.9zM325.2 363.7h0.9v0.9h-0.9zM321.2 366.0h0.9v0.9h-0.9zM322.2 368.7h0.9v0.9h-0.9zM321.4 365.7h0.9v0.9h-0.9zM337.8 367.0h0.9v0.9h-0.9zM326.3 373.6h0.9v0.9h-0.9zM324.7 368.7h0.9v0.9h-0.9zM332.8 367.8h0.9v0.9h-0.9zM324.8 368.6h0.9v0.9h-0.9zM320.7 371.3h0.9v0.9h-0.9zM326.7 373.3h0.9v0.9h-0.9zM327.7 364.8h0.9v0.9h-0.9zM327.7 368.2h0.9v0.9h-0.9zM321.9 372.0h0.9v0.9h-0.9zM327.9 364.3h0.9v0.9h-0.9zM342.2 368.6h0.9v0.9h-0.9zM309.5 368.1h0.9v0.9h-0.9zM328.5 365.7h0.9v0.9h-0.9zM316.4 363.7h0.9v0.9h-0.9zM326.6 367.5h0.9v0.9h-0.9zM337.9 369.9h0.9v0.9h-0.9zM326.3 367.2h0.9v0.9h-0.9zM333.0 364.9h0.9v0.9h-0.9zM326.7 370.5h0.9v0.9h-0.9zM317.1 365.5h0.9v0.9h-0.9zM334.5 374.5h0.9v0.9h-0.9zM327.7 374.5h0.9v0.9h-0.9zM328.3 368.5h0.9v0.9h-0.9zM320.5 365.4h0.9v0.9h-0.9zM332.4 367.4h0.9v0.9h-0.9zM318.4 370.1h0.9v0.9h-0.9zM328.5 366.8h0.9v0.9h-0.9zM326.0 368.6h0.9v0.9h-0.9zM325.4 368.6h0.9v0.9h-0.9zM320.4 361.8h0.9v0.9h-0.9zM318.8 372.6h0.9v0.9h-0.9zM321.2 369.6h0.9v0.9h-0.9zM329.6 366.0h0.9v0.9h-0.9zM324.8 368.2h0.9v0.9h-0.9zM327.4 370.9h0.9v0.9h-0.9zM324.8 368.4h0.9v0.9h-0.9zM332.7 369.4h0.9v0.9h-0.9zM310.8 372.8h0.9v0.9h-0.9zM328.2 367.3h0.9v0.9h-0.9zM323.6 366.2h0.9v0.9h-0.9zM325.4 364.6h0.9v0.9h-0.9zM333.2 370.4h0.9v0.9h-0.9zM315.2 370.5h0.9v0.9h-0.9zM311.0 367.4h0.9v0.9h-0.9zM315.1 371.1h0.9v0.9h-0.9zM330.4 365.0h0.9v0.9h-0.9zM325.7 370.5h0.9v0.9h-0.9zM321.0 376.3h0.9v0.9h-0.9zM309.9 373.0h0.9v0.9h-0.9zM337.6 368.0h0.9v0.9h-0.9zM313.9 372.6h0.9v0.9h-0.9zM311.2 369.0h0.9v0.9h-0.9zM318.9 365.1h0.9v0.9h-0.9zM329.1 372.5h0.9v0.9h-0.9zM311.8 371.0h0.9v0.9h-0.9zM324.9 367.0h0.9v0.9h-0.9zM319.3 370.7h0.9v0.9h-0.9zM334.1 368.2h0.9v0.9h-0.9zM327.6 363.2h0.9v0.9h-0.9zM319.3 369.0h0.9v0.9h-0.9zM321.4 369.9h0.9v0.9h-0.9zM316.0 370.9h0.9v0.9h-0.9zM318.7 368.6h0.9v0.9h-0.9zM329.9 373.1h0.9v0.9h-0.9zM314.8 368.7h0.9v0.9h-0.9zM314.8 369.1h0.9v0.9h-0.9zM318.7 365.4h0.9v0.9h-0.9zM334.0 370.1h0.9v0.9h-0.9zM324.0 373.0h0.9v0.9h-0.9zM309.2 370.2h0.9v0.9h-0.9zM338.4 367.9h0.9v0.9h-0.9zM316.1 366.6h0.9v0.9h-0.9zM335.0 372.2h0.9v0.9h-0.9zM326.9 371.8h0.9v0.9h-0.9zM317.9 367.8h0.9v0.9h-0.9zM331.4 366.1h0.9v0.9h-0.9zM325.9 368.9h0.9v0.9h-0.9zM316.3 369.6h0.9v0.9h-0.9zM312.4 367.0h0.9v0.9h-0.9zM315.9 370.0h0.9v0.9h-0.9zM324.0 365.2h0.9v0.9h-0.9zM321.6 375.7h0.9v0.9h-0.9zM324.5 370.2h0.9v0.9h-0.9zM334.1 364.6h0.9v0.9h-0.9zM315.7 366.7h0.9v0.9h-0.9zM322.6 370.7h0.9v0.9h-0.9zM308.1 371.0h0.9v0.9h-0.9zM327.5 365.4h0.9v0.9h-0.9zM316.1 367.3h0.9v0.9h-0.9zM338.2 365.9h0.9v0.9h-0.9zM332.4 374.8h0.9v0.9h-0.9zM320.2 366.5h0.9v0.9h-0.9zM323.7 365.9h0.9v0.9h-0.9zM320.3 365.7h0.9v0.9h-0.9zM310.2 364.0h0.9v0.9h-0.9zM332.0 366.8h0.9v0.9h-0.9zM313.2 372.1h0.9v0.9h-0.9zM322.0 367.8h0.9v0.9h-0.9zM316.7 368.9h0.9v0.9h-0.9zM320.7 367.5h0.9v0.9h-0.9z" fill="#cc2014" fill-opacity="0.5"/>
<ellipse cx="323.5" cy="393.1" rx="14" ry="2.4" fill="url(#rg)" fill-opacity="1"/>
<path d="M322.1 393.7h0.9v0.9h-0.9zM322.0 394.1h0.9v0.9h-0.9zM329.1 392.0h0.9v0.9h-0.9zM317.3 391.8h0.9v0.9h-0.9zM318.6 393.6h0.9v0.9h-0.9zM321.1 392.5h0.9v0.9h-0.9zM323.8 391.0h0.9v0.9h-0.9zM325.1 392.8h0.9v0.9h-0.9zM327.2 392.7h0.9v0.9h-0.9zM329.2 393.9h0.9v0.9h-0.9zM321.3 393.5h0.9v0.9h-0.9zM317.7 392.3h0.9v0.9h-0.9zM316.5 392.8h0.9v0.9h-0.9zM315.8 392.0h0.9v0.9h-0.9zM321.8 391.6h0.9v0.9h-0.9zM326.7 392.1h0.9v0.9h-0.9zM321.6 392.7h0.9v0.9h-0.9zM329.2 393.5h0.9v0.9h-0.9zM321.7 392.4h0.9v0.9h-0.9zM328.3 392.8h0.9v0.9h-0.9zM316.8 393.1h0.9v0.9h-0.9zM326.9 392.9h0.9v0.9h-0.9zM323.4 394.3h0.9v0.9h-0.9zM319.9 393.6h0.9v0.9h-0.9zM332.6 394.5h0.9v0.9h-0.9zM316.1 393.4h0.9v0.9h-0.9zM323.9 395.1h0.9v0.9h-0.9zM330.8 393.9h0.9v0.9h-0.9zM330.3 393.4h0.9v0.9h-0.9zM316.8 395.0h0.9v0.9h-0.9zM312.9 393.6h0.9v0.9h-0.9zM327.8 393.1h0.9v0.9h-0.9zM329.2 392.9h0.9v0.9h-0.9zM328.0 393.2h0.9v0.9h-0.9zM318.7 393.8h0.9v0.9h-0.9zM319.7 393.5h0.9v0.9h-0.9zM316.8 393.2h0.9v0.9h-0.9zM326.5 394.0h0.9v0.9h-0.9zM316.6 392.5h0.9v0.9h-0.9zM323.1 392.0h0.9v0.9h-0.9zM326.8 395.1h0.9v0.9h-0.9zM327.3 393.5h0.9v0.9h-0.9zM318.1 393.5h0.9v0.9h-0.9zM326.4 394.7h0.9v0.9h-0.9zM321.1 394.1h0.9v0.9h-0.9zM321.0 392.7h0.9v0.9h-0.9zM320.6 393.2h0.9v0.9h-0.9zM314.1 392.6h0.9v0.9h-0.9zM332.2 391.3h0.9v0.9h-0.9zM328.5 393.7h0.9v0.9h-0.9zM320.6 392.2h0.9v0.9h-0.9zM330.1 392.6h0.9v0.9h-0.9zM325.0 392.8h0.9v0.9h-0.9zM316.4 393.9h0.9v0.9h-0.9zM327.2 392.1h0.9v0.9h-0.9zM329.9 391.8h0.9v0.9h-0.9zM315.4 393.7h0.9v0.9h-0.9zM320.6 393.0h0.9v0.9h-0.9zM332.8 392.0h0.9v0.9h-0.9zM326.9 392.6h0.9v0.9h-0.9zM323.8 392.8h0.9v0.9h-0.9zM318.4 393.0h0.9v0.9h-0.9zM317.6 393.0h0.9v0.9h-0.9zM317.4 392.7h0.9v0.9h-0.9zM324.0 391.7h0.9v0.9h-0.9zM322.8 393.6h0.9v0.9h-0.9zM323.9 393.8h0.9v0.9h-0.9zM317.2 393.5h0.9v0.9h-0.9zM325.1 390.5h0.9v0.9h-0.9zM323.1 393.8h0.9v0.9h-0.9zM322.8 393.0h0.9v0.9h-0.9zM322.4 392.8h0.9v0.9h-0.9zM316.9 392.3h0.9v0.9h-0.9zM309.9 394.8h0.9v0.9h-0.9zM323.1 393.2h0.9v0.9h-0.9zM327.0 393.4h0.9v0.9h-0.9zM322.7 391.5h0.9v0.9h-0.9zM316.0 394.5h0.9v0.9h-0.9zM325.7 393.6h0.9v0.9h-0.9zM316.8 392.5h0.9v0.9h-0.9zM324.8 392.3h0.9v0.9h-0.9zM330.4 392.3h0.9v0.9h-0.9zM320.6 391.9h0.9v0.9h-0.9zM325.3 394.1h0.9v0.9h-0.9zM324.5 392.9h0.9v0.9h-0.9zM321.0 393.7h0.9v0.9h-0.9zM323.2 394.5h0.9v0.9h-0.9zM321.6 392.6h0.9v0.9h-0.9zM320.0 391.2h0.9v0.9h-0.9zM324.6 393.1h0.9v0.9h-0.9zM313.6 391.9h0.9v0.9h-0.9zM316.7 392.7h0.9v0.9h-0.9zM317.0 393.6h0.9v0.9h-0.9zM330.4 392.4h0.9v0.9h-0.9zM323.3 392.0h0.9v0.9h-0.9zM331.1 392.0h0.9v0.9h-0.9zM318.4 393.0h0.9v0.9h-0.9zM318.3 395.4h0.9v0.9h-0.9zM322.0 392.7h0.9v0.9h-0.9zM317.2 392.9h0.9v0.9h-0.9zM319.5 392.6h0.9v0.9h-0.9zM329.2 392.4h0.9v0.9h-0.9zM325.7 392.4h0.9v0.9h-0.9zM329.2 392.3h0.9v0.9h-0.9zM317.4 392.7h0.9v0.9h-0.9zM330.7 392.6h0.9v0.9h-0.9zM317.9 392.8h0.9v0.9h-0.9zM318.9 393.2h0.9v0.9h-0.9zM319.1 393.2h0.9v0.9h-0.9zM328.6 393.4h0.9v0.9h-0.9zM332.2 393.2h0.9v0.9h-0.9zM334.3 394.1h0.9v0.9h-0.9zM321.5 393.7h0.9v0.9h-0.9zM318.8 392.8h0.9v0.9h-0.9zM322.7 392.2h0.9v0.9h-0.9zM325.0 392.9h0.9v0.9h-0.9zM335.1 393.6h0.9v0.9h-0.9zM321.7 392.3h0.9v0.9h-0.9zM320.0 392.3h0.9v0.9h-0.9zM318.7 393.0h0.9v0.9h-0.9zM315.1 392.7h0.9v0.9h-0.9zM326.1 392.4h0.9v0.9h-0.9zM316.5 392.5h0.9v0.9h-0.9zM328.3 392.3h0.9v0.9h-0.9zM332.5 391.5h0.9v0.9h-0.9zM318.4 393.5h0.9v0.9h-0.9zM331.2 392.8h0.9v0.9h-0.9zM313.3 392.7h0.9v0.9h-0.9zM317.8 392.3h0.9v0.9h-0.9zM320.9 392.4h0.9v0.9h-0.9zM322.9 393.1h0.9v0.9h-0.9zM321.5 391.4h0.9v0.9h-0.9zM322.1 390.6h0.9v0.9h-0.9zM323.6 392.6h0.9v0.9h-0.9zM317.6 394.8h0.9v0.9h-0.9zM333.1 394.2h0.9v0.9h-0.9zM324.5 392.5h0.9v0.9h-0.9zM325.9 394.4h0.9v0.9h-0.9zM322.7 392.8h0.9v0.9h-0.9zM319.7 392.9h0.9v0.9h-0.9zM328.2 392.1h0.9v0.9h-0.9zM329.5 393.1h0.9v0.9h-0.9zM336.5 393.1h0.9v0.9h-0.9zM330.8 392.1h0.9v0.9h-0.9zM337.6 393.0h0.9v0.9h-0.9zM322.7 394.3h0.9v0.9h-0.9zM324.2 391.9h0.9v0.9h-0.9zM326.9 393.4h0.9v0.9h-0.9zM323.1 392.5h0.9v0.9h-0.9zM313.6 394.5h0.9v0.9h-0.9zM320.6 393.3h0.9v0.9h-0.9zM320.2 392.3h0.9v0.9h-0.9zM324.9 392.2h0.9v0.9h-0.9zM328.8 391.5h0.9v0.9h-0.9zM326.8 394.0h0.9v0.9h-0.9zM320.6 393.2h0.9v0.9h-0.9zM328.2 392.6h0.9v0.9h-0.9zM321.9 392.8h0.9v0.9h-0.9zM339.5 392.2h0.9v0.9h-0.9zM322.2 392.6h0.9v0.9h-0.9zM320.0 392.1h0.9v0.9h-0.9zM319.3 393.1h0.9v0.9h-0.9zM330.2 394.4h0.9v0.9h-0.9zM315.6 392.1h0.9v0.9h-0.9zM323.1 392.1h0.9v0.9h-0.9zM318.7 392.8h0.9v0.9h-0.9zM319.9 392.2h0.9v0.9h-0.9zM324.6 392.3h0.9v0.9h-0.9zM321.7 393.3h0.9v0.9h-0.9zM327.5 393.2h0.9v0.9h-0.9zM329.8 393.1h0.9v0.9h-0.9zM314.5 394.3h0.9v0.9h-0.9zM340.3 393.7h0.9v0.9h-0.9zM332.8 394.0h0.9v0.9h-0.9zM320.7 393.5h0.9v0.9h-0.9zM319.2 392.5h0.9v0.9h-0.9zM326.7 393.0h0.9v0.9h-0.9zM319.4 391.7h0.9v0.9h-0.9zM328.1 393.0h0.9v0.9h-0.9zM324.2 392.2h0.9v0.9h-0.9zM318.7 392.9h0.9v0.9h-0.9zM312.2 394.1h0.9v0.9h-0.9zM323.4 393.9h0.9v0.9h-0.9zM329.0 392.5h0.9v0.9h-0.9zM326.4 392.0h0.9v0.9h-0.9zM317.9 394.2h0.9v0.9h-0.9zM320.1 392.3h0.9v0.9h-0.9zM326.1 393.0h0.9v0.9h-0.9zM329.1 391.8h0.9v0.9h-0.9zM321.8 392.0h0.9v0.9h-0.9zM323.5 392.7h0.9v0.9h-0.9zM317.7 391.4h0.9v0.9h-0.9zM315.2 393.8h0.9v0.9h-0.9zM321.1 392.0h0.9v0.9h-0.9zM324.4 392.0h0.9v0.9h-0.9zM328.8 393.8h0.9v0.9h-0.9zM323.6 392.5h0.9v0.9h-0.9zM312.4 393.4h0.9v0.9h-0.9zM335.4 393.1h0.9v0.9h-0.9zM320.1 393.7h0.9v0.9h-0.9zM321.0 391.9h0.9v0.9h-0.9zM322.7 393.5h0.9v0.9h-0.9zM312.4 393.9h0.9v0.9h-0.9zM333.0 393.0h0.9v0.9h-0.9zM320.5 391.7h0.9v0.9h-0.9zM326.5 392.7h0.9v0.9h-0.9zM330.6 394.4h0.9v0.9h-0.9zM330.7 393.1h0.9v0.9h-0.9zM312.5 394.2h0.9v0.9h-0.9zM320.5 392.5h0.9v0.9h-0.9zM329.7 393.4h0.9v0.9h-0.9zM317.1 392.7h0.9v0.9h-0.9zM321.6 392.8h0.9v0.9h-0.9zM316.3 394.3h0.9v0.9h-0.9zM322.6 393.6h0.9v0.9h-0.9zM329.7 394.9h0.9v0.9h-0.9zM327.7 392.3h0.9v0.9h-0.9zM320.7 393.8h0.9v0.9h-0.9zM333.2 391.7h0.9v0.9h-0.9zM334.8 392.5h0.9v0.9h-0.9zM322.2 392.6h0.9v0.9h-0.9zM326.9 392.8h0.9v0.9h-0.9zM323.1 392.2h0.9v0.9h-0.9zM332.1 393.3h0.9v0.9h-0.9zM323.1 394.9h0.9v0.9h-0.9zM327.3 394.2h0.9v0.9h-0.9zM321.8 393.1h0.9v0.9h-0.9zM322.5 393.8h0.9v0.9h-0.9zM325.1 391.5h0.9v0.9h-0.9zM326.8 392.8h0.9v0.9h-0.9zM324.9 393.8h0.9v0.9h-0.9zM321.8 393.6h0.9v0.9h-0.9zM323.5 392.9h0.9v0.9h-0.9zM320.4 392.9h0.9v0.9h-0.9zM321.6 393.7h0.9v0.9h-0.9zM309.7 393.5h0.9v0.9h-0.9zM323.0 392.0h0.9v0.9h-0.9zM328.1 393.0h0.9v0.9h-0.9zM326.7 394.2h0.9v0.9h-0.9zM324.7 391.6h0.9v0.9h-0.9zM313.9 392.9h0.9v0.9h-0.9zM316.2 394.9h0.9v0.9h-0.9zM322.9 391.4h0.9v0.9h-0.9zM310.5 392.5h0.9v0.9h-0.9zM309.0 393.4h0.9v0.9h-0.9zM309.7 393.8h0.9v0.9h-0.9zM320.5 394.0h0.9v0.9h-0.9zM316.5 392.6h0.9v0.9h-0.9zM329.9 391.5h0.9v0.9h-0.9zM327.4 394.3h0.9v0.9h-0.9z" fill="#c01408" fill-opacity="0.6"/>
<rect x="306.90" y="355.40" width="41.40" height="41.50" fill="none" stroke="#7a7a7a" stroke-width="0.9"/>
<line x1="333.40" y1="355.40" x2="333.40" y2="396.90" stroke="#4a4a4a" stroke-width="0.85"/>
<line x1="306.90" y1="383.20" x2="348.30" y2="383.20" stroke="#4a4a4a" stroke-width="0.85"/>
<circle cx="333.4" cy="383.2" r="0.9" fill="#000"/>
<circle cx="307.5" cy="356.0" r="0.7" fill="#000"/>
<text x="308.50" y="359.00" font-size="2.8" fill="#444" stroke="#444" stroke-width="0.2">Q1</text>
<text x="339.80" y="370.70" font-size="2.6" fill="#555" stroke="#555" stroke-width="0.2">Q2</text>
<text x="341.80" y="391.90" font-size="2.6" fill="#555" stroke="#555" stroke-width="0.2">Q4</text>
<text x="293.70" y="358.30" font-size="5.3" fill="#444" stroke="#444" stroke-width="0.14">10<tspan font-size="3.50" dy="-2.12">4</tspan></text>
<text x="293.70" y="369.00" font-size="5.3" fill="#444" stroke="#444" stroke-width="0.14">10<tspan font-size="3.50" dy="-2.12">3</tspan></text>
<line x1="305.30" y1="366.80" x2="306.90" y2="366.80" stroke="#444" stroke-width="0.9"/>
<text x="293.70" y="379.30" font-size="5.3" fill="#444" stroke="#444" stroke-width="0.14">10<tspan font-size="3.50" dy="-2.12">2</tspan></text>
<line x1="305.30" y1="377.10" x2="306.90" y2="377.10" stroke="#444" stroke-width="0.9"/>
<text x="293.70" y="389.00" font-size="5.3" fill="#444" stroke="#444" stroke-width="0.14">10<tspan font-size="3.50" dy="-2.12">1</tspan></text>
<line x1="305.30" y1="386.80" x2="306.90" y2="386.80" stroke="#444" stroke-width="0.9"/>
<text x="293.70" y="398.80" font-size="5.3" fill="#444" stroke="#444" stroke-width="0.14">10<tspan font-size="3.50" dy="-2.12">0</tspan></text>
<text x="307.50" y="405.80" font-size="5.6" fill="#333" stroke="#333" stroke-width="0.14" text-anchor="middle">10<tspan font-size="3.70" dy="-2.24">0</tspan></text>
<text x="317.85" y="405.80" font-size="5.6" fill="#333" stroke="#333" stroke-width="0.14" text-anchor="middle">10<tspan font-size="3.70" dy="-2.24">1</tspan></text>
<text x="328.20" y="405.80" font-size="5.6" fill="#333" stroke="#333" stroke-width="0.14" text-anchor="middle">10<tspan font-size="3.70" dy="-2.24">2</tspan></text>
<text x="338.55" y="405.80" font-size="5.6" fill="#333" stroke="#333" stroke-width="0.14" text-anchor="middle">10<tspan font-size="3.70" dy="-2.24">3</tspan></text>
<text x="348.90" y="405.80" font-size="5.6" fill="#333" stroke="#333" stroke-width="0.14" text-anchor="middle">10<tspan font-size="3.70" dy="-2.24">4</tspan></text>
<text x="327.70" y="415.80" font-size="7" fill="#2a2a2a" text-anchor="middle" textLength="29.6" lengthAdjust="spacingAndGlyphs" stroke="#2a2a2a" stroke-width="0.18">APC Log comp</text>
<text x="288.00" y="377.30" font-size="7" fill="#2a2a2a" text-anchor="middle" textLength="29.8" lengthAdjust="spacingAndGlyphs" transform="rotate(-90 288.00 377.30)" stroke="#2a2a2a" stroke-width="0.15">FITC Log comp</text>
<text x="327.60" y="351.20" font-size="6.5" fill="#111" stroke="#111" stroke-width="0.22" font-weight="bold" text-anchor="middle" textLength="40.5" lengthAdjust="spacingAndGlyphs">17β Estradiol</text>
<text x="310.30" y="368.50" font-size="7" fill="#2a2a2a" stroke="#2a2a2a" stroke-width="0.2" textLength="13.1" lengthAdjust="spacingAndGlyphs">55%</text>
<text x="333.20" y="368.50" font-size="7" fill="#2a2a2a" stroke="#2a2a2a" stroke-width="0.2" textLength="13.1" lengthAdjust="spacingAndGlyphs">15%</text>
<text x="310.30" y="389.50" font-size="7" fill="#2a2a2a" stroke="#2a2a2a" stroke-width="0.2" textLength="13.1" lengthAdjust="spacingAndGlyphs">26%</text>
<text x="334.20" y="389.50" font-size="7" fill="#2a2a2a" stroke="#2a2a2a" stroke-width="0.2" textLength="9.0" lengthAdjust="spacingAndGlyphs">4%</text>
<path d="M98.7 466.8h0.9v0.9h-0.9zM104.9 466.8h0.9v0.9h-0.9zM104.8 468.6h0.9v0.9h-0.9zM116.8 468.0h0.9v0.9h-0.9zM101.8 468.5h0.9v0.9h-0.9zM113.4 467.5h0.9v0.9h-0.9zM120.6 466.4h0.9v0.9h-0.9zM109.8 469.1h0.9v0.9h-0.9zM101.2 468.7h0.9v0.9h-0.9zM121.3 466.1h0.9v0.9h-0.9zM96.9 466.6h0.9v0.9h-0.9zM105.2 465.5h0.9v0.9h-0.9zM118.2 468.0h0.9v0.9h-0.9zM114.7 464.6h0.9v0.9h-0.9zM120.1 467.7h0.9v0.9h-0.9zM112.3 468.5h0.9v0.9h-0.9zM103.6 463.5h0.9v0.9h-0.9zM105.1 467.1h0.9v0.9h-0.9zM112.7 467.3h0.9v0.9h-0.9zM112.9 467.9h0.9v0.9h-0.9zM107.0 468.1h0.9v0.9h-0.9zM114.1 465.7h0.9v0.9h-0.9zM91.4 467.5h0.9v0.9h-0.9zM113.5 469.0h0.9v0.9h-0.9zM119.6 467.6h0.9v0.9h-0.9zM120.1 466.1h0.9v0.9h-0.9zM97.0 467.1h0.9v0.9h-0.9zM98.4 465.0h0.9v0.9h-0.9zM101.3 464.2h0.9v0.9h-0.9zM110.9 468.2h0.9v0.9h-0.9zM114.4 465.5h0.9v0.9h-0.9zM113.9 468.2h0.9v0.9h-0.9zM114.2 466.5h0.9v0.9h-0.9zM112.2 465.8h0.9v0.9h-0.9zM111.2 465.4h0.9v0.9h-0.9zM94.7 466.1h0.9v0.9h-0.9zM107.2 465.9h0.9v0.9h-0.9zM105.8 466.1h0.9v0.9h-0.9zM114.5 468.6h0.9v0.9h-0.9zM118.5 468.7h0.9v0.9h-0.9zM112.8 468.6h0.9v0.9h-0.9zM119.3 466.8h0.9v0.9h-0.9zM106.1 467.1h0.9v0.9h-0.9zM108.2 467.9h0.9v0.9h-0.9zM104.4 466.4h0.9v0.9h-0.9zM111.0 468.0h0.9v0.9h-0.9zM107.7 464.5h0.9v0.9h-0.9zM106.4 468.6h0.9v0.9h-0.9zM106.6 469.3h0.9v0.9h-0.9zM103.8 466.7h0.9v0.9h-0.9zM116.5 469.2h0.9v0.9h-0.9zM110.6 467.8h0.9v0.9h-0.9zM106.7 467.0h0.9v0.9h-0.9zM99.9 469.1h0.9v0.9h-0.9zM120.7 467.2h0.9v0.9h-0.9zM102.9 466.6h0.9v0.9h-0.9zM121.0 466.9h0.9v0.9h-0.9zM119.9 469.3h0.9v0.9h-0.9zM123.4 467.6h0.9v0.9h-0.9zM115.8 464.9h0.9v0.9h-0.9zM112.2 467.2h0.9v0.9h-0.9zM117.9 464.0h0.9v0.9h-0.9zM110.4 466.3h0.9v0.9h-0.9zM109.8 466.9h0.9v0.9h-0.9zM105.5 468.2h0.9v0.9h-0.9zM111.5 469.2h0.9v0.9h-0.9zM97.8 466.3h0.9v0.9h-0.9zM109.4 464.8h0.9v0.9h-0.9zM102.8 467.4h0.9v0.9h-0.9zM112.9 464.7h0.9v0.9h-0.9zM92.7 467.8h0.9v0.9h-0.9zM113.4 468.6h0.9v0.9h-0.9zM103.4 466.1h0.9v0.9h-0.9zM98.9 464.8h0.9v0.9h-0.9zM115.6 465.6h0.9v0.9h-0.9zM95.4 466.1h0.9v0.9h-0.9zM108.6 467.7h0.9v0.9h-0.9zM113.6 469.1h0.9v0.9h-0.9zM95.9 464.4h0.9v0.9h-0.9zM107.9 468.2h0.9v0.9h-0.9zM103.4 467.6h0.9v0.9h-0.9zM108.0 469.2h0.9v0.9h-0.9zM106.7 466.3h0.9v0.9h-0.9zM113.7 468.9h0.9v0.9h-0.9zM102.5 467.0h0.9v0.9h-0.9zM101.8 465.1h0.9v0.9h-0.9zM105.6 466.5h0.9v0.9h-0.9zM100.8 466.9h0.9v0.9h-0.9zM107.9 467.8h0.9v0.9h-0.9zM103.4 464.6h0.9v0.9h-0.9zM107.5 468.4h0.9v0.9h-0.9zM121.1 467.0h0.9v0.9h-0.9zM106.2 465.8h0.9v0.9h-0.9zM123.3 466.1h0.9v0.9h-0.9zM103.8 467.1h0.9v0.9h-0.9zM106.6 467.3h0.9v0.9h-0.9zM113.7 467.9h0.9v0.9h-0.9zM113.9 468.7h0.9v0.9h-0.9zM105.6 467.0h0.9v0.9h-0.9zM105.1 466.8h0.9v0.9h-0.9zM104.9 468.5h0.9v0.9h-0.9zM119.2 467.1h0.9v0.9h-0.9zM105.9 468.6h0.9v0.9h-0.9zM106.8 468.1h0.9v0.9h-0.9zM104.3 468.1h0.9v0.9h-0.9z" fill="#e6706a" fill-opacity="0.3"/>
<ellipse cx="109.7" cy="467.6" rx="15.399999999999999" ry="3.0" fill="url(#rg)" fill-opacity="0.25"/>
<ellipse cx="96.5" cy="467.6" rx="13.75" ry="3.0" fill="url(#rg)" fill-opacity="1"/>
<path d="M105.9 468.0h0.9v0.9h-0.9zM95.2 468.3h0.9v0.9h-0.9zM104.9 465.7h0.9v0.9h-0.9zM94.5 467.5h0.9v0.9h-0.9zM101.3 466.3h0.9v0.9h-0.9zM101.0 467.7h0.9v0.9h-0.9zM99.7 466.7h0.9v0.9h-0.9zM97.3 468.2h0.9v0.9h-0.9zM91.0 465.1h0.9v0.9h-0.9zM96.2 467.4h0.9v0.9h-0.9zM100.3 467.7h0.9v0.9h-0.9zM89.4 465.6h0.9v0.9h-0.9zM102.6 468.5h0.9v0.9h-0.9zM95.9 467.4h0.9v0.9h-0.9zM100.4 467.2h0.9v0.9h-0.9zM89.6 468.7h0.9v0.9h-0.9zM89.1 467.3h0.9v0.9h-0.9zM103.7 468.0h0.9v0.9h-0.9zM102.6 469.0h0.9v0.9h-0.9zM97.7 466.3h0.9v0.9h-0.9zM87.3 465.7h0.9v0.9h-0.9zM100.7 466.3h0.9v0.9h-0.9zM95.9 467.7h0.9v0.9h-0.9zM98.5 467.6h0.9v0.9h-0.9zM103.6 467.9h0.9v0.9h-0.9zM102.5 467.6h0.9v0.9h-0.9zM96.8 467.8h0.9v0.9h-0.9zM99.3 468.3h0.9v0.9h-0.9zM94.0 468.2h0.9v0.9h-0.9zM111.8 465.2h0.9v0.9h-0.9zM100.1 467.5h0.9v0.9h-0.9zM95.4 467.1h0.9v0.9h-0.9zM90.2 467.8h0.9v0.9h-0.9zM92.7 469.0h0.9v0.9h-0.9zM98.4 469.2h0.9v0.9h-0.9zM97.3 466.3h0.9v0.9h-0.9zM99.0 467.8h0.9v0.9h-0.9zM101.3 465.5h0.9v0.9h-0.9zM97.0 468.9h0.9v0.9h-0.9zM97.1 465.8h0.9v0.9h-0.9zM98.9 468.1h0.9v0.9h-0.9zM104.3 468.1h0.9v0.9h-0.9zM91.2 468.7h0.9v0.9h-0.9zM100.5 468.7h0.9v0.9h-0.9zM95.7 468.6h0.9v0.9h-0.9zM85.1 466.4h0.9v0.9h-0.9zM100.0 469.1h0.9v0.9h-0.9zM99.8 467.8h0.9v0.9h-0.9zM95.7 467.2h0.9v0.9h-0.9zM102.7 466.0h0.9v0.9h-0.9zM98.1 469.0h0.9v0.9h-0.9zM87.5 465.6h0.9v0.9h-0.9zM91.2 467.6h0.9v0.9h-0.9zM99.6 467.1h0.9v0.9h-0.9zM101.0 467.2h0.9v0.9h-0.9zM87.8 468.5h0.9v0.9h-0.9zM96.6 467.0h0.9v0.9h-0.9zM87.6 465.3h0.9v0.9h-0.9zM90.8 468.3h0.9v0.9h-0.9zM91.6 466.4h0.9v0.9h-0.9zM92.3 468.2h0.9v0.9h-0.9zM99.9 468.7h0.9v0.9h-0.9zM91.8 469.0h0.9v0.9h-0.9zM105.4 468.0h0.9v0.9h-0.9zM102.4 469.1h0.9v0.9h-0.9zM98.8 466.8h0.9v0.9h-0.9zM99.6 468.0h0.9v0.9h-0.9zM96.9 467.4h0.9v0.9h-0.9zM103.5 467.7h0.9v0.9h-0.9zM89.8 467.9h0.9v0.9h-0.9zM102.2 466.2h0.9v0.9h-0.9zM106.1 469.4h0.9v0.9h-0.9zM90.5 467.9h0.9v0.9h-0.9zM98.9 468.1h0.9v0.9h-0.9zM98.2 468.3h0.9v0.9h-0.9zM92.4 467.4h0.9v0.9h-0.9zM96.2 468.0h0.9v0.9h-0.9zM107.5 468.4h0.9v0.9h-0.9zM90.9 468.0h0.9v0.9h-0.9zM106.1 467.7h0.9v0.9h-0.9zM100.9 467.8h0.9v0.9h-0.9zM90.5 467.7h0.9v0.9h-0.9zM94.5 466.5h0.9v0.9h-0.9zM95.9 467.3h0.9v0.9h-0.9zM95.3 468.3h0.9v0.9h-0.9zM90.8 467.7h0.9v0.9h-0.9zM98.7 467.9h0.9v0.9h-0.9zM98.2 467.7h0.9v0.9h-0.9zM88.0 465.7h0.9v0.9h-0.9zM93.5 467.3h0.9v0.9h-0.9zM91.6 466.9h0.9v0.9h-0.9zM94.4 469.2h0.9v0.9h-0.9zM96.1 468.4h0.9v0.9h-0.9zM100.4 467.8h0.9v0.9h-0.9zM102.1 467.1h0.9v0.9h-0.9zM95.7 466.6h0.9v0.9h-0.9zM96.0 468.4h0.9v0.9h-0.9zM91.8 467.6h0.9v0.9h-0.9zM95.3 467.6h0.9v0.9h-0.9zM94.4 467.9h0.9v0.9h-0.9zM89.8 467.7h0.9v0.9h-0.9zM106.0 466.6h0.9v0.9h-0.9zM101.2 467.0h0.9v0.9h-0.9zM93.5 469.3h0.9v0.9h-0.9zM100.4 468.2h0.9v0.9h-0.9zM105.8 468.2h0.9v0.9h-0.9zM96.1 465.5h0.9v0.9h-0.9zM100.6 469.2h0.9v0.9h-0.9zM94.3 466.5h0.9v0.9h-0.9zM87.2 468.2h0.9v0.9h-0.9zM83.4 468.0h0.9v0.9h-0.9zM101.2 467.2h0.9v0.9h-0.9zM90.8 467.4h0.9v0.9h-0.9zM105.3 466.6h0.9v0.9h-0.9zM92.2 468.1h0.9v0.9h-0.9zM93.2 468.8h0.9v0.9h-0.9zM92.6 466.5h0.9v0.9h-0.9zM88.4 467.4h0.9v0.9h-0.9zM102.8 467.6h0.9v0.9h-0.9zM93.4 466.2h0.9v0.9h-0.9zM98.1 467.0h0.9v0.9h-0.9zM109.5 466.5h0.9v0.9h-0.9zM89.1 466.5h0.9v0.9h-0.9zM97.7 468.1h0.9v0.9h-0.9zM97.9 468.7h0.9v0.9h-0.9zM100.5 467.1h0.9v0.9h-0.9zM106.0 466.9h0.9v0.9h-0.9zM97.8 467.7h0.9v0.9h-0.9zM103.0 467.6h0.9v0.9h-0.9zM98.5 465.8h0.9v0.9h-0.9zM96.2 467.7h0.9v0.9h-0.9zM105.0 466.1h0.9v0.9h-0.9zM90.0 468.4h0.9v0.9h-0.9zM109.5 467.8h0.9v0.9h-0.9zM84.9 466.0h0.9v0.9h-0.9zM94.5 466.8h0.9v0.9h-0.9zM99.3 468.6h0.9v0.9h-0.9zM101.0 466.8h0.9v0.9h-0.9zM92.7 467.4h0.9v0.9h-0.9zM98.9 468.1h0.9v0.9h-0.9zM94.4 468.6h0.9v0.9h-0.9zM100.6 467.3h0.9v0.9h-0.9zM97.7 469.1h0.9v0.9h-0.9zM100.2 467.3h0.9v0.9h-0.9zM94.8 468.5h0.9v0.9h-0.9zM98.8 467.7h0.9v0.9h-0.9zM92.6 467.4h0.9v0.9h-0.9zM97.5 469.2h0.9v0.9h-0.9zM89.5 467.7h0.9v0.9h-0.9zM91.5 466.4h0.9v0.9h-0.9zM109.3 466.5h0.9v0.9h-0.9zM103.4 468.6h0.9v0.9h-0.9zM99.2 467.7h0.9v0.9h-0.9zM96.4 468.1h0.9v0.9h-0.9zM98.8 468.1h0.9v0.9h-0.9zM100.2 466.1h0.9v0.9h-0.9zM89.6 467.6h0.9v0.9h-0.9zM96.4 466.4h0.9v0.9h-0.9zM101.9 468.1h0.9v0.9h-0.9zM98.3 468.6h0.9v0.9h-0.9zM100.1 467.5h0.9v0.9h-0.9zM93.3 468.7h0.9v0.9h-0.9zM94.0 467.0h0.9v0.9h-0.9zM91.4 468.2h0.9v0.9h-0.9zM98.1 467.5h0.9v0.9h-0.9zM101.9 466.9h0.9v0.9h-0.9zM101.2 467.2h0.9v0.9h-0.9zM95.8 467.4h0.9v0.9h-0.9zM97.9 468.9h0.9v0.9h-0.9zM93.3 468.6h0.9v0.9h-0.9zM103.5 467.5h0.9v0.9h-0.9zM93.0 466.6h0.9v0.9h-0.9zM95.6 467.7h0.9v0.9h-0.9zM91.4 468.0h0.9v0.9h-0.9zM98.1 468.5h0.9v0.9h-0.9zM108.2 468.5h0.9v0.9h-0.9zM92.0 467.5h0.9v0.9h-0.9zM89.5 467.2h0.9v0.9h-0.9zM88.8 468.7h0.9v0.9h-0.9zM84.5 468.2h0.9v0.9h-0.9zM97.4 466.2h0.9v0.9h-0.9zM101.0 468.8h0.9v0.9h-0.9zM106.5 467.4h0.9v0.9h-0.9zM100.8 467.8h0.9v0.9h-0.9zM104.6 467.6h0.9v0.9h-0.9zM102.8 466.7h0.9v0.9h-0.9zM93.0 466.6h0.9v0.9h-0.9zM95.6 466.5h0.9v0.9h-0.9zM97.5 467.1h0.9v0.9h-0.9zM88.9 467.8h0.9v0.9h-0.9zM102.9 468.1h0.9v0.9h-0.9zM98.5 467.4h0.9v0.9h-0.9zM95.6 466.2h0.9v0.9h-0.9zM107.5 466.1h0.9v0.9h-0.9zM91.7 466.7h0.9v0.9h-0.9zM90.7 467.8h0.9v0.9h-0.9zM92.5 467.1h0.9v0.9h-0.9zM98.6 466.5h0.9v0.9h-0.9zM90.4 468.0h0.9v0.9h-0.9zM93.8 465.9h0.9v0.9h-0.9zM99.9 466.3h0.9v0.9h-0.9zM96.5 467.6h0.9v0.9h-0.9zM98.2 467.9h0.9v0.9h-0.9zM94.3 467.6h0.9v0.9h-0.9zM87.4 467.9h0.9v0.9h-0.9zM86.1 468.3h0.9v0.9h-0.9zM92.5 468.4h0.9v0.9h-0.9zM96.2 468.1h0.9v0.9h-0.9zM94.0 467.4h0.9v0.9h-0.9zM99.2 468.2h0.9v0.9h-0.9zM94.4 465.1h0.9v0.9h-0.9zM97.3 468.3h0.9v0.9h-0.9zM103.6 467.4h0.9v0.9h-0.9zM102.5 464.4h0.9v0.9h-0.9zM94.3 467.0h0.9v0.9h-0.9zM108.0 467.4h0.9v0.9h-0.9zM110.9 467.6h0.9v0.9h-0.9zM94.1 467.1h0.9v0.9h-0.9zM91.9 467.7h0.9v0.9h-0.9zM97.4 466.7h0.9v0.9h-0.9zM106.4 468.6h0.9v0.9h-0.9zM94.8 468.1h0.9v0.9h-0.9zM95.6 467.1h0.9v0.9h-0.9zM91.8 467.0h0.9v0.9h-0.9zM106.4 469.1h0.9v0.9h-0.9zM95.9 467.3h0.9v0.9h-0.9zM102.9 466.8h0.9v0.9h-0.9zM100.7 466.2h0.9v0.9h-0.9zM98.8 468.3h0.9v0.9h-0.9zM101.2 469.1h0.9v0.9h-0.9zM103.3 467.2h0.9v0.9h-0.9zM88.9 465.5h0.9v0.9h-0.9zM90.6 467.5h0.9v0.9h-0.9zM99.1 468.0h0.9v0.9h-0.9zM97.3 467.4h0.9v0.9h-0.9zM98.7 468.6h0.9v0.9h-0.9zM97.0 468.5h0.9v0.9h-0.9zM104.6 467.8h0.9v0.9h-0.9zM100.6 467.9h0.9v0.9h-0.9zM103.3 468.4h0.9v0.9h-0.9zM97.9 468.7h0.9v0.9h-0.9zM103.5 467.8h0.9v0.9h-0.9zM89.9 469.2h0.9v0.9h-0.9zM98.1 468.3h0.9v0.9h-0.9zM97.8 467.4h0.9v0.9h-0.9zM90.2 467.7h0.9v0.9h-0.9zM95.7 468.1h0.9v0.9h-0.9zM95.2 467.6h0.9v0.9h-0.9zM101.0 467.6h0.9v0.9h-0.9zM93.4 468.1h0.9v0.9h-0.9zM95.1 466.7h0.9v0.9h-0.9zM90.8 466.8h0.9v0.9h-0.9zM93.4 465.6h0.9v0.9h-0.9zM88.7 467.1h0.9v0.9h-0.9zM94.4 467.5h0.9v0.9h-0.9zM99.9 466.6h0.9v0.9h-0.9zM105.3 468.0h0.9v0.9h-0.9zM83.2 467.6h0.9v0.9h-0.9zM91.1 468.1h0.9v0.9h-0.9zM106.5 466.3h0.9v0.9h-0.9zM97.3 466.6h0.9v0.9h-0.9zM88.3 468.2h0.9v0.9h-0.9zM101.4 467.0h0.9v0.9h-0.9zM94.4 466.5h0.9v0.9h-0.9zM92.9 467.4h0.9v0.9h-0.9zM95.7 468.3h0.9v0.9h-0.9zM97.8 467.6h0.9v0.9h-0.9zM97.2 468.2h0.9v0.9h-0.9zM99.8 466.4h0.9v0.9h-0.9zM95.6 468.0h0.9v0.9h-0.9zM92.3 466.3h0.9v0.9h-0.9zM91.0 466.5h0.9v0.9h-0.9zM95.4 467.5h0.9v0.9h-0.9zM99.6 465.9h0.9v0.9h-0.9zM99.2 468.4h0.9v0.9h-0.9zM111.5 467.3h0.9v0.9h-0.9zM100.8 466.0h0.9v0.9h-0.9zM102.7 469.1h0.9v0.9h-0.9zM98.1 467.1h0.9v0.9h-0.9zM105.1 466.7h0.9v0.9h-0.9zM106.7 466.6h0.9v0.9h-0.9zM99.3 467.9h0.9v0.9h-0.9zM97.7 467.1h0.9v0.9h-0.9zM90.9 468.9h0.9v0.9h-0.9zM99.2 466.8h0.9v0.9h-0.9zM89.3 468.3h0.9v0.9h-0.9zM104.2 467.6h0.9v0.9h-0.9zM94.2 468.1h0.9v0.9h-0.9zM99.4 468.7h0.9v0.9h-0.9zM95.8 467.0h0.9v0.9h-0.9zM96.2 466.4h0.9v0.9h-0.9zM90.5 467.1h0.9v0.9h-0.9zM95.7 467.7h0.9v0.9h-0.9zM88.6 467.3h0.9v0.9h-0.9zM107.7 466.0h0.9v0.9h-0.9zM94.5 467.2h0.9v0.9h-0.9zM100.1 466.9h0.9v0.9h-0.9zM109.4 467.1h0.9v0.9h-0.9zM98.0 467.8h0.9v0.9h-0.9zM104.4 468.0h0.9v0.9h-0.9z" fill="#cc1c10" fill-opacity="0.55"/>
<path d="M90.4 467.6h0.9v0.9h-0.9zM93.8 468.4h0.9v0.9h-0.9zM99.0 467.9h0.9v0.9h-0.9zM96.2 467.1h0.9v0.9h-0.9zM101.3 468.3h0.9v0.9h-0.9zM106.7 467.4h0.9v0.9h-0.9zM101.6 466.9h0.9v0.9h-0.9zM99.1 467.6h0.9v0.9h-0.9zM91.8 467.2h0.9v0.9h-0.9zM97.1 467.5h0.9v0.9h-0.9zM95.3 467.4h0.9v0.9h-0.9zM96.6 467.3h0.9v0.9h-0.9zM89.0 467.7h0.9v0.9h-0.9zM104.3 467.5h0.9v0.9h-0.9zM97.2 467.0h0.9v0.9h-0.9zM93.0 466.9h0.9v0.9h-0.9zM90.6 467.6h0.9v0.9h-0.9zM92.5 467.8h0.9v0.9h-0.9z" fill="#8c1010" fill-opacity="0.5"/>
<rect x="82.70" y="428.90" width="41.30" height="41.10" fill="none" stroke="#7a7a7a" stroke-width="0.9"/>
<line x1="106.30" y1="428.90" x2="106.30" y2="470.00" stroke="#4a4a4a" stroke-width="0.85"/>
<line x1="82.70" y1="456.40" x2="124.00" y2="456.40" stroke="#4a4a4a" stroke-width="0.85"/>
<circle cx="106.3" cy="456.4" r="0.9" fill="#000"/>
<circle cx="83.3" cy="429.5" r="0.7" fill="#000"/>
<text x="84.30" y="432.50" font-size="2.8" fill="#444" stroke="#444" stroke-width="0.2">Q1</text>
<text x="115.50" y="445.40" font-size="2.6" fill="#555" stroke="#555" stroke-width="0.2">Q2</text>
<text x="117.50" y="465.00" font-size="2.6" fill="#555" stroke="#555" stroke-width="0.2">Q4</text>
<text x="69.50" y="431.80" font-size="5.3" fill="#444" stroke="#444" stroke-width="0.14">10<tspan font-size="3.50" dy="-2.12">4</tspan></text>
<text x="69.50" y="442.10" font-size="5.3" fill="#444" stroke="#444" stroke-width="0.14">10<tspan font-size="3.50" dy="-2.12">3</tspan></text>
<line x1="81.10" y1="439.90" x2="82.70" y2="439.90" stroke="#444" stroke-width="0.9"/>
<text x="69.50" y="452.10" font-size="5.3" fill="#444" stroke="#444" stroke-width="0.14">10<tspan font-size="3.50" dy="-2.12">2</tspan></text>
<line x1="81.10" y1="449.90" x2="82.70" y2="449.90" stroke="#444" stroke-width="0.9"/>
<text x="69.50" y="462.10" font-size="5.3" fill="#444" stroke="#444" stroke-width="0.14">10<tspan font-size="3.50" dy="-2.12">1</tspan></text>
<line x1="81.10" y1="459.90" x2="82.70" y2="459.90" stroke="#444" stroke-width="0.9"/>
<text x="69.50" y="471.80" font-size="5.3" fill="#444" stroke="#444" stroke-width="0.14">10<tspan font-size="3.50" dy="-2.12">0</tspan></text>
<text x="83.30" y="478.90" font-size="5.6" fill="#333" stroke="#333" stroke-width="0.14" text-anchor="middle">10<tspan font-size="3.70" dy="-2.24">0</tspan></text>
<text x="93.65" y="478.90" font-size="5.6" fill="#333" stroke="#333" stroke-width="0.14" text-anchor="middle">10<tspan font-size="3.70" dy="-2.24">1</tspan></text>
<text x="104.00" y="478.90" font-size="5.6" fill="#333" stroke="#333" stroke-width="0.14" text-anchor="middle">10<tspan font-size="3.70" dy="-2.24">2</tspan></text>
<text x="114.35" y="478.90" font-size="5.6" fill="#333" stroke="#333" stroke-width="0.14" text-anchor="middle">10<tspan font-size="3.70" dy="-2.24">3</tspan></text>
<text x="124.70" y="478.90" font-size="5.6" fill="#333" stroke="#333" stroke-width="0.14" text-anchor="middle">10<tspan font-size="3.70" dy="-2.24">4</tspan></text>
<text x="103.50" y="488.90" font-size="7" fill="#2a2a2a" text-anchor="middle" textLength="29.6" lengthAdjust="spacingAndGlyphs" stroke="#2a2a2a" stroke-width="0.18">APC Log comp</text>
<text x="63.80" y="450.80" font-size="7" fill="#2a2a2a" text-anchor="middle" textLength="29.8" lengthAdjust="spacingAndGlyphs" transform="rotate(-90 63.80 450.80)" stroke="#2a2a2a" stroke-width="0.15">FITC Log comp</text>
<text x="84.00" y="442.50" font-size="7" fill="#2a2a2a" stroke="#2a2a2a" stroke-width="0.2" textLength="9.0" lengthAdjust="spacingAndGlyphs">0%</text>
<text x="108.20" y="442.50" font-size="7" fill="#2a2a2a" stroke="#2a2a2a" stroke-width="0.2" textLength="9.0" lengthAdjust="spacingAndGlyphs">0%</text>
<text x="84.00" y="462.60" font-size="7" fill="#2a2a2a" stroke="#2a2a2a" stroke-width="0.2" textLength="13.1" lengthAdjust="spacingAndGlyphs">94%</text>
<text x="106.30" y="462.60" font-size="7" fill="#2a2a2a" stroke="#2a2a2a" stroke-width="0.2" textLength="9.0" lengthAdjust="spacingAndGlyphs">5%</text>
<path d="M183.8 464.3h0.9v0.9h-0.9zM184.1 466.1h0.9v0.9h-0.9zM171.0 466.9h0.9v0.9h-0.9zM188.0 463.1h0.9v0.9h-0.9zM183.1 467.1h0.9v0.9h-0.9zM175.5 469.0h0.9v0.9h-0.9zM175.3 468.1h0.9v0.9h-0.9zM172.7 464.8h0.9v0.9h-0.9zM190.3 465.9h0.9v0.9h-0.9zM171.8 467.0h0.9v0.9h-0.9zM194.5 466.7h0.9v0.9h-0.9zM191.5 468.3h0.9v0.9h-0.9zM179.9 466.4h0.9v0.9h-0.9zM169.2 465.6h0.9v0.9h-0.9zM175.5 468.7h0.9v0.9h-0.9zM178.1 467.5h0.9v0.9h-0.9zM174.5 465.2h0.9v0.9h-0.9zM189.0 463.7h0.9v0.9h-0.9zM183.0 465.1h0.9v0.9h-0.9zM174.1 466.5h0.9v0.9h-0.9zM191.0 467.7h0.9v0.9h-0.9zM187.7 465.7h0.9v0.9h-0.9zM184.3 466.7h0.9v0.9h-0.9zM188.9 468.5h0.9v0.9h-0.9zM171.0 464.5h0.9v0.9h-0.9zM197.2 464.9h0.9v0.9h-0.9zM193.2 467.5h0.9v0.9h-0.9zM181.3 467.2h0.9v0.9h-0.9zM191.5 466.6h0.9v0.9h-0.9zM195.8 467.4h0.9v0.9h-0.9zM184.8 468.3h0.9v0.9h-0.9zM181.2 465.7h0.9v0.9h-0.9zM182.0 467.1h0.9v0.9h-0.9zM179.0 468.3h0.9v0.9h-0.9zM186.0 467.4h0.9v0.9h-0.9zM179.2 467.3h0.9v0.9h-0.9zM189.6 466.4h0.9v0.9h-0.9zM180.2 467.4h0.9v0.9h-0.9zM185.0 465.8h0.9v0.9h-0.9zM191.1 467.7h0.9v0.9h-0.9zM169.8 467.4h0.9v0.9h-0.9zM182.8 465.5h0.9v0.9h-0.9zM185.7 466.0h0.9v0.9h-0.9zM174.5 467.1h0.9v0.9h-0.9zM175.7 466.3h0.9v0.9h-0.9zM175.3 466.5h0.9v0.9h-0.9zM187.4 467.0h0.9v0.9h-0.9zM185.2 465.0h0.9v0.9h-0.9zM168.1 466.7h0.9v0.9h-0.9zM182.4 468.1h0.9v0.9h-0.9zM168.8 468.5h0.9v0.9h-0.9zM181.4 464.9h0.9v0.9h-0.9zM176.7 466.0h0.9v0.9h-0.9zM196.0 466.1h0.9v0.9h-0.9zM185.7 465.3h0.9v0.9h-0.9zM168.9 465.6h0.9v0.9h-0.9zM166.2 466.3h0.9v0.9h-0.9zM177.7 468.9h0.9v0.9h-0.9zM188.8 468.3h0.9v0.9h-0.9zM184.5 466.6h0.9v0.9h-0.9zM187.3 469.0h0.9v0.9h-0.9zM174.3 464.6h0.9v0.9h-0.9zM176.5 464.3h0.9v0.9h-0.9zM178.0 466.3h0.9v0.9h-0.9zM174.9 466.5h0.9v0.9h-0.9zM194.4 467.0h0.9v0.9h-0.9zM193.6 466.6h0.9v0.9h-0.9zM183.5 464.4h0.9v0.9h-0.9zM194.7 467.4h0.9v0.9h-0.9zM197.0 466.7h0.9v0.9h-0.9zM171.4 463.2h0.9v0.9h-0.9zM190.2 465.0h0.9v0.9h-0.9zM170.7 467.3h0.9v0.9h-0.9zM176.9 468.5h0.9v0.9h-0.9zM176.0 465.9h0.9v0.9h-0.9zM180.0 466.5h0.9v0.9h-0.9zM185.8 466.3h0.9v0.9h-0.9zM196.3 464.4h0.9v0.9h-0.9zM186.4 464.0h0.9v0.9h-0.9zM187.6 469.0h0.9v0.9h-0.9zM197.8 468.0h0.9v0.9h-0.9zM184.2 465.7h0.9v0.9h-0.9zM178.6 467.2h0.9v0.9h-0.9zM175.0 464.5h0.9v0.9h-0.9zM195.3 467.8h0.9v0.9h-0.9zM187.1 466.1h0.9v0.9h-0.9zM189.2 466.1h0.9v0.9h-0.9zM186.7 467.0h0.9v0.9h-0.9zM182.9 465.7h0.9v0.9h-0.9zM189.3 465.4h0.9v0.9h-0.9zM198.4 468.5h0.9v0.9h-0.9zM180.1 467.7h0.9v0.9h-0.9zM191.0 466.9h0.9v0.9h-0.9zM171.4 467.4h0.9v0.9h-0.9zM179.1 466.5h0.9v0.9h-0.9zM168.5 468.2h0.9v0.9h-0.9zM193.1 465.4h0.9v0.9h-0.9zM182.2 465.6h0.9v0.9h-0.9zM185.4 469.0h0.9v0.9h-0.9zM180.3 468.5h0.9v0.9h-0.9zM174.4 468.2h0.9v0.9h-0.9zM198.6 468.6h0.9v0.9h-0.9zM183.1 468.2h0.9v0.9h-0.9zM191.5 467.3h0.9v0.9h-0.9zM191.6 466.4h0.9v0.9h-0.9z" fill="#e6706a" fill-opacity="0.3"/>
<ellipse cx="183.7" cy="467.4" rx="15.399999999999999" ry="3.0" fill="url(#rg)" fill-opacity="0.25"/>
<ellipse cx="170.5" cy="467.4" rx="13.75" ry="3.0" fill="url(#rg)" fill-opacity="1"/>
<path d="M166.0 468.7h0.9v0.9h-0.9zM171.7 468.9h0.9v0.9h-0.9zM181.1 467.0h0.9v0.9h-0.9zM179.8 467.8h0.9v0.9h-0.9zM172.9 465.8h0.9v0.9h-0.9zM168.2 467.2h0.9v0.9h-0.9zM167.3 466.3h0.9v0.9h-0.9zM161.1 467.5h0.9v0.9h-0.9zM172.7 468.2h0.9v0.9h-0.9zM162.6 466.0h0.9v0.9h-0.9zM182.0 467.3h0.9v0.9h-0.9zM170.0 468.3h0.9v0.9h-0.9zM164.5 467.2h0.9v0.9h-0.9zM175.1 467.8h0.9v0.9h-0.9zM175.3 467.0h0.9v0.9h-0.9zM178.9 466.1h0.9v0.9h-0.9zM171.3 467.4h0.9v0.9h-0.9zM159.0 466.2h0.9v0.9h-0.9zM168.6 468.2h0.9v0.9h-0.9zM177.1 468.9h0.9v0.9h-0.9zM163.7 466.9h0.9v0.9h-0.9zM160.9 466.3h0.9v0.9h-0.9zM163.6 467.3h0.9v0.9h-0.9zM165.8 467.7h0.9v0.9h-0.9zM178.3 467.2h0.9v0.9h-0.9zM168.1 467.4h0.9v0.9h-0.9zM169.4 467.2h0.9v0.9h-0.9zM166.8 467.5h0.9v0.9h-0.9zM167.5 467.8h0.9v0.9h-0.9zM171.4 468.4h0.9v0.9h-0.9zM173.6 467.9h0.9v0.9h-0.9zM170.0 467.0h0.9v0.9h-0.9zM173.7 466.6h0.9v0.9h-0.9zM172.7 468.9h0.9v0.9h-0.9zM166.7 468.0h0.9v0.9h-0.9zM173.9 467.4h0.9v0.9h-0.9zM176.4 467.0h0.9v0.9h-0.9zM163.8 467.9h0.9v0.9h-0.9zM173.2 467.7h0.9v0.9h-0.9zM175.5 466.4h0.9v0.9h-0.9zM165.9 469.0h0.9v0.9h-0.9zM169.0 468.3h0.9v0.9h-0.9zM172.8 465.7h0.9v0.9h-0.9zM171.6 468.1h0.9v0.9h-0.9zM163.5 467.3h0.9v0.9h-0.9zM164.5 467.1h0.9v0.9h-0.9zM171.3 466.7h0.9v0.9h-0.9zM162.9 467.9h0.9v0.9h-0.9zM173.8 467.0h0.9v0.9h-0.9zM166.7 468.2h0.9v0.9h-0.9zM169.8 468.5h0.9v0.9h-0.9zM174.2 467.2h0.9v0.9h-0.9zM176.1 465.8h0.9v0.9h-0.9zM165.4 467.5h0.9v0.9h-0.9zM175.6 468.2h0.9v0.9h-0.9zM173.5 466.7h0.9v0.9h-0.9zM170.2 469.1h0.9v0.9h-0.9zM174.4 468.4h0.9v0.9h-0.9zM171.2 466.3h0.9v0.9h-0.9zM168.5 468.6h0.9v0.9h-0.9zM166.3 468.5h0.9v0.9h-0.9zM173.3 465.8h0.9v0.9h-0.9zM170.9 466.9h0.9v0.9h-0.9zM169.5 468.7h0.9v0.9h-0.9zM162.9 466.0h0.9v0.9h-0.9zM168.7 467.5h0.9v0.9h-0.9zM172.1 467.5h0.9v0.9h-0.9zM165.8 467.2h0.9v0.9h-0.9zM182.2 467.9h0.9v0.9h-0.9zM175.2 467.7h0.9v0.9h-0.9zM171.8 466.1h0.9v0.9h-0.9zM160.8 467.9h0.9v0.9h-0.9zM163.5 468.0h0.9v0.9h-0.9zM172.3 467.3h0.9v0.9h-0.9zM163.8 466.9h0.9v0.9h-0.9zM177.8 467.2h0.9v0.9h-0.9zM170.3 467.9h0.9v0.9h-0.9zM167.4 467.2h0.9v0.9h-0.9zM162.3 469.2h0.9v0.9h-0.9zM172.0 468.0h0.9v0.9h-0.9zM167.3 466.5h0.9v0.9h-0.9zM174.6 467.0h0.9v0.9h-0.9zM170.8 466.5h0.9v0.9h-0.9zM182.8 467.3h0.9v0.9h-0.9zM172.3 468.2h0.9v0.9h-0.9zM164.4 467.6h0.9v0.9h-0.9zM163.4 466.7h0.9v0.9h-0.9zM175.2 468.5h0.9v0.9h-0.9zM173.0 466.6h0.9v0.9h-0.9zM170.0 468.1h0.9v0.9h-0.9zM168.3 467.1h0.9v0.9h-0.9zM171.6 468.1h0.9v0.9h-0.9zM167.1 466.0h0.9v0.9h-0.9zM167.5 467.3h0.9v0.9h-0.9zM169.3 467.7h0.9v0.9h-0.9zM176.6 467.4h0.9v0.9h-0.9zM172.7 466.8h0.9v0.9h-0.9zM170.0 467.9h0.9v0.9h-0.9zM164.1 468.3h0.9v0.9h-0.9zM165.9 467.1h0.9v0.9h-0.9zM173.5 467.9h0.9v0.9h-0.9zM170.9 466.8h0.9v0.9h-0.9zM181.0 467.3h0.9v0.9h-0.9zM170.7 467.5h0.9v0.9h-0.9zM171.2 467.2h0.9v0.9h-0.9zM167.3 466.5h0.9v0.9h-0.9zM164.3 468.0h0.9v0.9h-0.9zM179.6 467.6h0.9v0.9h-0.9zM171.3 467.2h0.9v0.9h-0.9zM168.4 469.1h0.9v0.9h-0.9zM171.5 467.9h0.9v0.9h-0.9zM176.1 464.8h0.9v0.9h-0.9zM174.1 467.4h0.9v0.9h-0.9zM171.0 467.5h0.9v0.9h-0.9zM174.1 467.9h0.9v0.9h-0.9zM179.4 467.0h0.9v0.9h-0.9zM172.8 468.2h0.9v0.9h-0.9zM167.4 467.2h0.9v0.9h-0.9zM173.8 467.6h0.9v0.9h-0.9zM170.0 467.6h0.9v0.9h-0.9zM185.1 467.0h0.9v0.9h-0.9zM164.7 467.6h0.9v0.9h-0.9zM160.7 466.8h0.9v0.9h-0.9zM160.0 468.5h0.9v0.9h-0.9zM174.8 467.2h0.9v0.9h-0.9zM162.3 467.4h0.9v0.9h-0.9zM175.1 467.9h0.9v0.9h-0.9zM168.4 466.9h0.9v0.9h-0.9zM175.9 467.2h0.9v0.9h-0.9zM161.8 466.8h0.9v0.9h-0.9zM167.2 468.7h0.9v0.9h-0.9zM169.5 465.9h0.9v0.9h-0.9zM168.4 468.1h0.9v0.9h-0.9zM165.3 466.9h0.9v0.9h-0.9zM163.5 467.6h0.9v0.9h-0.9zM170.7 466.9h0.9v0.9h-0.9zM171.2 467.9h0.9v0.9h-0.9zM166.8 467.3h0.9v0.9h-0.9zM173.9 467.1h0.9v0.9h-0.9zM161.6 467.9h0.9v0.9h-0.9zM170.0 467.8h0.9v0.9h-0.9zM171.5 468.8h0.9v0.9h-0.9zM162.8 469.2h0.9v0.9h-0.9zM173.1 468.0h0.9v0.9h-0.9zM165.5 467.4h0.9v0.9h-0.9zM169.8 467.8h0.9v0.9h-0.9zM161.4 467.3h0.9v0.9h-0.9zM159.7 469.3h0.9v0.9h-0.9zM166.7 466.8h0.9v0.9h-0.9zM167.5 467.9h0.9v0.9h-0.9zM175.6 468.0h0.9v0.9h-0.9zM160.9 467.1h0.9v0.9h-0.9zM171.7 467.5h0.9v0.9h-0.9zM174.8 466.9h0.9v0.9h-0.9zM168.7 465.6h0.9v0.9h-0.9zM169.8 468.0h0.9v0.9h-0.9zM171.4 466.7h0.9v0.9h-0.9zM170.3 467.4h0.9v0.9h-0.9zM165.4 466.9h0.9v0.9h-0.9zM171.4 468.0h0.9v0.9h-0.9zM181.0 466.5h0.9v0.9h-0.9zM168.7 468.1h0.9v0.9h-0.9zM167.8 468.1h0.9v0.9h-0.9zM160.1 468.9h0.9v0.9h-0.9zM175.7 467.5h0.9v0.9h-0.9zM163.3 467.0h0.9v0.9h-0.9zM166.1 468.6h0.9v0.9h-0.9zM167.7 467.6h0.9v0.9h-0.9zM173.7 467.1h0.9v0.9h-0.9zM166.9 465.4h0.9v0.9h-0.9zM175.0 468.7h0.9v0.9h-0.9zM171.4 466.6h0.9v0.9h-0.9zM173.1 467.2h0.9v0.9h-0.9zM159.4 467.1h0.9v0.9h-0.9zM164.0 468.2h0.9v0.9h-0.9zM161.9 467.5h0.9v0.9h-0.9zM169.7 466.0h0.9v0.9h-0.9zM170.7 466.8h0.9v0.9h-0.9zM164.9 466.1h0.9v0.9h-0.9zM170.4 466.8h0.9v0.9h-0.9zM169.6 467.4h0.9v0.9h-0.9zM178.3 467.2h0.9v0.9h-0.9zM170.7 468.6h0.9v0.9h-0.9zM167.8 468.5h0.9v0.9h-0.9zM173.0 465.7h0.9v0.9h-0.9zM178.5 467.3h0.9v0.9h-0.9zM164.1 467.1h0.9v0.9h-0.9zM171.3 467.6h0.9v0.9h-0.9zM181.9 465.8h0.9v0.9h-0.9zM172.2 466.9h0.9v0.9h-0.9zM167.9 467.0h0.9v0.9h-0.9zM166.2 468.8h0.9v0.9h-0.9zM171.3 467.3h0.9v0.9h-0.9zM172.1 466.0h0.9v0.9h-0.9zM169.5 466.9h0.9v0.9h-0.9zM165.1 468.6h0.9v0.9h-0.9zM171.5 467.9h0.9v0.9h-0.9zM167.2 467.5h0.9v0.9h-0.9zM170.2 467.9h0.9v0.9h-0.9zM171.1 467.8h0.9v0.9h-0.9zM166.2 467.8h0.9v0.9h-0.9zM172.7 467.8h0.9v0.9h-0.9zM168.8 467.6h0.9v0.9h-0.9zM170.0 467.7h0.9v0.9h-0.9zM170.3 466.9h0.9v0.9h-0.9zM167.6 467.5h0.9v0.9h-0.9zM164.4 465.2h0.9v0.9h-0.9zM169.8 467.0h0.9v0.9h-0.9zM171.6 467.9h0.9v0.9h-0.9zM172.2 467.2h0.9v0.9h-0.9zM171.3 465.9h0.9v0.9h-0.9zM173.4 466.6h0.9v0.9h-0.9zM166.0 467.8h0.9v0.9h-0.9zM166.9 466.6h0.9v0.9h-0.9zM168.9 466.5h0.9v0.9h-0.9zM174.6 466.4h0.9v0.9h-0.9zM169.8 468.3h0.9v0.9h-0.9zM171.9 469.4h0.9v0.9h-0.9zM175.8 467.7h0.9v0.9h-0.9zM163.7 467.9h0.9v0.9h-0.9zM177.0 468.2h0.9v0.9h-0.9zM173.5 467.9h0.9v0.9h-0.9zM169.7 467.7h0.9v0.9h-0.9zM172.5 467.4h0.9v0.9h-0.9zM177.4 466.6h0.9v0.9h-0.9zM177.2 466.9h0.9v0.9h-0.9zM164.8 467.1h0.9v0.9h-0.9zM165.8 467.2h0.9v0.9h-0.9zM173.7 468.5h0.9v0.9h-0.9zM174.6 465.0h0.9v0.9h-0.9zM176.8 466.7h0.9v0.9h-0.9zM172.5 468.5h0.9v0.9h-0.9zM176.2 468.9h0.9v0.9h-0.9zM170.7 466.5h0.9v0.9h-0.9zM165.4 469.1h0.9v0.9h-0.9zM168.5 467.5h0.9v0.9h-0.9zM167.7 466.6h0.9v0.9h-0.9zM178.5 468.6h0.9v0.9h-0.9zM171.4 468.0h0.9v0.9h-0.9zM166.4 467.3h0.9v0.9h-0.9zM167.5 468.3h0.9v0.9h-0.9zM177.2 466.9h0.9v0.9h-0.9zM161.1 468.1h0.9v0.9h-0.9zM181.5 466.5h0.9v0.9h-0.9zM180.3 467.7h0.9v0.9h-0.9zM171.9 466.0h0.9v0.9h-0.9zM169.4 466.1h0.9v0.9h-0.9zM171.6 466.8h0.9v0.9h-0.9zM167.0 467.3h0.9v0.9h-0.9zM171.2 468.7h0.9v0.9h-0.9zM171.0 467.5h0.9v0.9h-0.9zM164.9 466.6h0.9v0.9h-0.9zM171.6 467.3h0.9v0.9h-0.9zM169.5 467.8h0.9v0.9h-0.9zM179.0 466.6h0.9v0.9h-0.9zM174.1 468.2h0.9v0.9h-0.9zM167.6 466.2h0.9v0.9h-0.9zM163.7 467.5h0.9v0.9h-0.9zM171.0 467.7h0.9v0.9h-0.9zM174.1 468.3h0.9v0.9h-0.9zM177.6 468.9h0.9v0.9h-0.9zM170.3 467.5h0.9v0.9h-0.9zM165.6 466.3h0.9v0.9h-0.9zM170.3 466.4h0.9v0.9h-0.9zM177.6 466.7h0.9v0.9h-0.9zM179.5 466.8h0.9v0.9h-0.9zM169.6 468.3h0.9v0.9h-0.9zM172.6 468.6h0.9v0.9h-0.9zM165.8 468.0h0.9v0.9h-0.9zM168.2 467.8h0.9v0.9h-0.9zM163.0 466.6h0.9v0.9h-0.9zM168.8 467.8h0.9v0.9h-0.9zM164.7 466.6h0.9v0.9h-0.9zM160.6 466.9h0.9v0.9h-0.9zM179.2 466.8h0.9v0.9h-0.9zM159.9 466.2h0.9v0.9h-0.9zM164.4 467.0h0.9v0.9h-0.9zM171.8 468.2h0.9v0.9h-0.9zM167.7 467.9h0.9v0.9h-0.9zM170.0 468.0h0.9v0.9h-0.9zM176.1 468.1h0.9v0.9h-0.9zM161.4 468.0h0.9v0.9h-0.9zM168.5 465.4h0.9v0.9h-0.9zM172.7 467.2h0.9v0.9h-0.9zM163.6 465.7h0.9v0.9h-0.9zM173.1 467.6h0.9v0.9h-0.9zM173.9 467.5h0.9v0.9h-0.9zM181.2 466.8h0.9v0.9h-0.9zM170.8 467.5h0.9v0.9h-0.9zM179.1 468.5h0.9v0.9h-0.9zM167.3 468.4h0.9v0.9h-0.9zM166.8 468.1h0.9v0.9h-0.9zM161.9 465.8h0.9v0.9h-0.9zM175.8 467.8h0.9v0.9h-0.9zM168.3 465.9h0.9v0.9h-0.9zM167.4 466.9h0.9v0.9h-0.9zM174.4 467.5h0.9v0.9h-0.9zM159.7 466.7h0.9v0.9h-0.9zM164.2 466.8h0.9v0.9h-0.9zM163.7 468.4h0.9v0.9h-0.9z" fill="#cc1c10" fill-opacity="0.55"/>
<path d="M175.4 467.3h0.9v0.9h-0.9zM167.1 466.7h0.9v0.9h-0.9zM170.3 468.9h0.9v0.9h-0.9zM174.6 467.7h0.9v0.9h-0.9zM175.6 467.0h0.9v0.9h-0.9zM168.2 467.7h0.9v0.9h-0.9zM165.4 468.2h0.9v0.9h-0.9zM167.9 466.5h0.9v0.9h-0.9zM174.5 467.2h0.9v0.9h-0.9zM169.2 468.4h0.9v0.9h-0.9zM176.7 466.9h0.9v0.9h-0.9zM175.7 466.4h0.9v0.9h-0.9zM176.7 467.5h0.9v0.9h-0.9zM170.7 468.5h0.9v0.9h-0.9zM172.3 466.2h0.9v0.9h-0.9zM172.0 468.0h0.9v0.9h-0.9zM175.0 468.5h0.9v0.9h-0.9zM168.9 466.5h0.9v0.9h-0.9z" fill="#8c1010" fill-opacity="0.5"/>
<rect x="158.10" y="428.90" width="41.20" height="41.10" fill="none" stroke="#7a7a7a" stroke-width="0.9"/>
<line x1="181.20" y1="428.90" x2="181.20" y2="470.00" stroke="#4a4a4a" stroke-width="0.85"/>
<line x1="158.10" y1="456.40" x2="199.30" y2="456.40" stroke="#4a4a4a" stroke-width="0.85"/>
<circle cx="181.2" cy="456.4" r="0.9" fill="#000"/>
<circle cx="158.7" cy="429.5" r="0.7" fill="#000"/>
<text x="159.70" y="432.50" font-size="2.8" fill="#444" stroke="#444" stroke-width="0.2">Q1</text>
<text x="190.80" y="445.40" font-size="2.6" fill="#555" stroke="#555" stroke-width="0.2">Q2</text>
<text x="192.80" y="465.00" font-size="2.6" fill="#555" stroke="#555" stroke-width="0.2">Q4</text>
<text x="144.90" y="431.80" font-size="5.3" fill="#444" stroke="#444" stroke-width="0.14">10<tspan font-size="3.50" dy="-2.12">4</tspan></text>
<text x="144.90" y="442.10" font-size="5.3" fill="#444" stroke="#444" stroke-width="0.14">10<tspan font-size="3.50" dy="-2.12">3</tspan></text>
<line x1="156.50" y1="439.90" x2="158.10" y2="439.90" stroke="#444" stroke-width="0.9"/>
<text x="144.90" y="452.10" font-size="5.3" fill="#444" stroke="#444" stroke-width="0.14">10<tspan font-size="3.50" dy="-2.12">2</tspan></text>
<line x1="156.50" y1="449.90" x2="158.10" y2="449.90" stroke="#444" stroke-width="0.9"/>
<text x="144.90" y="462.10" font-size="5.3" fill="#444" stroke="#444" stroke-width="0.14">10<tspan font-size="3.50" dy="-2.12">1</tspan></text>
<line x1="156.50" y1="459.90" x2="158.10" y2="459.90" stroke="#444" stroke-width="0.9"/>
<text x="144.90" y="471.80" font-size="5.3" fill="#444" stroke="#444" stroke-width="0.14">10<tspan font-size="3.50" dy="-2.12">0</tspan></text>
<text x="158.70" y="478.90" font-size="5.6" fill="#333" stroke="#333" stroke-width="0.14" text-anchor="middle">10<tspan font-size="3.70" dy="-2.24">0</tspan></text>
<text x="169.05" y="478.90" font-size="5.6" fill="#333" stroke="#333" stroke-width="0.14" text-anchor="middle">10<tspan font-size="3.70" dy="-2.24">1</tspan></text>
<text x="179.40" y="478.90" font-size="5.6" fill="#333" stroke="#333" stroke-width="0.14" text-anchor="middle">10<tspan font-size="3.70" dy="-2.24">2</tspan></text>
<text x="189.75" y="478.90" font-size="5.6" fill="#333" stroke="#333" stroke-width="0.14" text-anchor="middle">10<tspan font-size="3.70" dy="-2.24">3</tspan></text>
<text x="200.10" y="478.90" font-size="5.6" fill="#333" stroke="#333" stroke-width="0.14" text-anchor="middle">10<tspan font-size="3.70" dy="-2.24">4</tspan></text>
<text x="178.90" y="488.90" font-size="7" fill="#2a2a2a" text-anchor="middle" textLength="29.6" lengthAdjust="spacingAndGlyphs" stroke="#2a2a2a" stroke-width="0.18">APC Log comp</text>
<text x="139.20" y="450.80" font-size="7" fill="#2a2a2a" text-anchor="middle" textLength="29.8" lengthAdjust="spacingAndGlyphs" transform="rotate(-90 139.20 450.80)" stroke="#2a2a2a" stroke-width="0.15">FITC Log comp</text>
<text x="158.90" y="442.50" font-size="7" fill="#2a2a2a" stroke="#2a2a2a" stroke-width="0.2" textLength="9.0" lengthAdjust="spacingAndGlyphs">0%</text>
<text x="183.00" y="442.50" font-size="7" fill="#2a2a2a" stroke="#2a2a2a" stroke-width="0.2" textLength="9.0" lengthAdjust="spacingAndGlyphs">0%</text>
<text x="158.90" y="462.60" font-size="7" fill="#2a2a2a" stroke="#2a2a2a" stroke-width="0.2" textLength="13.1" lengthAdjust="spacingAndGlyphs">97%</text>
<text x="181.20" y="462.60" font-size="7" fill="#2a2a2a" stroke="#2a2a2a" stroke-width="0.2" textLength="9.0" lengthAdjust="spacingAndGlyphs">3%</text>
<path d="M239.8 446.4h0.9v0.9h-0.9zM255.6 441.1h0.9v0.9h-0.9zM235.0 445.3h0.9v0.9h-0.9zM245.4 450.6h0.9v0.9h-0.9zM253.7 448.9h0.9v0.9h-0.9zM246.1 439.2h0.9v0.9h-0.9zM246.5 453.0h0.9v0.9h-0.9zM241.5 458.2h0.9v0.9h-0.9zM244.1 451.2h0.9v0.9h-0.9zM243.2 441.1h0.9v0.9h-0.9zM245.5 447.0h0.9v0.9h-0.9zM239.0 434.8h0.9v0.9h-0.9zM246.9 450.6h0.9v0.9h-0.9zM245.3 443.0h0.9v0.9h-0.9zM242.5 430.1h0.9v0.9h-0.9zM240.5 439.2h0.9v0.9h-0.9zM234.9 441.0h0.9v0.9h-0.9zM254.2 443.1h0.9v0.9h-0.9zM240.4 445.3h0.9v0.9h-0.9zM236.7 445.7h0.9v0.9h-0.9zM240.5 436.7h0.9v0.9h-0.9zM244.2 450.3h0.9v0.9h-0.9zM244.0 434.6h0.9v0.9h-0.9zM244.6 439.8h0.9v0.9h-0.9zM240.7 446.3h0.9v0.9h-0.9zM247.0 451.6h0.9v0.9h-0.9zM241.3 464.6h0.9v0.9h-0.9zM250.6 450.9h0.9v0.9h-0.9zM256.2 454.2h0.9v0.9h-0.9zM255.0 454.5h0.9v0.9h-0.9zM241.4 451.9h0.9v0.9h-0.9zM252.0 451.5h0.9v0.9h-0.9zM253.3 450.2h0.9v0.9h-0.9zM238.5 443.7h0.9v0.9h-0.9zM237.5 434.8h0.9v0.9h-0.9zM258.2 452.0h0.9v0.9h-0.9zM252.9 434.9h0.9v0.9h-0.9zM249.7 441.6h0.9v0.9h-0.9zM249.1 451.2h0.9v0.9h-0.9zM253.2 439.0h0.9v0.9h-0.9zM253.0 453.4h0.9v0.9h-0.9zM246.8 436.7h0.9v0.9h-0.9zM235.6 432.0h0.9v0.9h-0.9zM246.3 441.3h0.9v0.9h-0.9zM247.5 454.8h0.9v0.9h-0.9zM240.6 450.5h0.9v0.9h-0.9zM251.6 445.0h0.9v0.9h-0.9zM251.2 444.9h0.9v0.9h-0.9zM245.5 452.5h0.9v0.9h-0.9zM242.7 443.9h0.9v0.9h-0.9zM248.1 453.6h0.9v0.9h-0.9zM236.9 454.3h0.9v0.9h-0.9zM245.7 447.1h0.9v0.9h-0.9zM253.9 438.0h0.9v0.9h-0.9zM238.1 436.5h0.9v0.9h-0.9zM245.4 449.2h0.9v0.9h-0.9zM234.0 449.1h0.9v0.9h-0.9zM236.0 447.2h0.9v0.9h-0.9zM259.0 454.3h0.9v0.9h-0.9zM244.5 452.9h0.9v0.9h-0.9zM238.8 451.5h0.9v0.9h-0.9zM248.3 437.2h0.9v0.9h-0.9zM247.6 448.8h0.9v0.9h-0.9zM243.7 445.5h0.9v0.9h-0.9zM257.7 451.6h0.9v0.9h-0.9zM250.6 432.0h0.9v0.9h-0.9zM241.9 452.0h0.9v0.9h-0.9zM246.1 444.0h0.9v0.9h-0.9zM237.9 448.1h0.9v0.9h-0.9zM243.6 432.8h0.9v0.9h-0.9zM262.2 444.2h0.9v0.9h-0.9zM240.1 441.9h0.9v0.9h-0.9zM238.5 444.7h0.9v0.9h-0.9zM254.6 437.2h0.9v0.9h-0.9zM252.1 451.9h0.9v0.9h-0.9zM236.6 434.2h0.9v0.9h-0.9zM249.6 453.4h0.9v0.9h-0.9zM249.7 450.3h0.9v0.9h-0.9zM239.8 450.7h0.9v0.9h-0.9zM236.9 450.2h0.9v0.9h-0.9zM250.6 451.3h0.9v0.9h-0.9zM253.7 450.6h0.9v0.9h-0.9zM251.9 447.1h0.9v0.9h-0.9zM256.2 445.3h0.9v0.9h-0.9zM254.8 440.3h0.9v0.9h-0.9zM236.5 447.4h0.9v0.9h-0.9zM244.1 441.8h0.9v0.9h-0.9zM239.1 452.2h0.9v0.9h-0.9zM247.6 452.8h0.9v0.9h-0.9zM241.7 448.5h0.9v0.9h-0.9zM237.6 440.5h0.9v0.9h-0.9zM250.1 452.0h0.9v0.9h-0.9zM245.4 455.3h0.9v0.9h-0.9zM239.3 456.6h0.9v0.9h-0.9zM243.6 444.7h0.9v0.9h-0.9zM237.9 456.6h0.9v0.9h-0.9zM237.8 456.7h0.9v0.9h-0.9zM254.3 431.1h0.9v0.9h-0.9zM244.1 436.6h0.9v0.9h-0.9zM241.1 445.4h0.9v0.9h-0.9zM242.5 451.0h0.9v0.9h-0.9zM247.6 431.6h0.9v0.9h-0.9zM235.9 435.1h0.9v0.9h-0.9zM234.9 449.8h0.9v0.9h-0.9zM243.3 446.1h0.9v0.9h-0.9zM239.9 449.0h0.9v0.9h-0.9zM248.0 452.1h0.9v0.9h-0.9zM242.8 448.6h0.9v0.9h-0.9zM237.3 463.3h0.9v0.9h-0.9zM245.4 436.8h0.9v0.9h-0.9zM244.8 454.3h0.9v0.9h-0.9zM239.2 454.6h0.9v0.9h-0.9zM242.1 456.0h0.9v0.9h-0.9zM244.6 438.5h0.9v0.9h-0.9zM245.6 455.2h0.9v0.9h-0.9zM247.0 436.8h0.9v0.9h-0.9zM240.8 443.1h0.9v0.9h-0.9zM241.4 447.7h0.9v0.9h-0.9zM238.1 432.8h0.9v0.9h-0.9zM242.5 443.0h0.9v0.9h-0.9zM242.9 445.8h0.9v0.9h-0.9zM239.2 432.8h0.9v0.9h-0.9zM247.4 457.1h0.9v0.9h-0.9zM247.7 446.4h0.9v0.9h-0.9zM248.4 442.5h0.9v0.9h-0.9zM234.3 430.0h0.9v0.9h-0.9zM244.8 436.2h0.9v0.9h-0.9zM237.6 448.5h0.9v0.9h-0.9zM250.9 456.6h0.9v0.9h-0.9zM238.9 445.8h0.9v0.9h-0.9zM243.8 449.0h0.9v0.9h-0.9zM242.4 435.7h0.9v0.9h-0.9zM239.7 450.6h0.9v0.9h-0.9zM245.0 451.4h0.9v0.9h-0.9zM244.1 454.6h0.9v0.9h-0.9zM237.1 449.4h0.9v0.9h-0.9zM247.3 438.6h0.9v0.9h-0.9zM237.4 439.0h0.9v0.9h-0.9zM252.9 441.5h0.9v0.9h-0.9zM250.0 441.8h0.9v0.9h-0.9zM245.7 450.1h0.9v0.9h-0.9zM245.4 441.4h0.9v0.9h-0.9zM240.6 460.0h0.9v0.9h-0.9zM254.1 449.8h0.9v0.9h-0.9zM240.1 448.5h0.9v0.9h-0.9zM257.1 439.7h0.9v0.9h-0.9zM244.9 449.1h0.9v0.9h-0.9zM241.4 443.9h0.9v0.9h-0.9zM249.9 442.6h0.9v0.9h-0.9zM243.0 447.5h0.9v0.9h-0.9zM235.0 445.8h0.9v0.9h-0.9zM251.6 453.9h0.9v0.9h-0.9zM256.4 437.2h0.9v0.9h-0.9zM238.0 447.8h0.9v0.9h-0.9zM239.3 438.8h0.9v0.9h-0.9zM238.9 446.7h0.9v0.9h-0.9zM245.9 448.0h0.9v0.9h-0.9zM233.7 431.8h0.9v0.9h-0.9zM249.5 444.3h0.9v0.9h-0.9zM244.8 448.3h0.9v0.9h-0.9zM254.3 454.1h0.9v0.9h-0.9zM240.2 451.3h0.9v0.9h-0.9zM247.6 456.7h0.9v0.9h-0.9zM250.3 463.5h0.9v0.9h-0.9zM259.8 447.7h0.9v0.9h-0.9zM237.6 449.6h0.9v0.9h-0.9zM238.8 445.0h0.9v0.9h-0.9zM251.3 440.1h0.9v0.9h-0.9zM236.9 432.1h0.9v0.9h-0.9zM248.3 449.6h0.9v0.9h-0.9zM246.0 454.3h0.9v0.9h-0.9zM242.9 462.0h0.9v0.9h-0.9zM245.8 452.7h0.9v0.9h-0.9zM238.9 448.9h0.9v0.9h-0.9zM241.9 436.0h0.9v0.9h-0.9zM245.9 437.9h0.9v0.9h-0.9zM250.8 432.0h0.9v0.9h-0.9zM248.5 442.5h0.9v0.9h-0.9zM245.9 461.0h0.9v0.9h-0.9zM239.7 459.0h0.9v0.9h-0.9zM248.9 439.5h0.9v0.9h-0.9zM253.7 445.9h0.9v0.9h-0.9zM238.6 442.3h0.9v0.9h-0.9zM250.3 440.8h0.9v0.9h-0.9zM239.1 444.0h0.9v0.9h-0.9zM243.0 435.2h0.9v0.9h-0.9zM254.1 460.0h0.9v0.9h-0.9zM243.3 449.3h0.9v0.9h-0.9zM242.8 436.8h0.9v0.9h-0.9zM246.5 437.1h0.9v0.9h-0.9zM233.5 440.7h0.9v0.9h-0.9zM246.9 441.6h0.9v0.9h-0.9zM250.1 450.9h0.9v0.9h-0.9zM251.1 456.7h0.9v0.9h-0.9zM240.4 451.3h0.9v0.9h-0.9zM248.8 448.3h0.9v0.9h-0.9zM240.4 449.8h0.9v0.9h-0.9zM245.4 451.3h0.9v0.9h-0.9zM243.4 441.0h0.9v0.9h-0.9zM233.9 444.6h0.9v0.9h-0.9zM256.8 447.0h0.9v0.9h-0.9zM244.2 439.0h0.9v0.9h-0.9zM246.5 446.1h0.9v0.9h-0.9zM245.4 443.3h0.9v0.9h-0.9zM236.8 438.3h0.9v0.9h-0.9zM239.8 437.7h0.9v0.9h-0.9zM236.6 447.7h0.9v0.9h-0.9zM244.1 441.3h0.9v0.9h-0.9zM243.0 454.3h0.9v0.9h-0.9zM235.7 450.6h0.9v0.9h-0.9zM247.5 462.6h0.9v0.9h-0.9zM256.8 446.5h0.9v0.9h-0.9zM248.6 449.0h0.9v0.9h-0.9zM249.6 452.1h0.9v0.9h-0.9zM246.1 436.0h0.9v0.9h-0.9zM245.7 439.3h0.9v0.9h-0.9zM240.0 454.0h0.9v0.9h-0.9zM251.0 433.6h0.9v0.9h-0.9zM235.5 437.0h0.9v0.9h-0.9zM252.7 434.6h0.9v0.9h-0.9zM246.4 450.0h0.9v0.9h-0.9zM239.0 458.5h0.9v0.9h-0.9zM241.0 457.1h0.9v0.9h-0.9zM235.5 440.3h0.9v0.9h-0.9zM250.7 458.6h0.9v0.9h-0.9zM244.9 449.0h0.9v0.9h-0.9zM249.5 437.5h0.9v0.9h-0.9zM239.6 446.2h0.9v0.9h-0.9zM253.4 439.3h0.9v0.9h-0.9zM248.6 439.0h0.9v0.9h-0.9zM235.7 446.1h0.9v0.9h-0.9zM245.2 445.9h0.9v0.9h-0.9zM238.5 440.8h0.9v0.9h-0.9zM250.5 433.6h0.9v0.9h-0.9zM239.5 435.9h0.9v0.9h-0.9zM244.5 455.6h0.9v0.9h-0.9zM241.3 439.7h0.9v0.9h-0.9zM241.4 445.7h0.9v0.9h-0.9zM240.5 437.5h0.9v0.9h-0.9zM246.2 457.3h0.9v0.9h-0.9zM245.5 439.6h0.9v0.9h-0.9zM253.3 445.5h0.9v0.9h-0.9zM246.9 444.0h0.9v0.9h-0.9zM247.1 434.7h0.9v0.9h-0.9zM243.7 443.8h0.9v0.9h-0.9zM242.3 446.4h0.9v0.9h-0.9zM263.7 437.3h0.9v0.9h-0.9zM241.8 434.6h0.9v0.9h-0.9zM244.6 440.8h0.9v0.9h-0.9zM250.9 444.2h0.9v0.9h-0.9zM243.0 445.5h0.9v0.9h-0.9zM258.0 453.9h0.9v0.9h-0.9zM246.8 453.9h0.9v0.9h-0.9zM242.3 432.2h0.9v0.9h-0.9zM234.0 449.4h0.9v0.9h-0.9zM246.4 440.3h0.9v0.9h-0.9zM237.1 451.9h0.9v0.9h-0.9zM240.8 435.3h0.9v0.9h-0.9zM249.1 446.2h0.9v0.9h-0.9zM235.2 457.5h0.9v0.9h-0.9z" fill="#e6706a" fill-opacity="0.5"/>
<ellipse cx="242.5" cy="439.5" rx="9" ry="7.5" fill="url(#rg)" fill-opacity="0.8"/>
<path d="M240.1 437.6h0.9v0.9h-0.9zM239.4 438.3h0.9v0.9h-0.9zM248.5 438.4h0.9v0.9h-0.9zM245.4 437.0h0.9v0.9h-0.9zM247.3 444.2h0.9v0.9h-0.9zM245.8 445.9h0.9v0.9h-0.9zM243.4 432.4h0.9v0.9h-0.9zM237.3 437.2h0.9v0.9h-0.9zM245.7 440.0h0.9v0.9h-0.9zM243.6 440.4h0.9v0.9h-0.9zM241.1 439.2h0.9v0.9h-0.9zM240.2 439.6h0.9v0.9h-0.9zM245.2 445.5h0.9v0.9h-0.9zM248.1 439.1h0.9v0.9h-0.9zM240.6 438.0h0.9v0.9h-0.9zM235.0 443.0h0.9v0.9h-0.9zM246.0 441.0h0.9v0.9h-0.9zM242.6 442.1h0.9v0.9h-0.9zM246.3 444.2h0.9v0.9h-0.9zM236.3 448.4h0.9v0.9h-0.9zM239.8 444.6h0.9v0.9h-0.9zM238.0 444.2h0.9v0.9h-0.9zM253.2 443.3h0.9v0.9h-0.9zM242.6 445.4h0.9v0.9h-0.9zM242.2 440.1h0.9v0.9h-0.9zM240.5 439.1h0.9v0.9h-0.9zM243.1 437.0h0.9v0.9h-0.9zM247.2 440.9h0.9v0.9h-0.9zM237.6 436.9h0.9v0.9h-0.9zM242.2 438.4h0.9v0.9h-0.9zM248.5 435.8h0.9v0.9h-0.9zM242.5 439.1h0.9v0.9h-0.9zM241.8 441.9h0.9v0.9h-0.9zM244.8 437.6h0.9v0.9h-0.9zM240.3 441.0h0.9v0.9h-0.9zM242.3 437.7h0.9v0.9h-0.9zM236.0 440.8h0.9v0.9h-0.9zM240.6 441.5h0.9v0.9h-0.9zM239.9 439.3h0.9v0.9h-0.9zM241.5 433.0h0.9v0.9h-0.9zM242.6 440.7h0.9v0.9h-0.9zM242.1 439.9h0.9v0.9h-0.9zM248.3 432.3h0.9v0.9h-0.9zM238.4 437.1h0.9v0.9h-0.9zM239.3 437.7h0.9v0.9h-0.9zM237.2 438.3h0.9v0.9h-0.9zM244.4 437.0h0.9v0.9h-0.9zM245.1 442.6h0.9v0.9h-0.9zM245.8 440.4h0.9v0.9h-0.9zM234.7 439.0h0.9v0.9h-0.9zM245.0 429.3h0.9v0.9h-0.9zM245.1 437.3h0.9v0.9h-0.9zM245.2 444.5h0.9v0.9h-0.9zM242.2 435.8h0.9v0.9h-0.9zM245.0 434.8h0.9v0.9h-0.9zM242.6 439.3h0.9v0.9h-0.9zM246.9 433.2h0.9v0.9h-0.9zM243.3 446.4h0.9v0.9h-0.9zM241.8 446.5h0.9v0.9h-0.9zM246.3 433.6h0.9v0.9h-0.9zM244.7 440.8h0.9v0.9h-0.9zM239.7 438.7h0.9v0.9h-0.9zM235.1 445.7h0.9v0.9h-0.9zM244.5 438.4h0.9v0.9h-0.9zM245.9 444.9h0.9v0.9h-0.9zM242.0 439.3h0.9v0.9h-0.9zM245.0 438.9h0.9v0.9h-0.9zM249.7 443.3h0.9v0.9h-0.9zM243.3 438.0h0.9v0.9h-0.9zM234.0 435.5h0.9v0.9h-0.9zM251.2 439.3h0.9v0.9h-0.9zM247.5 432.3h0.9v0.9h-0.9zM237.4 442.9h0.9v0.9h-0.9zM247.1 434.2h0.9v0.9h-0.9zM236.2 435.5h0.9v0.9h-0.9zM242.9 431.4h0.9v0.9h-0.9zM249.3 435.4h0.9v0.9h-0.9zM243.9 442.5h0.9v0.9h-0.9zM242.1 439.5h0.9v0.9h-0.9zM240.8 446.6h0.9v0.9h-0.9zM247.1 438.9h0.9v0.9h-0.9zM240.6 439.3h0.9v0.9h-0.9zM233.5 437.6h0.9v0.9h-0.9zM240.4 444.4h0.9v0.9h-0.9zM244.3 435.9h0.9v0.9h-0.9zM236.7 441.9h0.9v0.9h-0.9zM244.1 442.4h0.9v0.9h-0.9zM242.7 440.8h0.9v0.9h-0.9zM242.8 446.3h0.9v0.9h-0.9zM242.5 435.8h0.9v0.9h-0.9zM246.1 442.3h0.9v0.9h-0.9zM241.2 444.4h0.9v0.9h-0.9zM244.8 436.8h0.9v0.9h-0.9zM239.0 445.5h0.9v0.9h-0.9zM246.3 435.2h0.9v0.9h-0.9zM237.8 446.6h0.9v0.9h-0.9zM253.5 443.7h0.9v0.9h-0.9zM242.3 438.2h0.9v0.9h-0.9zM246.0 445.1h0.9v0.9h-0.9zM244.2 438.8h0.9v0.9h-0.9zM236.7 434.7h0.9v0.9h-0.9zM237.9 432.3h0.9v0.9h-0.9zM244.3 437.9h0.9v0.9h-0.9zM249.8 443.4h0.9v0.9h-0.9zM242.7 446.9h0.9v0.9h-0.9zM246.3 438.5h0.9v0.9h-0.9zM242.8 437.0h0.9v0.9h-0.9zM240.5 439.4h0.9v0.9h-0.9zM241.0 438.1h0.9v0.9h-0.9zM241.7 439.9h0.9v0.9h-0.9zM248.0 438.8h0.9v0.9h-0.9zM241.0 441.7h0.9v0.9h-0.9zM243.5 435.4h0.9v0.9h-0.9zM241.4 439.1h0.9v0.9h-0.9zM239.5 442.5h0.9v0.9h-0.9zM244.0 437.4h0.9v0.9h-0.9zM247.2 440.9h0.9v0.9h-0.9zM242.7 440.5h0.9v0.9h-0.9zM246.1 442.1h0.9v0.9h-0.9zM239.7 440.7h0.9v0.9h-0.9zM242.1 438.4h0.9v0.9h-0.9zM241.2 443.6h0.9v0.9h-0.9zM242.9 448.9h0.9v0.9h-0.9zM240.2 442.9h0.9v0.9h-0.9zM247.1 438.2h0.9v0.9h-0.9zM243.0 443.6h0.9v0.9h-0.9zM250.0 439.1h0.9v0.9h-0.9zM241.9 440.8h0.9v0.9h-0.9zM245.5 438.1h0.9v0.9h-0.9zM246.1 441.3h0.9v0.9h-0.9zM242.8 436.0h0.9v0.9h-0.9zM245.6 431.5h0.9v0.9h-0.9zM238.6 432.9h0.9v0.9h-0.9zM241.1 438.7h0.9v0.9h-0.9zM241.1 437.0h0.9v0.9h-0.9zM245.6 432.3h0.9v0.9h-0.9zM236.4 440.7h0.9v0.9h-0.9zM247.5 440.9h0.9v0.9h-0.9zM237.7 432.7h0.9v0.9h-0.9zM244.9 440.5h0.9v0.9h-0.9zM242.9 434.6h0.9v0.9h-0.9zM249.8 442.6h0.9v0.9h-0.9zM244.8 441.2h0.9v0.9h-0.9zM241.8 438.5h0.9v0.9h-0.9zM242.8 436.4h0.9v0.9h-0.9zM244.0 434.8h0.9v0.9h-0.9zM242.2 445.9h0.9v0.9h-0.9zM248.7 436.4h0.9v0.9h-0.9zM246.1 441.7h0.9v0.9h-0.9zM246.5 441.1h0.9v0.9h-0.9zM241.5 443.8h0.9v0.9h-0.9zM247.0 435.1h0.9v0.9h-0.9zM242.9 438.3h0.9v0.9h-0.9zM238.4 439.8h0.9v0.9h-0.9zM241.2 432.1h0.9v0.9h-0.9zM250.5 439.8h0.9v0.9h-0.9zM242.0 440.3h0.9v0.9h-0.9zM238.9 436.5h0.9v0.9h-0.9zM249.5 437.9h0.9v0.9h-0.9zM235.7 440.7h0.9v0.9h-0.9zM246.2 436.7h0.9v0.9h-0.9zM240.1 444.3h0.9v0.9h-0.9zM246.2 434.9h0.9v0.9h-0.9zM240.7 438.0h0.9v0.9h-0.9zM241.8 434.7h0.9v0.9h-0.9zM241.8 435.6h0.9v0.9h-0.9zM245.5 440.2h0.9v0.9h-0.9zM240.6 438.4h0.9v0.9h-0.9zM240.6 442.8h0.9v0.9h-0.9zM244.5 441.8h0.9v0.9h-0.9zM234.1 442.0h0.9v0.9h-0.9zM242.1 437.9h0.9v0.9h-0.9zM236.9 443.6h0.9v0.9h-0.9zM248.8 439.5h0.9v0.9h-0.9zM241.9 436.8h0.9v0.9h-0.9zM245.9 439.8h0.9v0.9h-0.9zM239.7 444.2h0.9v0.9h-0.9zM244.6 440.5h0.9v0.9h-0.9zM242.3 438.5h0.9v0.9h-0.9zM239.3 437.6h0.9v0.9h-0.9zM240.4 442.7h0.9v0.9h-0.9zM238.7 444.9h0.9v0.9h-0.9zM247.0 437.1h0.9v0.9h-0.9zM239.4 433.1h0.9v0.9h-0.9zM246.0 442.1h0.9v0.9h-0.9zM249.1 440.5h0.9v0.9h-0.9zM244.2 438.3h0.9v0.9h-0.9zM237.6 441.8h0.9v0.9h-0.9zM241.2 439.3h0.9v0.9h-0.9zM239.4 441.3h0.9v0.9h-0.9zM235.7 434.9h0.9v0.9h-0.9zM246.9 441.6h0.9v0.9h-0.9zM238.7 440.3h0.9v0.9h-0.9zM244.0 443.2h0.9v0.9h-0.9zM246.9 443.1h0.9v0.9h-0.9zM240.3 446.5h0.9v0.9h-0.9zM242.6 442.0h0.9v0.9h-0.9zM245.0 444.9h0.9v0.9h-0.9zM246.8 433.4h0.9v0.9h-0.9zM236.8 439.0h0.9v0.9h-0.9zM239.4 443.0h0.9v0.9h-0.9zM248.7 444.3h0.9v0.9h-0.9zM238.4 441.4h0.9v0.9h-0.9zM246.3 442.1h0.9v0.9h-0.9zM246.3 449.2h0.9v0.9h-0.9zM245.8 441.0h0.9v0.9h-0.9zM244.9 440.6h0.9v0.9h-0.9zM241.0 439.5h0.9v0.9h-0.9zM238.9 435.9h0.9v0.9h-0.9zM242.9 436.2h0.9v0.9h-0.9zM240.1 437.0h0.9v0.9h-0.9zM238.0 429.6h0.9v0.9h-0.9zM245.1 444.4h0.9v0.9h-0.9zM243.4 436.9h0.9v0.9h-0.9zM247.1 440.8h0.9v0.9h-0.9zM237.0 439.2h0.9v0.9h-0.9zM242.7 436.3h0.9v0.9h-0.9zM244.7 434.2h0.9v0.9h-0.9zM242.6 442.1h0.9v0.9h-0.9zM234.9 441.6h0.9v0.9h-0.9zM246.0 436.4h0.9v0.9h-0.9zM237.9 438.7h0.9v0.9h-0.9zM242.5 438.7h0.9v0.9h-0.9zM241.2 435.3h0.9v0.9h-0.9zM235.2 436.8h0.9v0.9h-0.9zM246.2 442.2h0.9v0.9h-0.9zM245.4 438.7h0.9v0.9h-0.9zM240.1 437.6h0.9v0.9h-0.9zM243.1 434.4h0.9v0.9h-0.9zM243.9 441.0h0.9v0.9h-0.9zM240.0 442.7h0.9v0.9h-0.9zM245.3 431.3h0.9v0.9h-0.9zM240.9 439.0h0.9v0.9h-0.9zM233.2 441.7h0.9v0.9h-0.9zM246.3 441.3h0.9v0.9h-0.9zM241.9 444.7h0.9v0.9h-0.9zM242.8 440.6h0.9v0.9h-0.9zM244.4 443.5h0.9v0.9h-0.9zM235.7 442.8h0.9v0.9h-0.9zM243.9 444.6h0.9v0.9h-0.9zM243.3 439.1h0.9v0.9h-0.9zM239.8 439.6h0.9v0.9h-0.9zM240.2 441.3h0.9v0.9h-0.9zM242.7 436.7h0.9v0.9h-0.9zM245.2 439.2h0.9v0.9h-0.9zM240.9 444.4h0.9v0.9h-0.9zM244.3 441.1h0.9v0.9h-0.9zM239.5 444.1h0.9v0.9h-0.9zM244.8 435.2h0.9v0.9h-0.9zM241.3 444.0h0.9v0.9h-0.9zM246.3 439.1h0.9v0.9h-0.9zM243.3 440.2h0.9v0.9h-0.9zM248.2 437.5h0.9v0.9h-0.9zM242.9 443.0h0.9v0.9h-0.9zM243.5 443.3h0.9v0.9h-0.9zM242.6 438.6h0.9v0.9h-0.9zM239.7 439.2h0.9v0.9h-0.9zM237.3 435.2h0.9v0.9h-0.9zM242.9 436.2h0.9v0.9h-0.9zM243.0 439.1h0.9v0.9h-0.9zM241.9 441.5h0.9v0.9h-0.9zM240.6 435.7h0.9v0.9h-0.9zM241.4 438.8h0.9v0.9h-0.9zM247.8 443.1h0.9v0.9h-0.9zM237.1 433.0h0.9v0.9h-0.9zM237.6 441.5h0.9v0.9h-0.9zM235.1 442.7h0.9v0.9h-0.9zM241.2 443.5h0.9v0.9h-0.9zM243.4 436.1h0.9v0.9h-0.9zM240.8 440.2h0.9v0.9h-0.9zM247.1 438.5h0.9v0.9h-0.9zM240.1 439.9h0.9v0.9h-0.9zM239.4 441.3h0.9v0.9h-0.9zM244.0 442.6h0.9v0.9h-0.9zM239.0 443.6h0.9v0.9h-0.9zM253.8 444.5h0.9v0.9h-0.9zM242.8 439.1h0.9v0.9h-0.9zM236.3 441.2h0.9v0.9h-0.9zM250.6 441.4h0.9v0.9h-0.9zM244.0 439.2h0.9v0.9h-0.9zM237.8 448.0h0.9v0.9h-0.9zM241.1 445.2h0.9v0.9h-0.9zM242.6 439.2h0.9v0.9h-0.9zM239.0 439.9h0.9v0.9h-0.9zM243.2 438.2h0.9v0.9h-0.9zM242.1 438.8h0.9v0.9h-0.9zM238.9 437.0h0.9v0.9h-0.9zM253.0 434.8h0.9v0.9h-0.9zM245.2 434.5h0.9v0.9h-0.9zM238.7 442.9h0.9v0.9h-0.9zM236.6 442.2h0.9v0.9h-0.9zM248.3 438.7h0.9v0.9h-0.9zM245.5 443.1h0.9v0.9h-0.9zM234.1 438.0h0.9v0.9h-0.9zM240.8 442.8h0.9v0.9h-0.9zM240.6 434.9h0.9v0.9h-0.9zM237.1 439.7h0.9v0.9h-0.9zM242.7 441.0h0.9v0.9h-0.9zM238.0 441.2h0.9v0.9h-0.9zM242.0 435.9h0.9v0.9h-0.9zM237.3 447.3h0.9v0.9h-0.9zM244.8 438.2h0.9v0.9h-0.9zM244.7 436.9h0.9v0.9h-0.9zM249.3 441.5h0.9v0.9h-0.9zM233.4 438.1h0.9v0.9h-0.9zM241.4 439.9h0.9v0.9h-0.9zM237.7 443.0h0.9v0.9h-0.9zM243.1 444.7h0.9v0.9h-0.9zM243.3 444.8h0.9v0.9h-0.9zM248.8 439.9h0.9v0.9h-0.9zM243.6 442.9h0.9v0.9h-0.9zM244.3 439.2h0.9v0.9h-0.9zM251.9 443.8h0.9v0.9h-0.9zM244.5 435.2h0.9v0.9h-0.9zM238.1 438.9h0.9v0.9h-0.9zM237.9 434.3h0.9v0.9h-0.9zM245.0 442.1h0.9v0.9h-0.9zM240.2 439.5h0.9v0.9h-0.9zM247.0 442.8h0.9v0.9h-0.9zM249.8 438.8h0.9v0.9h-0.9z" fill="#c81c10" fill-opacity="0.5"/>
<path d="M241.4 442.0h0.9v0.9h-0.9zM248.1 439.1h0.9v0.9h-0.9zM241.5 438.8h0.9v0.9h-0.9zM245.9 443.2h0.9v0.9h-0.9zM239.5 442.8h0.9v0.9h-0.9zM244.8 443.4h0.9v0.9h-0.9zM241.1 439.4h0.9v0.9h-0.9zM244.1 441.1h0.9v0.9h-0.9zM239.6 441.8h0.9v0.9h-0.9zM244.3 438.9h0.9v0.9h-0.9zM243.8 443.0h0.9v0.9h-0.9zM242.6 439.8h0.9v0.9h-0.9zM239.4 439.4h0.9v0.9h-0.9zM240.4 436.6h0.9v0.9h-0.9zM245.4 440.9h0.9v0.9h-0.9zM243.5 440.2h0.9v0.9h-0.9zM246.6 434.4h0.9v0.9h-0.9zM247.2 438.2h0.9v0.9h-0.9zM239.8 437.2h0.9v0.9h-0.9zM239.9 439.1h0.9v0.9h-0.9zM244.8 437.1h0.9v0.9h-0.9zM244.9 438.0h0.9v0.9h-0.9zM242.5 443.8h0.9v0.9h-0.9zM241.5 436.2h0.9v0.9h-0.9zM242.7 440.7h0.9v0.9h-0.9zM241.4 438.3h0.9v0.9h-0.9zM244.4 436.8h0.9v0.9h-0.9zM242.1 437.2h0.9v0.9h-0.9zM244.4 438.3h0.9v0.9h-0.9zM243.6 439.4h0.9v0.9h-0.9z" fill="#8c1010" fill-opacity="0.5"/>
<path d="M241.8 450.1h0.9v0.9h-0.9zM246.4 452.4h0.9v0.9h-0.9zM241.6 447.2h0.9v0.9h-0.9zM242.3 450.3h0.9v0.9h-0.9zM238.3 463.1h0.9v0.9h-0.9zM244.7 458.1h0.9v0.9h-0.9zM242.7 460.1h0.9v0.9h-0.9zM242.0 457.6h0.9v0.9h-0.9zM238.6 453.4h0.9v0.9h-0.9zM241.4 438.2h0.9v0.9h-0.9zM237.8 450.1h0.9v0.9h-0.9zM249.1 445.0h0.9v0.9h-0.9zM235.5 460.9h0.9v0.9h-0.9zM238.5 459.5h0.9v0.9h-0.9zM241.8 467.6h0.9v0.9h-0.9zM242.0 462.1h0.9v0.9h-0.9zM241.4 456.4h0.9v0.9h-0.9zM242.1 455.7h0.9v0.9h-0.9zM247.0 467.1h0.9v0.9h-0.9zM242.1 454.6h0.9v0.9h-0.9zM242.7 463.1h0.9v0.9h-0.9zM244.5 456.6h0.9v0.9h-0.9zM247.1 459.5h0.9v0.9h-0.9zM243.2 465.5h0.9v0.9h-0.9zM247.8 456.9h0.9v0.9h-0.9zM243.1 454.8h0.9v0.9h-0.9zM248.8 453.6h0.9v0.9h-0.9zM240.6 463.5h0.9v0.9h-0.9zM244.2 456.1h0.9v0.9h-0.9zM245.0 458.3h0.9v0.9h-0.9zM242.0 458.7h0.9v0.9h-0.9zM244.1 457.7h0.9v0.9h-0.9zM243.8 457.4h0.9v0.9h-0.9zM243.9 449.7h0.9v0.9h-0.9zM248.0 463.3h0.9v0.9h-0.9zM243.2 460.4h0.9v0.9h-0.9zM248.4 459.6h0.9v0.9h-0.9zM237.6 459.0h0.9v0.9h-0.9zM235.2 455.0h0.9v0.9h-0.9zM247.1 448.7h0.9v0.9h-0.9zM236.7 453.8h0.9v0.9h-0.9zM241.2 455.8h0.9v0.9h-0.9zM241.5 459.4h0.9v0.9h-0.9zM245.7 455.3h0.9v0.9h-0.9zM239.0 453.0h0.9v0.9h-0.9zM241.8 462.2h0.9v0.9h-0.9zM245.7 452.7h0.9v0.9h-0.9zM240.9 446.6h0.9v0.9h-0.9zM243.7 454.1h0.9v0.9h-0.9zM247.4 459.4h0.9v0.9h-0.9zM246.1 467.4h0.9v0.9h-0.9zM237.8 456.7h0.9v0.9h-0.9zM241.3 464.8h0.9v0.9h-0.9zM241.8 457.2h0.9v0.9h-0.9zM235.1 452.9h0.9v0.9h-0.9zM240.0 449.2h0.9v0.9h-0.9zM242.6 454.2h0.9v0.9h-0.9zM242.8 462.5h0.9v0.9h-0.9zM243.5 456.4h0.9v0.9h-0.9zM243.2 448.5h0.9v0.9h-0.9zM240.7 452.3h0.9v0.9h-0.9zM248.7 447.5h0.9v0.9h-0.9zM240.8 460.0h0.9v0.9h-0.9zM240.4 460.7h0.9v0.9h-0.9zM238.1 463.1h0.9v0.9h-0.9zM242.8 441.1h0.9v0.9h-0.9zM237.1 447.4h0.9v0.9h-0.9zM241.2 453.7h0.9v0.9h-0.9zM243.2 460.5h0.9v0.9h-0.9zM244.1 459.4h0.9v0.9h-0.9z" fill="#e6706a" fill-opacity="0.5"/>
<rect x="232.90" y="428.90" width="41.40" height="41.10" fill="none" stroke="#7a7a7a" stroke-width="0.9"/>
<line x1="256.50" y1="428.90" x2="256.50" y2="470.00" stroke="#4a4a4a" stroke-width="0.85"/>
<line x1="232.90" y1="456.40" x2="274.30" y2="456.40" stroke="#4a4a4a" stroke-width="0.85"/>
<circle cx="256.5" cy="456.4" r="0.9" fill="#000"/>
<circle cx="233.5" cy="429.5" r="0.7" fill="#000"/>
<text x="234.50" y="432.50" font-size="2.8" fill="#444" stroke="#444" stroke-width="0.2">Q1</text>
<text x="265.80" y="445.40" font-size="2.6" fill="#555" stroke="#555" stroke-width="0.2">Q2</text>
<text x="267.80" y="465.00" font-size="2.6" fill="#555" stroke="#555" stroke-width="0.2">Q4</text>
<text x="219.70" y="431.80" font-size="5.3" fill="#444" stroke="#444" stroke-width="0.14">10<tspan font-size="3.50" dy="-2.12">4</tspan></text>
<text x="219.70" y="442.10" font-size="5.3" fill="#444" stroke="#444" stroke-width="0.14">10<tspan font-size="3.50" dy="-2.12">3</tspan></text>
<line x1="231.30" y1="439.90" x2="232.90" y2="439.90" stroke="#444" stroke-width="0.9"/>
<text x="219.70" y="452.10" font-size="5.3" fill="#444" stroke="#444" stroke-width="0.14">10<tspan font-size="3.50" dy="-2.12">2</tspan></text>
<line x1="231.30" y1="449.90" x2="232.90" y2="449.90" stroke="#444" stroke-width="0.9"/>
<text x="219.70" y="462.10" font-size="5.3" fill="#444" stroke="#444" stroke-width="0.14">10<tspan font-size="3.50" dy="-2.12">1</tspan></text>
<line x1="231.30" y1="459.90" x2="232.90" y2="459.90" stroke="#444" stroke-width="0.9"/>
<text x="219.70" y="471.80" font-size="5.3" fill="#444" stroke="#444" stroke-width="0.14">10<tspan font-size="3.50" dy="-2.12">0</tspan></text>
<text x="233.50" y="478.90" font-size="5.6" fill="#333" stroke="#333" stroke-width="0.14" text-anchor="middle">10<tspan font-size="3.70" dy="-2.24">0</tspan></text>
<text x="243.85" y="478.90" font-size="5.6" fill="#333" stroke="#333" stroke-width="0.14" text-anchor="middle">10<tspan font-size="3.70" dy="-2.24">1</tspan></text>
<text x="254.20" y="478.90" font-size="5.6" fill="#333" stroke="#333" stroke-width="0.14" text-anchor="middle">10<tspan font-size="3.70" dy="-2.24">2</tspan></text>
<text x="264.55" y="478.90" font-size="5.6" fill="#333" stroke="#333" stroke-width="0.14" text-anchor="middle">10<tspan font-size="3.70" dy="-2.24">3</tspan></text>
<text x="274.90" y="478.90" font-size="5.6" fill="#333" stroke="#333" stroke-width="0.14" text-anchor="middle">10<tspan font-size="3.70" dy="-2.24">4</tspan></text>
<text x="253.70" y="488.90" font-size="7" fill="#2a2a2a" text-anchor="middle" textLength="29.6" lengthAdjust="spacingAndGlyphs" stroke="#2a2a2a" stroke-width="0.18">APC Log comp</text>
<text x="214.00" y="450.80" font-size="7" fill="#2a2a2a" text-anchor="middle" textLength="29.8" lengthAdjust="spacingAndGlyphs" transform="rotate(-90 214.00 450.80)" stroke="#2a2a2a" stroke-width="0.15">FITC Log comp</text>
<text x="236.30" y="448.40" font-size="7" fill="#2a2a2a" stroke="#2a2a2a" stroke-width="0.2" textLength="13.1" lengthAdjust="spacingAndGlyphs">90%</text>
<text x="260.20" y="448.40" font-size="7" fill="#2a2a2a" stroke="#2a2a2a" stroke-width="0.2" textLength="9.0" lengthAdjust="spacingAndGlyphs">3%</text>
<text x="235.80" y="468.40" font-size="7" fill="#2a2a2a" stroke="#2a2a2a" stroke-width="0.2" textLength="9.0" lengthAdjust="spacingAndGlyphs">7%</text>
<text x="257.20" y="468.40" font-size="7" fill="#2a2a2a" stroke="#2a2a2a" stroke-width="0.2" textLength="9.0" lengthAdjust="spacingAndGlyphs">0%</text>
<path d="M314.0 433.0h0.9v0.9h-0.9zM310.1 449.5h0.9v0.9h-0.9zM312.4 435.4h0.9v0.9h-0.9zM313.4 449.7h0.9v0.9h-0.9zM308.9 444.4h0.9v0.9h-0.9zM329.3 453.5h0.9v0.9h-0.9zM316.4 468.2h0.9v0.9h-0.9zM319.6 433.6h0.9v0.9h-0.9zM315.9 446.0h0.9v0.9h-0.9zM317.4 452.5h0.9v0.9h-0.9zM318.1 446.5h0.9v0.9h-0.9zM330.4 446.4h0.9v0.9h-0.9zM317.5 452.2h0.9v0.9h-0.9zM308.0 447.2h0.9v0.9h-0.9zM332.9 436.3h0.9v0.9h-0.9zM341.2 454.9h0.9v0.9h-0.9zM325.9 443.7h0.9v0.9h-0.9zM317.0 458.0h0.9v0.9h-0.9zM325.4 429.3h0.9v0.9h-0.9zM316.8 438.5h0.9v0.9h-0.9zM331.7 442.9h0.9v0.9h-0.9zM339.5 458.1h0.9v0.9h-0.9zM309.7 457.6h0.9v0.9h-0.9zM335.2 435.7h0.9v0.9h-0.9zM318.7 438.6h0.9v0.9h-0.9zM312.0 445.6h0.9v0.9h-0.9zM325.1 438.7h0.9v0.9h-0.9zM335.3 456.3h0.9v0.9h-0.9zM307.8 441.5h0.9v0.9h-0.9zM318.8 439.9h0.9v0.9h-0.9zM332.7 438.0h0.9v0.9h-0.9zM319.0 449.3h0.9v0.9h-0.9zM322.7 448.3h0.9v0.9h-0.9zM320.6 450.7h0.9v0.9h-0.9zM325.2 446.6h0.9v0.9h-0.9zM327.6 449.8h0.9v0.9h-0.9zM329.1 450.4h0.9v0.9h-0.9zM326.6 449.3h0.9v0.9h-0.9zM313.5 441.7h0.9v0.9h-0.9zM319.1 440.0h0.9v0.9h-0.9zM317.3 440.0h0.9v0.9h-0.9zM315.1 449.0h0.9v0.9h-0.9zM322.0 446.7h0.9v0.9h-0.9zM319.5 444.0h0.9v0.9h-0.9zM327.7 449.9h0.9v0.9h-0.9zM324.8 454.3h0.9v0.9h-0.9zM317.6 452.6h0.9v0.9h-0.9zM323.7 437.3h0.9v0.9h-0.9zM334.6 437.8h0.9v0.9h-0.9zM330.0 439.6h0.9v0.9h-0.9zM315.1 456.1h0.9v0.9h-0.9zM326.1 446.0h0.9v0.9h-0.9zM314.2 430.7h0.9v0.9h-0.9zM317.1 444.5h0.9v0.9h-0.9zM330.9 445.9h0.9v0.9h-0.9zM332.0 441.2h0.9v0.9h-0.9zM331.1 453.5h0.9v0.9h-0.9zM319.6 453.4h0.9v0.9h-0.9zM338.7 433.8h0.9v0.9h-0.9zM309.0 440.0h0.9v0.9h-0.9zM316.4 437.5h0.9v0.9h-0.9zM323.5 433.8h0.9v0.9h-0.9zM340.0 445.2h0.9v0.9h-0.9zM324.1 444.4h0.9v0.9h-0.9zM316.4 447.1h0.9v0.9h-0.9zM320.7 449.3h0.9v0.9h-0.9zM329.5 438.7h0.9v0.9h-0.9zM326.5 446.9h0.9v0.9h-0.9zM308.9 447.9h0.9v0.9h-0.9zM331.3 445.2h0.9v0.9h-0.9zM326.8 451.1h0.9v0.9h-0.9zM333.7 456.6h0.9v0.9h-0.9zM314.7 444.1h0.9v0.9h-0.9zM322.4 437.2h0.9v0.9h-0.9zM323.3 449.3h0.9v0.9h-0.9zM325.2 429.3h0.9v0.9h-0.9zM323.0 445.8h0.9v0.9h-0.9zM329.9 453.9h0.9v0.9h-0.9zM312.7 445.1h0.9v0.9h-0.9zM323.6 452.9h0.9v0.9h-0.9zM333.5 444.4h0.9v0.9h-0.9zM307.6 453.0h0.9v0.9h-0.9zM320.0 430.0h0.9v0.9h-0.9zM323.8 438.4h0.9v0.9h-0.9zM322.4 456.6h0.9v0.9h-0.9zM321.4 438.9h0.9v0.9h-0.9zM326.2 443.5h0.9v0.9h-0.9zM323.1 454.8h0.9v0.9h-0.9zM324.3 450.3h0.9v0.9h-0.9zM321.5 447.1h0.9v0.9h-0.9zM311.9 439.2h0.9v0.9h-0.9zM332.2 457.6h0.9v0.9h-0.9zM311.3 452.0h0.9v0.9h-0.9zM330.8 439.0h0.9v0.9h-0.9zM329.0 451.1h0.9v0.9h-0.9zM333.9 461.5h0.9v0.9h-0.9zM322.3 449.4h0.9v0.9h-0.9zM313.4 448.5h0.9v0.9h-0.9zM322.4 444.1h0.9v0.9h-0.9zM323.5 453.7h0.9v0.9h-0.9zM331.3 452.8h0.9v0.9h-0.9zM339.8 433.5h0.9v0.9h-0.9zM320.7 445.3h0.9v0.9h-0.9zM318.3 442.1h0.9v0.9h-0.9zM308.4 443.2h0.9v0.9h-0.9zM334.2 442.2h0.9v0.9h-0.9zM321.9 449.8h0.9v0.9h-0.9zM322.1 437.6h0.9v0.9h-0.9zM317.2 456.4h0.9v0.9h-0.9zM315.5 435.2h0.9v0.9h-0.9zM341.0 447.3h0.9v0.9h-0.9zM311.3 430.6h0.9v0.9h-0.9zM314.8 434.5h0.9v0.9h-0.9zM320.8 454.2h0.9v0.9h-0.9zM329.9 442.8h0.9v0.9h-0.9zM328.6 442.3h0.9v0.9h-0.9zM314.3 437.6h0.9v0.9h-0.9zM332.0 446.5h0.9v0.9h-0.9zM330.8 454.5h0.9v0.9h-0.9zM329.7 445.0h0.9v0.9h-0.9zM342.5 437.2h0.9v0.9h-0.9zM331.7 462.6h0.9v0.9h-0.9zM320.5 440.7h0.9v0.9h-0.9zM330.5 455.7h0.9v0.9h-0.9zM327.8 440.5h0.9v0.9h-0.9zM323.8 433.2h0.9v0.9h-0.9zM332.9 456.1h0.9v0.9h-0.9zM320.5 451.3h0.9v0.9h-0.9zM319.4 446.6h0.9v0.9h-0.9zM323.9 444.3h0.9v0.9h-0.9zM332.4 438.3h0.9v0.9h-0.9zM325.0 445.8h0.9v0.9h-0.9zM314.2 453.4h0.9v0.9h-0.9zM330.0 457.7h0.9v0.9h-0.9zM326.5 437.1h0.9v0.9h-0.9zM330.4 448.8h0.9v0.9h-0.9zM320.8 447.0h0.9v0.9h-0.9zM332.7 435.7h0.9v0.9h-0.9zM333.4 448.7h0.9v0.9h-0.9zM314.0 450.1h0.9v0.9h-0.9zM317.8 445.3h0.9v0.9h-0.9zM314.8 450.4h0.9v0.9h-0.9zM330.5 461.4h0.9v0.9h-0.9zM307.7 439.6h0.9v0.9h-0.9zM316.4 442.1h0.9v0.9h-0.9zM320.9 451.7h0.9v0.9h-0.9zM316.1 440.4h0.9v0.9h-0.9zM334.7 458.2h0.9v0.9h-0.9zM340.7 463.9h0.9v0.9h-0.9zM314.9 457.9h0.9v0.9h-0.9zM329.4 445.4h0.9v0.9h-0.9zM328.5 440.4h0.9v0.9h-0.9zM311.3 443.8h0.9v0.9h-0.9zM307.3 442.5h0.9v0.9h-0.9zM323.1 437.3h0.9v0.9h-0.9zM310.8 445.4h0.9v0.9h-0.9zM315.8 447.3h0.9v0.9h-0.9zM315.9 441.6h0.9v0.9h-0.9zM319.8 453.9h0.9v0.9h-0.9zM314.6 435.7h0.9v0.9h-0.9zM325.0 442.2h0.9v0.9h-0.9zM321.5 451.6h0.9v0.9h-0.9zM328.3 453.0h0.9v0.9h-0.9zM327.1 459.4h0.9v0.9h-0.9zM326.2 455.2h0.9v0.9h-0.9zM327.1 450.7h0.9v0.9h-0.9zM328.3 432.8h0.9v0.9h-0.9zM328.4 450.9h0.9v0.9h-0.9zM319.6 441.8h0.9v0.9h-0.9zM312.0 449.1h0.9v0.9h-0.9zM325.6 452.5h0.9v0.9h-0.9zM321.1 457.2h0.9v0.9h-0.9zM315.1 455.9h0.9v0.9h-0.9zM314.4 458.6h0.9v0.9h-0.9zM332.0 437.4h0.9v0.9h-0.9zM327.7 437.3h0.9v0.9h-0.9zM340.4 455.7h0.9v0.9h-0.9zM323.3 449.4h0.9v0.9h-0.9zM321.9 442.0h0.9v0.9h-0.9zM311.5 445.4h0.9v0.9h-0.9zM332.4 449.2h0.9v0.9h-0.9zM333.7 455.2h0.9v0.9h-0.9zM327.7 438.2h0.9v0.9h-0.9zM312.7 442.7h0.9v0.9h-0.9zM323.2 458.1h0.9v0.9h-0.9zM344.2 447.7h0.9v0.9h-0.9zM331.9 449.3h0.9v0.9h-0.9zM313.6 454.4h0.9v0.9h-0.9zM322.0 451.7h0.9v0.9h-0.9zM332.1 444.2h0.9v0.9h-0.9zM322.3 453.9h0.9v0.9h-0.9zM337.0 458.4h0.9v0.9h-0.9zM323.8 441.4h0.9v0.9h-0.9zM332.0 440.4h0.9v0.9h-0.9zM310.2 439.0h0.9v0.9h-0.9zM321.9 439.8h0.9v0.9h-0.9zM314.2 455.0h0.9v0.9h-0.9zM311.1 435.5h0.9v0.9h-0.9zM323.0 451.9h0.9v0.9h-0.9zM317.2 437.6h0.9v0.9h-0.9zM346.7 442.5h0.9v0.9h-0.9zM335.4 435.4h0.9v0.9h-0.9zM338.9 451.2h0.9v0.9h-0.9zM325.3 441.3h0.9v0.9h-0.9zM338.6 458.5h0.9v0.9h-0.9zM323.5 448.5h0.9v0.9h-0.9zM316.3 452.6h0.9v0.9h-0.9zM319.9 451.5h0.9v0.9h-0.9zM333.2 448.2h0.9v0.9h-0.9zM338.9 439.9h0.9v0.9h-0.9zM334.8 448.0h0.9v0.9h-0.9zM324.0 450.9h0.9v0.9h-0.9zM336.8 431.1h0.9v0.9h-0.9zM323.8 446.0h0.9v0.9h-0.9zM331.0 446.8h0.9v0.9h-0.9zM318.6 449.1h0.9v0.9h-0.9zM331.6 440.8h0.9v0.9h-0.9zM325.0 445.8h0.9v0.9h-0.9zM317.4 446.8h0.9v0.9h-0.9zM343.0 442.6h0.9v0.9h-0.9zM329.0 451.6h0.9v0.9h-0.9zM335.2 443.9h0.9v0.9h-0.9zM310.9 453.3h0.9v0.9h-0.9zM333.0 452.4h0.9v0.9h-0.9zM324.1 444.8h0.9v0.9h-0.9zM318.2 454.7h0.9v0.9h-0.9zM317.9 445.0h0.9v0.9h-0.9zM328.1 444.4h0.9v0.9h-0.9zM323.7 441.9h0.9v0.9h-0.9zM333.7 454.2h0.9v0.9h-0.9zM326.4 447.6h0.9v0.9h-0.9zM331.5 450.8h0.9v0.9h-0.9zM324.9 450.7h0.9v0.9h-0.9zM324.5 437.2h0.9v0.9h-0.9zM317.5 451.7h0.9v0.9h-0.9zM318.5 437.9h0.9v0.9h-0.9zM320.6 441.7h0.9v0.9h-0.9zM324.1 457.2h0.9v0.9h-0.9zM343.3 446.6h0.9v0.9h-0.9zM327.8 437.9h0.9v0.9h-0.9zM329.9 451.1h0.9v0.9h-0.9zM316.7 452.9h0.9v0.9h-0.9zM316.9 447.9h0.9v0.9h-0.9zM325.7 447.3h0.9v0.9h-0.9zM326.1 450.6h0.9v0.9h-0.9zM317.1 448.5h0.9v0.9h-0.9zM330.0 455.4h0.9v0.9h-0.9zM314.6 443.1h0.9v0.9h-0.9zM318.6 435.3h0.9v0.9h-0.9zM327.3 463.3h0.9v0.9h-0.9zM317.0 443.9h0.9v0.9h-0.9zM318.9 446.0h0.9v0.9h-0.9zM314.6 463.6h0.9v0.9h-0.9zM312.8 452.6h0.9v0.9h-0.9zM332.6 448.0h0.9v0.9h-0.9zM337.2 431.8h0.9v0.9h-0.9zM326.8 445.4h0.9v0.9h-0.9zM325.3 439.9h0.9v0.9h-0.9zM313.0 439.8h0.9v0.9h-0.9zM323.2 451.8h0.9v0.9h-0.9zM342.1 444.4h0.9v0.9h-0.9zM318.9 437.7h0.9v0.9h-0.9zM329.7 430.2h0.9v0.9h-0.9zM310.1 462.9h0.9v0.9h-0.9zM317.6 450.9h0.9v0.9h-0.9zM335.8 435.8h0.9v0.9h-0.9zM324.3 456.8h0.9v0.9h-0.9zM331.4 458.9h0.9v0.9h-0.9zM347.6 464.6h0.9v0.9h-0.9zM329.9 441.2h0.9v0.9h-0.9zM331.3 440.8h0.9v0.9h-0.9zM323.2 446.1h0.9v0.9h-0.9zM317.2 456.3h0.9v0.9h-0.9zM321.4 440.0h0.9v0.9h-0.9zM322.6 446.3h0.9v0.9h-0.9zM328.8 446.2h0.9v0.9h-0.9zM331.8 442.8h0.9v0.9h-0.9zM321.4 451.7h0.9v0.9h-0.9zM315.0 448.5h0.9v0.9h-0.9zM324.6 455.6h0.9v0.9h-0.9zM319.4 447.3h0.9v0.9h-0.9zM336.8 451.2h0.9v0.9h-0.9zM308.8 443.9h0.9v0.9h-0.9zM330.1 444.0h0.9v0.9h-0.9zM326.4 454.4h0.9v0.9h-0.9zM342.3 440.6h0.9v0.9h-0.9zM318.2 455.3h0.9v0.9h-0.9zM325.3 457.8h0.9v0.9h-0.9zM324.7 434.7h0.9v0.9h-0.9zM326.6 440.8h0.9v0.9h-0.9zM325.9 432.3h0.9v0.9h-0.9zM330.4 437.5h0.9v0.9h-0.9zM318.7 454.3h0.9v0.9h-0.9zM320.4 438.7h0.9v0.9h-0.9zM337.3 443.7h0.9v0.9h-0.9zM332.4 445.8h0.9v0.9h-0.9zM326.5 445.2h0.9v0.9h-0.9zM339.2 431.7h0.9v0.9h-0.9zM315.5 452.2h0.9v0.9h-0.9zM333.9 454.2h0.9v0.9h-0.9zM313.2 449.6h0.9v0.9h-0.9zM327.8 462.5h0.9v0.9h-0.9zM344.1 450.9h0.9v0.9h-0.9zM329.1 453.3h0.9v0.9h-0.9zM321.7 449.2h0.9v0.9h-0.9zM326.5 447.9h0.9v0.9h-0.9zM329.4 446.8h0.9v0.9h-0.9zM317.1 456.6h0.9v0.9h-0.9zM332.0 440.1h0.9v0.9h-0.9zM328.7 439.0h0.9v0.9h-0.9zM325.9 440.4h0.9v0.9h-0.9zM316.7 450.4h0.9v0.9h-0.9zM313.7 453.3h0.9v0.9h-0.9zM338.7 444.5h0.9v0.9h-0.9zM315.2 450.1h0.9v0.9h-0.9zM320.4 433.3h0.9v0.9h-0.9zM344.2 442.3h0.9v0.9h-0.9zM341.0 454.5h0.9v0.9h-0.9zM329.4 450.2h0.9v0.9h-0.9zM319.5 452.2h0.9v0.9h-0.9zM316.8 450.1h0.9v0.9h-0.9zM314.1 447.0h0.9v0.9h-0.9zM326.4 447.4h0.9v0.9h-0.9zM325.7 451.2h0.9v0.9h-0.9zM339.9 442.1h0.9v0.9h-0.9zM324.8 446.7h0.9v0.9h-0.9zM329.8 460.6h0.9v0.9h-0.9zM325.7 438.5h0.9v0.9h-0.9zM330.0 440.5h0.9v0.9h-0.9zM307.7 437.2h0.9v0.9h-0.9zM322.7 434.4h0.9v0.9h-0.9zM318.9 450.7h0.9v0.9h-0.9zM342.5 445.2h0.9v0.9h-0.9zM321.7 444.4h0.9v0.9h-0.9zM307.6 445.2h0.9v0.9h-0.9zM312.0 438.8h0.9v0.9h-0.9zM315.3 437.4h0.9v0.9h-0.9zM311.8 454.5h0.9v0.9h-0.9zM330.0 443.8h0.9v0.9h-0.9zM323.0 447.0h0.9v0.9h-0.9zM327.6 450.1h0.9v0.9h-0.9zM319.8 446.2h0.9v0.9h-0.9zM332.7 439.4h0.9v0.9h-0.9zM319.0 455.0h0.9v0.9h-0.9zM343.1 441.3h0.9v0.9h-0.9zM324.2 438.9h0.9v0.9h-0.9zM323.6 444.9h0.9v0.9h-0.9zM331.4 453.5h0.9v0.9h-0.9zM326.8 447.2h0.9v0.9h-0.9zM331.2 444.8h0.9v0.9h-0.9zM335.3 459.5h0.9v0.9h-0.9zM330.9 461.5h0.9v0.9h-0.9zM316.4 450.9h0.9v0.9h-0.9zM325.1 440.1h0.9v0.9h-0.9zM325.8 445.2h0.9v0.9h-0.9zM327.2 447.8h0.9v0.9h-0.9zM329.5 443.8h0.9v0.9h-0.9zM322.6 454.6h0.9v0.9h-0.9zM335.3 448.0h0.9v0.9h-0.9zM328.8 437.1h0.9v0.9h-0.9zM318.2 445.2h0.9v0.9h-0.9zM329.9 459.5h0.9v0.9h-0.9zM324.1 445.9h0.9v0.9h-0.9zM332.7 458.2h0.9v0.9h-0.9zM325.1 441.7h0.9v0.9h-0.9zM312.0 454.1h0.9v0.9h-0.9zM313.0 441.6h0.9v0.9h-0.9zM328.6 441.5h0.9v0.9h-0.9zM330.1 445.2h0.9v0.9h-0.9zM317.1 454.6h0.9v0.9h-0.9zM323.8 443.7h0.9v0.9h-0.9zM337.4 437.9h0.9v0.9h-0.9zM311.3 446.7h0.9v0.9h-0.9zM322.2 430.0h0.9v0.9h-0.9zM319.5 444.3h0.9v0.9h-0.9zM313.8 448.3h0.9v0.9h-0.9zM332.6 466.4h0.9v0.9h-0.9zM309.5 454.9h0.9v0.9h-0.9zM314.4 432.2h0.9v0.9h-0.9zM322.2 439.3h0.9v0.9h-0.9zM316.5 439.0h0.9v0.9h-0.9zM327.0 444.9h0.9v0.9h-0.9zM326.5 448.5h0.9v0.9h-0.9zM326.7 446.9h0.9v0.9h-0.9zM310.5 452.4h0.9v0.9h-0.9zM318.6 447.0h0.9v0.9h-0.9zM323.7 447.6h0.9v0.9h-0.9zM315.7 441.2h0.9v0.9h-0.9zM313.2 443.7h0.9v0.9h-0.9zM329.4 438.5h0.9v0.9h-0.9zM325.1 461.7h0.9v0.9h-0.9zM308.3 447.0h0.9v0.9h-0.9zM325.5 444.3h0.9v0.9h-0.9zM316.8 452.9h0.9v0.9h-0.9zM321.2 448.5h0.9v0.9h-0.9zM311.3 457.3h0.9v0.9h-0.9zM341.6 444.0h0.9v0.9h-0.9zM326.5 441.7h0.9v0.9h-0.9zM334.5 450.3h0.9v0.9h-0.9zM324.6 445.6h0.9v0.9h-0.9zM312.8 448.4h0.9v0.9h-0.9zM325.9 430.3h0.9v0.9h-0.9zM323.5 430.1h0.9v0.9h-0.9zM337.6 447.6h0.9v0.9h-0.9zM327.2 439.7h0.9v0.9h-0.9zM340.4 449.8h0.9v0.9h-0.9zM323.5 445.0h0.9v0.9h-0.9zM314.1 443.2h0.9v0.9h-0.9zM319.2 435.9h0.9v0.9h-0.9zM333.2 432.6h0.9v0.9h-0.9zM326.5 457.6h0.9v0.9h-0.9zM324.9 449.6h0.9v0.9h-0.9zM318.2 437.3h0.9v0.9h-0.9zM339.7 433.6h0.9v0.9h-0.9zM326.6 436.7h0.9v0.9h-0.9zM327.8 452.1h0.9v0.9h-0.9zM333.9 446.6h0.9v0.9h-0.9zM322.8 443.7h0.9v0.9h-0.9zM322.7 445.8h0.9v0.9h-0.9zM330.5 444.7h0.9v0.9h-0.9zM320.5 466.6h0.9v0.9h-0.9zM310.9 447.5h0.9v0.9h-0.9zM346.9 435.0h0.9v0.9h-0.9zM336.5 448.3h0.9v0.9h-0.9zM332.9 452.4h0.9v0.9h-0.9zM308.0 454.7h0.9v0.9h-0.9zM319.2 433.2h0.9v0.9h-0.9zM327.2 437.4h0.9v0.9h-0.9zM320.7 449.1h0.9v0.9h-0.9zM307.8 453.4h0.9v0.9h-0.9zM330.0 447.4h0.9v0.9h-0.9zM331.4 445.6h0.9v0.9h-0.9zM337.4 442.6h0.9v0.9h-0.9zM324.5 452.6h0.9v0.9h-0.9zM327.1 432.8h0.9v0.9h-0.9zM319.4 456.5h0.9v0.9h-0.9zM317.3 433.3h0.9v0.9h-0.9zM326.8 437.8h0.9v0.9h-0.9zM334.9 440.7h0.9v0.9h-0.9zM311.8 440.2h0.9v0.9h-0.9zM325.3 446.9h0.9v0.9h-0.9zM331.3 439.1h0.9v0.9h-0.9zM317.5 449.6h0.9v0.9h-0.9zM327.1 453.7h0.9v0.9h-0.9zM307.6 447.9h0.9v0.9h-0.9zM326.5 450.8h0.9v0.9h-0.9zM319.3 448.4h0.9v0.9h-0.9zM333.5 438.6h0.9v0.9h-0.9zM325.4 465.6h0.9v0.9h-0.9zM323.6 448.8h0.9v0.9h-0.9z" fill="#e6706a" fill-opacity="0.5"/>
<ellipse cx="319" cy="440.5" rx="10" ry="8.5" fill="url(#rg)" fill-opacity="0.65"/>
<path d="M319.8 441.3h0.9v0.9h-0.9zM313.2 439.2h0.9v0.9h-0.9zM323.9 435.9h0.9v0.9h-0.9zM318.1 440.5h0.9v0.9h-0.9zM323.5 437.6h0.9v0.9h-0.9zM325.6 441.9h0.9v0.9h-0.9zM320.4 439.6h0.9v0.9h-0.9zM315.9 435.3h0.9v0.9h-0.9zM322.8 440.5h0.9v0.9h-0.9zM323.2 443.9h0.9v0.9h-0.9zM314.8 441.1h0.9v0.9h-0.9zM315.8 432.4h0.9v0.9h-0.9zM323.9 441.0h0.9v0.9h-0.9zM319.6 446.0h0.9v0.9h-0.9zM313.5 445.7h0.9v0.9h-0.9zM316.7 442.1h0.9v0.9h-0.9zM319.5 436.9h0.9v0.9h-0.9zM312.0 445.2h0.9v0.9h-0.9zM317.0 442.3h0.9v0.9h-0.9zM316.8 441.6h0.9v0.9h-0.9zM318.2 440.3h0.9v0.9h-0.9zM323.2 447.9h0.9v0.9h-0.9zM314.3 438.0h0.9v0.9h-0.9zM321.0 439.1h0.9v0.9h-0.9zM318.7 444.0h0.9v0.9h-0.9zM319.1 436.1h0.9v0.9h-0.9zM323.4 441.3h0.9v0.9h-0.9zM321.3 441.3h0.9v0.9h-0.9zM310.1 446.1h0.9v0.9h-0.9zM315.5 445.7h0.9v0.9h-0.9zM313.2 441.0h0.9v0.9h-0.9zM320.5 438.0h0.9v0.9h-0.9zM321.3 443.0h0.9v0.9h-0.9zM316.5 443.4h0.9v0.9h-0.9zM319.6 443.5h0.9v0.9h-0.9zM315.2 437.9h0.9v0.9h-0.9zM316.8 438.4h0.9v0.9h-0.9zM317.2 443.0h0.9v0.9h-0.9zM320.9 437.3h0.9v0.9h-0.9zM318.2 442.7h0.9v0.9h-0.9zM315.3 439.1h0.9v0.9h-0.9zM316.9 436.4h0.9v0.9h-0.9zM314.1 437.3h0.9v0.9h-0.9zM322.4 439.0h0.9v0.9h-0.9zM320.9 438.2h0.9v0.9h-0.9zM311.8 438.2h0.9v0.9h-0.9zM323.2 441.0h0.9v0.9h-0.9zM316.6 441.9h0.9v0.9h-0.9zM319.0 438.3h0.9v0.9h-0.9zM316.1 441.9h0.9v0.9h-0.9zM317.0 433.8h0.9v0.9h-0.9zM320.6 435.2h0.9v0.9h-0.9zM310.5 434.5h0.9v0.9h-0.9zM308.5 446.0h0.9v0.9h-0.9zM317.7 445.0h0.9v0.9h-0.9zM320.6 439.2h0.9v0.9h-0.9zM311.5 442.9h0.9v0.9h-0.9zM318.0 440.0h0.9v0.9h-0.9zM312.3 446.4h0.9v0.9h-0.9zM314.9 442.0h0.9v0.9h-0.9zM319.0 448.0h0.9v0.9h-0.9zM327.1 442.6h0.9v0.9h-0.9zM317.8 445.6h0.9v0.9h-0.9zM323.4 433.4h0.9v0.9h-0.9zM319.4 437.7h0.9v0.9h-0.9zM325.5 447.5h0.9v0.9h-0.9zM315.2 439.1h0.9v0.9h-0.9zM315.0 443.1h0.9v0.9h-0.9zM323.6 434.1h0.9v0.9h-0.9zM311.3 443.4h0.9v0.9h-0.9zM320.3 437.1h0.9v0.9h-0.9zM321.1 445.6h0.9v0.9h-0.9zM326.5 443.0h0.9v0.9h-0.9zM316.1 444.4h0.9v0.9h-0.9zM321.7 438.4h0.9v0.9h-0.9zM326.5 446.9h0.9v0.9h-0.9zM330.0 441.2h0.9v0.9h-0.9zM317.6 439.8h0.9v0.9h-0.9zM319.7 437.0h0.9v0.9h-0.9zM312.4 448.3h0.9v0.9h-0.9zM322.9 442.6h0.9v0.9h-0.9zM324.2 438.2h0.9v0.9h-0.9zM317.7 439.9h0.9v0.9h-0.9zM326.1 440.2h0.9v0.9h-0.9zM320.6 438.8h0.9v0.9h-0.9zM321.4 443.3h0.9v0.9h-0.9zM319.3 439.0h0.9v0.9h-0.9zM328.5 436.6h0.9v0.9h-0.9zM315.7 443.9h0.9v0.9h-0.9zM314.3 436.4h0.9v0.9h-0.9zM321.4 444.7h0.9v0.9h-0.9zM330.4 449.2h0.9v0.9h-0.9zM321.5 449.1h0.9v0.9h-0.9zM313.3 440.0h0.9v0.9h-0.9zM311.8 446.9h0.9v0.9h-0.9zM316.4 441.6h0.9v0.9h-0.9zM317.4 441.7h0.9v0.9h-0.9zM317.6 443.8h0.9v0.9h-0.9zM324.3 439.1h0.9v0.9h-0.9zM319.0 439.6h0.9v0.9h-0.9zM315.3 447.8h0.9v0.9h-0.9zM309.6 432.7h0.9v0.9h-0.9zM311.0 446.1h0.9v0.9h-0.9zM322.2 445.4h0.9v0.9h-0.9zM313.6 440.1h0.9v0.9h-0.9zM329.3 434.9h0.9v0.9h-0.9zM309.2 434.4h0.9v0.9h-0.9zM317.7 444.5h0.9v0.9h-0.9zM323.3 440.0h0.9v0.9h-0.9zM320.9 440.3h0.9v0.9h-0.9zM317.2 446.6h0.9v0.9h-0.9zM319.7 439.9h0.9v0.9h-0.9zM319.3 441.4h0.9v0.9h-0.9zM321.5 445.5h0.9v0.9h-0.9zM319.2 442.7h0.9v0.9h-0.9zM317.7 438.3h0.9v0.9h-0.9zM328.7 438.9h0.9v0.9h-0.9zM327.9 434.2h0.9v0.9h-0.9zM327.8 435.8h0.9v0.9h-0.9zM318.9 441.1h0.9v0.9h-0.9zM319.4 440.7h0.9v0.9h-0.9zM315.8 444.3h0.9v0.9h-0.9zM317.8 436.1h0.9v0.9h-0.9zM323.4 442.9h0.9v0.9h-0.9zM316.0 435.0h0.9v0.9h-0.9zM324.2 441.3h0.9v0.9h-0.9zM318.4 437.8h0.9v0.9h-0.9zM313.6 446.8h0.9v0.9h-0.9zM321.3 437.4h0.9v0.9h-0.9zM322.2 442.0h0.9v0.9h-0.9zM320.0 433.1h0.9v0.9h-0.9zM321.8 443.7h0.9v0.9h-0.9zM313.9 443.0h0.9v0.9h-0.9zM318.2 441.6h0.9v0.9h-0.9zM314.2 444.1h0.9v0.9h-0.9zM319.3 440.3h0.9v0.9h-0.9zM320.7 436.1h0.9v0.9h-0.9zM321.5 448.3h0.9v0.9h-0.9zM322.4 440.6h0.9v0.9h-0.9zM314.9 441.6h0.9v0.9h-0.9zM319.0 439.4h0.9v0.9h-0.9zM316.7 440.3h0.9v0.9h-0.9zM322.4 441.0h0.9v0.9h-0.9zM321.0 441.9h0.9v0.9h-0.9zM322.8 440.1h0.9v0.9h-0.9zM319.3 445.0h0.9v0.9h-0.9zM322.0 447.4h0.9v0.9h-0.9zM312.1 441.3h0.9v0.9h-0.9zM315.8 441.8h0.9v0.9h-0.9zM320.9 442.5h0.9v0.9h-0.9zM314.6 443.8h0.9v0.9h-0.9zM324.1 441.5h0.9v0.9h-0.9zM319.9 447.3h0.9v0.9h-0.9zM323.9 438.7h0.9v0.9h-0.9zM325.0 442.8h0.9v0.9h-0.9zM314.6 438.0h0.9v0.9h-0.9zM310.2 437.2h0.9v0.9h-0.9zM319.4 444.8h0.9v0.9h-0.9zM319.0 438.8h0.9v0.9h-0.9zM317.8 437.9h0.9v0.9h-0.9zM317.1 448.5h0.9v0.9h-0.9zM319.7 435.9h0.9v0.9h-0.9zM318.8 437.7h0.9v0.9h-0.9zM314.0 436.9h0.9v0.9h-0.9zM328.1 436.8h0.9v0.9h-0.9zM315.3 440.0h0.9v0.9h-0.9zM324.6 450.3h0.9v0.9h-0.9zM322.2 442.7h0.9v0.9h-0.9zM317.5 439.9h0.9v0.9h-0.9zM326.0 437.7h0.9v0.9h-0.9zM322.4 436.7h0.9v0.9h-0.9zM318.7 440.0h0.9v0.9h-0.9zM323.5 432.6h0.9v0.9h-0.9zM311.7 440.7h0.9v0.9h-0.9zM319.8 444.2h0.9v0.9h-0.9zM312.2 445.1h0.9v0.9h-0.9zM322.1 439.8h0.9v0.9h-0.9zM326.0 438.2h0.9v0.9h-0.9zM324.6 446.6h0.9v0.9h-0.9zM318.7 441.6h0.9v0.9h-0.9zM317.0 441.7h0.9v0.9h-0.9zM321.6 438.7h0.9v0.9h-0.9zM319.1 442.3h0.9v0.9h-0.9zM313.1 441.1h0.9v0.9h-0.9zM320.0 447.5h0.9v0.9h-0.9zM321.6 439.3h0.9v0.9h-0.9zM318.8 443.5h0.9v0.9h-0.9zM314.4 442.8h0.9v0.9h-0.9zM315.2 445.1h0.9v0.9h-0.9zM324.4 437.3h0.9v0.9h-0.9zM323.2 444.2h0.9v0.9h-0.9zM313.3 439.3h0.9v0.9h-0.9zM318.8 444.9h0.9v0.9h-0.9zM315.9 445.8h0.9v0.9h-0.9zM324.4 440.2h0.9v0.9h-0.9zM317.9 441.8h0.9v0.9h-0.9zM321.4 443.1h0.9v0.9h-0.9zM312.3 438.3h0.9v0.9h-0.9zM311.9 445.9h0.9v0.9h-0.9zM323.7 440.1h0.9v0.9h-0.9zM322.5 436.1h0.9v0.9h-0.9zM319.3 442.9h0.9v0.9h-0.9zM311.5 441.1h0.9v0.9h-0.9zM313.6 445.0h0.9v0.9h-0.9zM318.7 439.2h0.9v0.9h-0.9zM314.1 445.2h0.9v0.9h-0.9zM319.9 438.3h0.9v0.9h-0.9zM316.4 437.2h0.9v0.9h-0.9zM325.0 438.8h0.9v0.9h-0.9zM327.8 439.1h0.9v0.9h-0.9zM314.7 439.6h0.9v0.9h-0.9zM318.6 444.0h0.9v0.9h-0.9zM331.2 448.8h0.9v0.9h-0.9zM322.4 434.7h0.9v0.9h-0.9zM326.8 448.9h0.9v0.9h-0.9zM312.1 439.8h0.9v0.9h-0.9zM321.3 450.2h0.9v0.9h-0.9zM324.0 441.6h0.9v0.9h-0.9zM308.1 445.3h0.9v0.9h-0.9zM313.2 438.3h0.9v0.9h-0.9zM312.2 443.2h0.9v0.9h-0.9zM329.0 441.8h0.9v0.9h-0.9zM323.7 437.8h0.9v0.9h-0.9zM313.2 442.2h0.9v0.9h-0.9zM310.9 437.0h0.9v0.9h-0.9zM319.7 436.4h0.9v0.9h-0.9zM321.6 450.8h0.9v0.9h-0.9zM323.4 446.9h0.9v0.9h-0.9zM315.2 439.9h0.9v0.9h-0.9zM319.0 443.0h0.9v0.9h-0.9zM313.6 437.6h0.9v0.9h-0.9zM324.3 443.6h0.9v0.9h-0.9zM328.0 448.0h0.9v0.9h-0.9zM321.3 437.9h0.9v0.9h-0.9zM316.0 436.6h0.9v0.9h-0.9zM323.6 445.3h0.9v0.9h-0.9zM326.5 438.6h0.9v0.9h-0.9zM325.4 438.4h0.9v0.9h-0.9zM319.4 438.3h0.9v0.9h-0.9zM321.5 441.6h0.9v0.9h-0.9zM319.6 430.9h0.9v0.9h-0.9zM321.4 444.9h0.9v0.9h-0.9zM323.9 435.3h0.9v0.9h-0.9zM309.1 446.5h0.9v0.9h-0.9zM319.3 439.0h0.9v0.9h-0.9zM313.9 437.6h0.9v0.9h-0.9zM313.6 437.4h0.9v0.9h-0.9zM321.4 433.0h0.9v0.9h-0.9zM327.6 446.3h0.9v0.9h-0.9zM310.5 441.6h0.9v0.9h-0.9zM320.0 444.7h0.9v0.9h-0.9zM326.5 438.1h0.9v0.9h-0.9zM317.1 444.8h0.9v0.9h-0.9zM320.8 448.5h0.9v0.9h-0.9zM313.2 435.0h0.9v0.9h-0.9zM318.2 441.0h0.9v0.9h-0.9zM316.6 443.4h0.9v0.9h-0.9zM315.7 443.1h0.9v0.9h-0.9zM313.4 447.9h0.9v0.9h-0.9zM323.4 441.5h0.9v0.9h-0.9zM315.1 439.1h0.9v0.9h-0.9zM314.4 434.3h0.9v0.9h-0.9zM314.2 445.9h0.9v0.9h-0.9zM317.3 445.0h0.9v0.9h-0.9zM319.9 438.5h0.9v0.9h-0.9zM313.3 439.1h0.9v0.9h-0.9zM319.3 437.3h0.9v0.9h-0.9zM315.6 435.8h0.9v0.9h-0.9zM326.0 433.8h0.9v0.9h-0.9zM321.4 435.3h0.9v0.9h-0.9zM317.2 448.7h0.9v0.9h-0.9zM315.3 442.6h0.9v0.9h-0.9zM313.5 448.6h0.9v0.9h-0.9zM325.5 447.3h0.9v0.9h-0.9zM315.3 433.6h0.9v0.9h-0.9zM312.8 433.8h0.9v0.9h-0.9zM324.8 441.8h0.9v0.9h-0.9zM318.0 436.9h0.9v0.9h-0.9zM321.2 439.3h0.9v0.9h-0.9zM316.3 441.7h0.9v0.9h-0.9zM313.8 434.0h0.9v0.9h-0.9zM324.3 448.5h0.9v0.9h-0.9zM309.3 442.9h0.9v0.9h-0.9zM311.4 437.8h0.9v0.9h-0.9zM317.1 444.8h0.9v0.9h-0.9zM310.4 447.1h0.9v0.9h-0.9zM318.9 448.0h0.9v0.9h-0.9zM314.7 430.7h0.9v0.9h-0.9zM322.8 435.7h0.9v0.9h-0.9zM331.4 442.2h0.9v0.9h-0.9zM324.2 435.8h0.9v0.9h-0.9zM318.3 441.5h0.9v0.9h-0.9zM309.7 434.3h0.9v0.9h-0.9zM319.8 442.9h0.9v0.9h-0.9zM316.5 449.5h0.9v0.9h-0.9zM326.2 431.8h0.9v0.9h-0.9zM315.8 435.2h0.9v0.9h-0.9zM313.4 438.3h0.9v0.9h-0.9zM309.0 442.1h0.9v0.9h-0.9zM325.3 446.6h0.9v0.9h-0.9zM310.4 441.7h0.9v0.9h-0.9zM321.4 438.5h0.9v0.9h-0.9zM327.8 443.6h0.9v0.9h-0.9zM325.5 441.1h0.9v0.9h-0.9zM322.1 444.1h0.9v0.9h-0.9zM313.9 432.8h0.9v0.9h-0.9zM319.1 436.0h0.9v0.9h-0.9zM323.7 435.6h0.9v0.9h-0.9zM321.4 434.6h0.9v0.9h-0.9zM329.0 441.6h0.9v0.9h-0.9zM312.8 440.5h0.9v0.9h-0.9zM319.5 429.3h0.9v0.9h-0.9zM313.2 442.0h0.9v0.9h-0.9zM314.6 438.8h0.9v0.9h-0.9zM326.2 446.1h0.9v0.9h-0.9zM319.8 442.5h0.9v0.9h-0.9zM327.1 442.2h0.9v0.9h-0.9zM311.3 441.5h0.9v0.9h-0.9zM312.6 436.9h0.9v0.9h-0.9zM319.1 440.2h0.9v0.9h-0.9zM318.4 444.0h0.9v0.9h-0.9zM317.6 441.5h0.9v0.9h-0.9zM322.6 438.2h0.9v0.9h-0.9zM317.5 439.1h0.9v0.9h-0.9zM313.0 436.8h0.9v0.9h-0.9zM321.1 441.0h0.9v0.9h-0.9zM311.5 443.8h0.9v0.9h-0.9zM322.6 444.7h0.9v0.9h-0.9zM325.1 441.1h0.9v0.9h-0.9zM321.8 439.7h0.9v0.9h-0.9z" fill="#c81c10" fill-opacity="0.45"/>
<path d="M332.7 441.5h0.9v0.9h-0.9zM340.1 443.6h0.9v0.9h-0.9zM334.7 437.8h0.9v0.9h-0.9zM334.7 439.5h0.9v0.9h-0.9zM336.3 445.2h0.9v0.9h-0.9zM341.6 439.2h0.9v0.9h-0.9zM342.9 440.7h0.9v0.9h-0.9zM337.5 433.3h0.9v0.9h-0.9zM345.2 439.2h0.9v0.9h-0.9zM343.0 444.3h0.9v0.9h-0.9zM347.5 443.2h0.9v0.9h-0.9zM338.1 439.1h0.9v0.9h-0.9zM329.4 444.7h0.9v0.9h-0.9zM334.3 448.0h0.9v0.9h-0.9zM344.0 443.7h0.9v0.9h-0.9zM342.1 437.6h0.9v0.9h-0.9zM341.4 441.6h0.9v0.9h-0.9zM345.3 441.7h0.9v0.9h-0.9zM326.8 447.5h0.9v0.9h-0.9zM343.7 434.8h0.9v0.9h-0.9zM337.8 444.4h0.9v0.9h-0.9zM342.0 436.4h0.9v0.9h-0.9zM333.9 439.1h0.9v0.9h-0.9zM335.5 438.5h0.9v0.9h-0.9zM339.0 433.8h0.9v0.9h-0.9zM340.0 436.2h0.9v0.9h-0.9zM335.2 438.1h0.9v0.9h-0.9zM341.9 443.0h0.9v0.9h-0.9zM335.2 444.2h0.9v0.9h-0.9zM332.8 443.4h0.9v0.9h-0.9zM338.8 442.3h0.9v0.9h-0.9zM331.4 444.2h0.9v0.9h-0.9zM340.7 444.3h0.9v0.9h-0.9zM335.6 448.1h0.9v0.9h-0.9zM347.1 449.3h0.9v0.9h-0.9zM339.4 452.1h0.9v0.9h-0.9zM334.1 431.7h0.9v0.9h-0.9zM333.6 438.0h0.9v0.9h-0.9zM334.8 441.2h0.9v0.9h-0.9zM339.5 440.2h0.9v0.9h-0.9zM332.8 440.1h0.9v0.9h-0.9zM340.3 436.1h0.9v0.9h-0.9zM330.7 439.3h0.9v0.9h-0.9zM336.2 461.8h0.9v0.9h-0.9zM339.3 438.5h0.9v0.9h-0.9zM336.3 438.2h0.9v0.9h-0.9zM341.6 455.0h0.9v0.9h-0.9zM340.2 438.6h0.9v0.9h-0.9zM339.0 457.9h0.9v0.9h-0.9zM333.4 438.2h0.9v0.9h-0.9zM335.4 439.4h0.9v0.9h-0.9zM326.2 435.8h0.9v0.9h-0.9zM336.4 446.6h0.9v0.9h-0.9zM332.8 435.2h0.9v0.9h-0.9zM336.2 434.0h0.9v0.9h-0.9zM328.3 442.2h0.9v0.9h-0.9zM339.6 439.4h0.9v0.9h-0.9zM340.1 445.1h0.9v0.9h-0.9zM341.9 440.6h0.9v0.9h-0.9zM340.5 438.6h0.9v0.9h-0.9zM338.9 447.1h0.9v0.9h-0.9zM346.5 444.5h0.9v0.9h-0.9zM335.5 438.7h0.9v0.9h-0.9zM332.1 446.7h0.9v0.9h-0.9zM344.1 437.5h0.9v0.9h-0.9zM335.7 441.1h0.9v0.9h-0.9zM330.5 434.7h0.9v0.9h-0.9zM340.6 438.0h0.9v0.9h-0.9zM340.8 444.2h0.9v0.9h-0.9zM344.9 438.0h0.9v0.9h-0.9zM345.1 439.4h0.9v0.9h-0.9zM338.1 449.7h0.9v0.9h-0.9zM335.4 435.2h0.9v0.9h-0.9zM341.4 440.1h0.9v0.9h-0.9zM330.1 449.8h0.9v0.9h-0.9zM334.5 446.7h0.9v0.9h-0.9zM337.6 437.3h0.9v0.9h-0.9zM338.5 433.8h0.9v0.9h-0.9zM343.5 436.0h0.9v0.9h-0.9zM338.2 456.5h0.9v0.9h-0.9zM336.7 442.0h0.9v0.9h-0.9zM331.2 451.3h0.9v0.9h-0.9zM339.1 443.3h0.9v0.9h-0.9zM330.7 439.6h0.9v0.9h-0.9zM337.2 439.4h0.9v0.9h-0.9zM332.5 454.8h0.9v0.9h-0.9zM339.7 447.0h0.9v0.9h-0.9zM331.8 449.6h0.9v0.9h-0.9zM335.4 439.9h0.9v0.9h-0.9zM338.8 441.2h0.9v0.9h-0.9zM341.1 435.6h0.9v0.9h-0.9zM338.4 434.9h0.9v0.9h-0.9zM344.8 449.3h0.9v0.9h-0.9zM336.8 441.0h0.9v0.9h-0.9zM337.2 444.8h0.9v0.9h-0.9zM340.8 444.7h0.9v0.9h-0.9zM341.8 444.0h0.9v0.9h-0.9zM333.5 445.7h0.9v0.9h-0.9zM335.0 435.7h0.9v0.9h-0.9zM339.7 440.7h0.9v0.9h-0.9zM324.9 446.7h0.9v0.9h-0.9zM338.0 444.6h0.9v0.9h-0.9zM331.5 440.7h0.9v0.9h-0.9zM334.8 441.5h0.9v0.9h-0.9zM343.5 436.4h0.9v0.9h-0.9zM336.0 439.7h0.9v0.9h-0.9zM339.6 432.5h0.9v0.9h-0.9zM341.2 438.4h0.9v0.9h-0.9zM344.9 449.1h0.9v0.9h-0.9zM336.3 438.2h0.9v0.9h-0.9zM335.7 437.7h0.9v0.9h-0.9zM342.7 453.5h0.9v0.9h-0.9zM331.6 437.1h0.9v0.9h-0.9zM338.6 443.3h0.9v0.9h-0.9zM340.1 434.4h0.9v0.9h-0.9zM341.9 439.9h0.9v0.9h-0.9zM341.0 440.7h0.9v0.9h-0.9zM330.9 447.3h0.9v0.9h-0.9zM336.8 438.5h0.9v0.9h-0.9zM331.0 439.5h0.9v0.9h-0.9zM344.0 449.2h0.9v0.9h-0.9zM341.4 438.6h0.9v0.9h-0.9zM338.7 443.3h0.9v0.9h-0.9zM334.9 439.8h0.9v0.9h-0.9zM339.0 436.3h0.9v0.9h-0.9zM336.6 435.3h0.9v0.9h-0.9zM334.7 438.9h0.9v0.9h-0.9zM339.8 445.3h0.9v0.9h-0.9zM334.4 442.7h0.9v0.9h-0.9zM337.2 433.1h0.9v0.9h-0.9zM344.1 444.8h0.9v0.9h-0.9zM340.4 444.0h0.9v0.9h-0.9zM329.7 449.0h0.9v0.9h-0.9zM336.5 441.0h0.9v0.9h-0.9zM330.5 442.4h0.9v0.9h-0.9zM329.6 432.7h0.9v0.9h-0.9zM344.4 430.1h0.9v0.9h-0.9zM346.3 442.5h0.9v0.9h-0.9zM335.0 454.5h0.9v0.9h-0.9zM342.3 447.0h0.9v0.9h-0.9z" fill="#e6706a" fill-opacity="0.55"/>
<rect x="306.90" y="428.90" width="41.40" height="41.10" fill="none" stroke="#7a7a7a" stroke-width="0.9"/>
<line x1="330.30" y1="428.90" x2="330.30" y2="470.00" stroke="#4a4a4a" stroke-width="0.85"/>
<line x1="306.90" y1="456.40" x2="348.30" y2="456.40" stroke="#4a4a4a" stroke-width="0.85"/>
<circle cx="330.3" cy="456.4" r="0.9" fill="#000"/>
<circle cx="307.5" cy="429.5" r="0.7" fill="#000"/>
<text x="308.50" y="432.50" font-size="2.8" fill="#444" stroke="#444" stroke-width="0.2">Q1</text>
<text x="339.80" y="445.40" font-size="2.6" fill="#555" stroke="#555" stroke-width="0.2">Q2</text>
<text x="341.80" y="465.00" font-size="2.6" fill="#555" stroke="#555" stroke-width="0.2">Q4</text>
<text x="293.70" y="431.80" font-size="5.3" fill="#444" stroke="#444" stroke-width="0.14">10<tspan font-size="3.50" dy="-2.12">4</tspan></text>
<text x="293.70" y="442.10" font-size="5.3" fill="#444" stroke="#444" stroke-width="0.14">10<tspan font-size="3.50" dy="-2.12">3</tspan></text>
<line x1="305.30" y1="439.90" x2="306.90" y2="439.90" stroke="#444" stroke-width="0.9"/>
<text x="293.70" y="452.10" font-size="5.3" fill="#444" stroke="#444" stroke-width="0.14">10<tspan font-size="3.50" dy="-2.12">2</tspan></text>
<line x1="305.30" y1="449.90" x2="306.90" y2="449.90" stroke="#444" stroke-width="0.9"/>
<text x="293.70" y="462.10" font-size="5.3" fill="#444" stroke="#444" stroke-width="0.14">10<tspan font-size="3.50" dy="-2.12">1</tspan></text>
<line x1="305.30" y1="459.90" x2="306.90" y2="459.90" stroke="#444" stroke-width="0.9"/>
<text x="293.70" y="471.80" font-size="5.3" fill="#444" stroke="#444" stroke-width="0.14">10<tspan font-size="3.50" dy="-2.12">0</tspan></text>
<text x="307.50" y="478.90" font-size="5.6" fill="#333" stroke="#333" stroke-width="0.14" text-anchor="middle">10<tspan font-size="3.70" dy="-2.24">0</tspan></text>
<text x="317.85" y="478.90" font-size="5.6" fill="#333" stroke="#333" stroke-width="0.14" text-anchor="middle">10<tspan font-size="3.70" dy="-2.24">1</tspan></text>
<text x="328.20" y="478.90" font-size="5.6" fill="#333" stroke="#333" stroke-width="0.14" text-anchor="middle">10<tspan font-size="3.70" dy="-2.24">2</tspan></text>
<text x="338.55" y="478.90" font-size="5.6" fill="#333" stroke="#333" stroke-width="0.14" text-anchor="middle">10<tspan font-size="3.70" dy="-2.24">3</tspan></text>
<text x="348.90" y="478.90" font-size="5.6" fill="#333" stroke="#333" stroke-width="0.14" text-anchor="middle">10<tspan font-size="3.70" dy="-2.24">4</tspan></text>
<text x="327.70" y="488.90" font-size="7" fill="#2a2a2a" text-anchor="middle" textLength="29.6" lengthAdjust="spacingAndGlyphs" stroke="#2a2a2a" stroke-width="0.18">APC Log comp</text>
<text x="288.00" y="450.80" font-size="7" fill="#2a2a2a" text-anchor="middle" textLength="29.8" lengthAdjust="spacingAndGlyphs" transform="rotate(-90 288.00 450.80)" stroke="#2a2a2a" stroke-width="0.15">FITC Log comp</text>
<text x="310.80" y="448.40" font-size="7" fill="#2a2a2a" stroke="#2a2a2a" stroke-width="0.2" textLength="13.1" lengthAdjust="spacingAndGlyphs">72%</text>
<text x="335.10" y="448.40" font-size="7" fill="#2a2a2a" stroke="#2a2a2a" stroke-width="0.2" textLength="13.1" lengthAdjust="spacingAndGlyphs">15%</text>
<text x="310.30" y="468.40" font-size="7" fill="#2a2a2a" stroke="#2a2a2a" stroke-width="0.2" textLength="13.1" lengthAdjust="spacingAndGlyphs">12%</text>
<text x="332.70" y="468.40" font-size="7" fill="#2a2a2a" stroke="#2a2a2a" stroke-width="0.2" textLength="9.0" lengthAdjust="spacingAndGlyphs">1%</text>
<text x="370.40" y="336.50" font-size="10.6" fill="#000" font-weight="bold">F</text>
<rect x="415.50" y="412.60" width="9.30" height="35.80" fill="#2d4e8a"/>
<line x1="420.15" y1="412.60" x2="420.15" y2="410.50" stroke="#111" stroke-width="0.9"/>
<line x1="418.85" y1="410.50" x2="421.45" y2="410.50" stroke="#111" stroke-width="1.0"/>
<rect x="424.80" y="410.50" width="9.30" height="37.90" fill="#b80c34"/>
<line x1="429.45" y1="410.50" x2="429.45" y2="408.51" stroke="#111" stroke-width="0.9"/>
<line x1="428.15" y1="408.51" x2="430.75" y2="408.51" stroke="#111" stroke-width="1.0"/>
<rect x="434.10" y="409.45" width="9.30" height="38.95" fill="#6cb33f"/>
<line x1="438.75" y1="409.45" x2="438.75" y2="401.87" stroke="#111" stroke-width="0.9"/>
<line x1="437.45" y1="401.87" x2="440.05" y2="401.87" stroke="#111" stroke-width="1.0"/>
<rect x="443.40" y="444.78" width="9.30" height="3.62" fill="#55236f"/>
<line x1="448.05" y1="444.78" x2="448.05" y2="443.27" stroke="#111" stroke-width="0.9"/>
<line x1="446.75" y1="443.27" x2="449.35" y2="443.27" stroke="#111" stroke-width="1.0"/>
<rect x="465.80" y="399.42" width="9.20" height="48.98" fill="#2d4e8a"/>
<line x1="470.40" y1="399.42" x2="470.40" y2="393.82" stroke="#111" stroke-width="0.9"/>
<line x1="469.10" y1="393.82" x2="471.70" y2="393.82" stroke="#111" stroke-width="1.0"/>
<rect x="475.00" y="373.18" width="9.20" height="75.22" fill="#b80c34"/>
<line x1="479.60" y1="373.18" x2="479.60" y2="356.85" stroke="#111" stroke-width="0.9"/>
<line x1="478.30" y1="356.85" x2="480.90" y2="356.85" stroke="#111" stroke-width="1.0"/>
<rect x="484.20" y="399.42" width="9.20" height="48.98" fill="#6cb33f"/>
<line x1="488.80" y1="399.42" x2="488.80" y2="388.22" stroke="#111" stroke-width="0.9"/>
<line x1="487.50" y1="388.22" x2="490.10" y2="388.22" stroke="#111" stroke-width="1.0"/>
<rect x="493.40" y="441.99" width="9.20" height="6.41" fill="#55236f"/>
<line x1="498.00" y1="441.99" x2="498.00" y2="438.72" stroke="#111" stroke-width="0.9"/>
<line x1="496.70" y1="438.72" x2="499.30" y2="438.72" stroke="#111" stroke-width="1.0"/>
<line x1="409.20" y1="352.50" x2="409.20" y2="449.00" stroke="#111" stroke-width="1.25"/>
<line x1="406.00" y1="448.40" x2="508.80" y2="448.40" stroke="#111" stroke-width="1.25"/>
<line x1="406.00" y1="448.40" x2="409.20" y2="448.40" stroke="#231f20" stroke-width="1.0"/>
<text x="402.90" y="451.06" font-size="7.4" fill="#222" text-anchor="end" stroke="#333" stroke-width="0.05">0</text>
<line x1="406.00" y1="436.74" x2="409.20" y2="436.74" stroke="#231f20" stroke-width="1.0"/>
<text x="402.90" y="439.40" font-size="7.4" fill="#222" text-anchor="end" stroke="#333" stroke-width="0.05">10</text>
<line x1="406.00" y1="425.07" x2="409.20" y2="425.07" stroke="#231f20" stroke-width="1.0"/>
<text x="402.90" y="427.74" font-size="7.4" fill="#222" text-anchor="end" stroke="#333" stroke-width="0.05">20</text>
<line x1="406.00" y1="413.41" x2="409.20" y2="413.41" stroke="#231f20" stroke-width="1.0"/>
<text x="402.90" y="416.08" font-size="7.4" fill="#222" text-anchor="end" stroke="#333" stroke-width="0.05">30</text>
<line x1="406.00" y1="401.75" x2="409.20" y2="401.75" stroke="#231f20" stroke-width="1.0"/>
<text x="402.90" y="404.41" font-size="7.4" fill="#222" text-anchor="end" stroke="#333" stroke-width="0.05">40</text>
<line x1="406.00" y1="390.09" x2="409.20" y2="390.09" stroke="#231f20" stroke-width="1.0"/>
<text x="402.90" y="392.75" font-size="7.4" fill="#222" text-anchor="end" stroke="#333" stroke-width="0.05">50</text>
<line x1="406.00" y1="378.43" x2="409.20" y2="378.43" stroke="#231f20" stroke-width="1.0"/>
<text x="402.90" y="381.09" font-size="7.4" fill="#222" text-anchor="end" stroke="#333" stroke-width="0.05">60</text>
<line x1="406.00" y1="366.76" x2="409.20" y2="366.76" stroke="#231f20" stroke-width="1.0"/>
<text x="402.90" y="369.43" font-size="7.4" fill="#222" text-anchor="end" stroke="#333" stroke-width="0.05">70</text>
<line x1="406.00" y1="355.10" x2="409.20" y2="355.10" stroke="#231f20" stroke-width="1.0"/>
<text x="402.90" y="357.76" font-size="7.4" fill="#222" text-anchor="end" stroke="#333" stroke-width="0.05">80</text>
<line x1="435.40" y1="393.30" x2="454.30" y2="393.30" stroke="#1e1e1e" stroke-width="1.2"/>
<text x="444.60" y="391.10" font-size="6" fill="#222" stroke="#222" stroke-width="0.2" text-anchor="middle">*</text>
<line x1="483.70" y1="351.00" x2="503.20" y2="351.00" stroke="#1e1e1e" stroke-width="1.2"/>
<text x="493.60" y="348.50" font-size="6" fill="#222" stroke="#222" stroke-width="0.2" text-anchor="middle">*</text>
<text x="388.60" y="400.30" font-size="7.6" fill="#222" text-anchor="middle" textLength="56.7" lengthAdjust="spacingAndGlyphs" transform="rotate(-90 388.60 400.30)" stroke="#222" stroke-width="0.25">Number of colonies</text>
<text x="434.10" y="458.40" font-size="7.3" fill="#222" stroke="#222" stroke-width="0.2" text-anchor="middle" textLength="31.2" lengthAdjust="spacingAndGlyphs">Kasumi-1</text>
<text x="483.50" y="458.40" font-size="7.4" fill="#222" stroke="#222" stroke-width="0.2" text-anchor="middle" textLength="21.5" lengthAdjust="spacingAndGlyphs">SKH-1</text>
<rect x="385.80" y="465.90" width="3.70" height="3.70" fill="#2d4e8a"/>
<text x="392.30" y="470.20" font-size="7" fill="#222" stroke="#222" stroke-width="0.2" textLength="18.5" lengthAdjust="spacingAndGlyphs">ETOH</text>
<rect x="416.20" y="465.90" width="3.70" height="3.70" fill="#b80c34"/>
<text x="421.80" y="470.20" font-size="7" fill="#222" stroke="#222" stroke-width="0.2" textLength="24" lengthAdjust="spacingAndGlyphs">17 β E2</text>
<rect x="452.00" y="465.90" width="3.70" height="3.70" fill="#6cb33f"/>
<text x="458.90" y="470.20" font-size="7" fill="#222" stroke="#222" stroke-width="0.2" textLength="18.5" lengthAdjust="spacingAndGlyphs">ETOH</text>
<rect x="482.00" y="465.90" width="3.70" height="3.70" fill="#55236f"/>
<text x="487.80" y="470.20" font-size="7" fill="#222" stroke="#222" stroke-width="0.2" textLength="24.9" lengthAdjust="spacingAndGlyphs">17 β E2</text>
<line x1="386.90" y1="475.10" x2="447.30" y2="475.10" stroke="#1a1a1a" stroke-width="1.3"/>
<line x1="453.10" y1="475.10" x2="512.00" y2="475.10" stroke="#1a1a1a" stroke-width="1.3"/>
<text x="416.00" y="484.70" font-size="7" fill="#222" stroke="#222" stroke-width="0.2" text-anchor="middle" textLength="16.6" lengthAdjust="spacingAndGlyphs">Mock</text>
<text x="482.30" y="484.70" font-size="7" fill="#222" stroke="#222" stroke-width="0.2" text-anchor="middle" textLength="40" lengthAdjust="spacingAndGlyphs">C/EBPα-ER</text>
<rect x="0.5" y="0.5" width="519" height="512" fill="none" stroke="#000" stroke-width="1"/><rect x="1.5" y="1.5" width="517" height="510" fill="none" stroke="#000" stroke-opacity="0.42" stroke-width="1"/>
</svg>
</body></html>
